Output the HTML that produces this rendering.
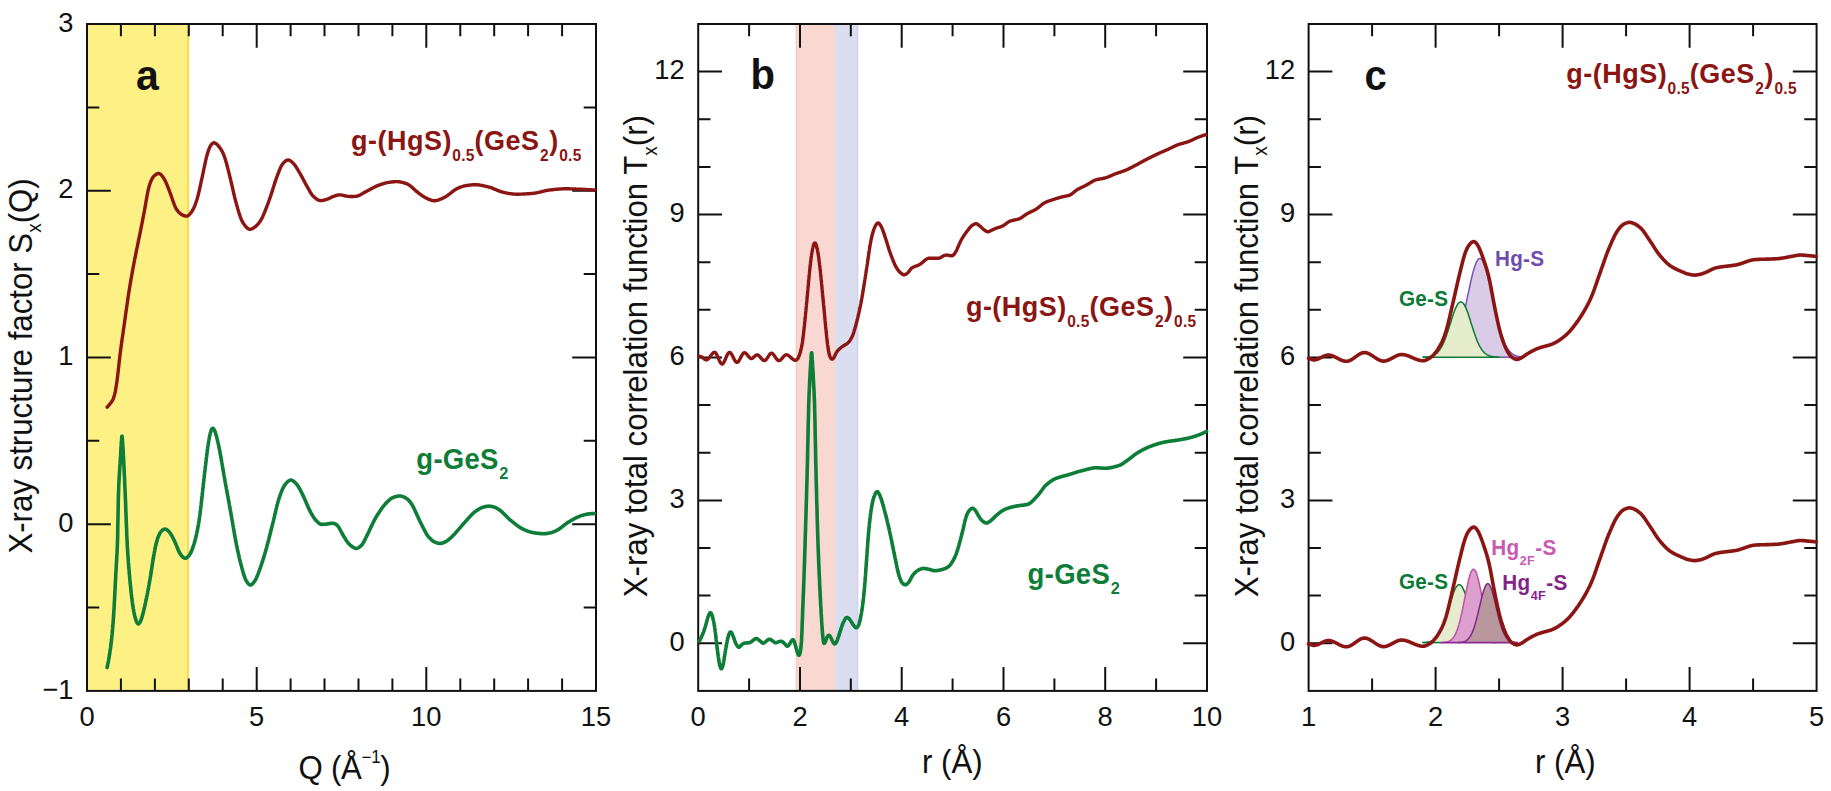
<!DOCTYPE html>
<html lang="en"><head><meta charset="utf-8"><title>X-ray structure factor and total correlation functions</title>
<style>html,body{margin:0;padding:0;background:#fff}body{width:1831px;height:791px;overflow:hidden}svg{display:block}text{font-family:"Liberation Sans", Arial, Helvetica, sans-serif;fill:#111}</style></head><body>
<svg width="1831" height="791" viewBox="0 0 1831 791">
<rect width="1831" height="791" fill="#fff"/>
<g id="panel-a">
<rect x="87" y="24" width="102" height="666.9" fill="#fdf085"/>
<rect x="187.1" y="24" width="2" height="666.9" fill="#f4df4a"/>
<path d="M120.9 690.9v-12.3M120.9 24v12.3M154.9 690.9v-12.3M154.9 24v12.3M188.8 690.9v-12.3M188.8 24v12.3M222.7 690.9v-12.3M222.7 24v12.3M256.7 690.9v-23.8M256.7 24v23.8M290.6 690.9v-12.3M290.6 24v12.3M324.5 690.9v-12.3M324.5 24v12.3M358.5 690.9v-12.3M358.5 24v12.3M392.4 690.9v-12.3M392.4 24v12.3M426.3 690.9v-23.8M426.3 24v23.8M460.3 690.9v-12.3M460.3 24v12.3M494.2 690.9v-12.3M494.2 24v12.3M528.1 690.9v-12.3M528.1 24v12.3M562.1 690.9v-12.3M562.1 24v12.3M87 607.5h12.3M596 607.5h-12.3M87 524.2h23.8M596 524.2h-23.8M87 440.8h12.3M596 440.8h-12.3M87 357.4h23.8M596 357.4h-23.8M87 274.1h12.3M596 274.1h-12.3M87 190.7h23.8M596 190.7h-23.8M87 107.4h12.3M596 107.4h-12.3" fill="none" stroke="#111" stroke-width="2.0"/>
<rect x="87" y="24" width="509" height="666.9" fill="none" stroke="#111" stroke-width="2.0"/>
<path d="M107.2 407.2 L107.7 406.6 L108.2 406 L108.7 405.5 L109.2 404.8 L109.7 404.2 L110.2 403.6 L110.7 402.9 L111.2 402.3 L111.7 401.6 L112.2 400.9 L112.7 400 L113.2 399 L113.7 397.7 L114.2 396.1 L114.7 394.1 L115.2 391.8 L115.7 389.2 L116.2 386.3 L116.7 383.1 L117.2 379.5 L117.7 375.4 L118.2 371.1 L118.7 366.5 L119.2 361.9 L119.7 357.5 L120.2 353.4 L120.7 349.5 L121.2 345.7 L121.7 342.1 L122.2 338.6 L122.7 335.2 L123.2 331.7 L123.7 328.3 L124.2 324.8 L124.7 321.3 L125.2 317.7 L125.7 314.1 L126.2 310.5 L126.7 306.9 L127.2 303.4 L127.7 300 L128.2 296.6 L128.7 293.3 L129.2 290.2 L129.7 287.1 L130.2 284.1 L130.7 281.2 L131.2 278.3 L131.7 275.5 L132.2 272.7 L132.7 269.9 L133.2 267.2 L133.7 264.6 L134.2 261.9 L134.7 259.3 L135.2 256.8 L135.7 254.3 L136.2 251.8 L136.7 249.4 L137.2 247 L137.7 244.6 L138.2 242.2 L138.7 239.7 L139.2 237.3 L139.7 234.9 L140.2 232.4 L140.7 229.9 L141.2 227.4 L141.7 224.8 L142.2 222.3 L142.7 219.7 L143.2 217.1 L143.7 214.5 L144.2 211.9 L144.7 209.2 L145.2 206.4 L145.7 203.5 L146.2 200.6 L146.7 197.7 L147.2 195 L147.7 192.4 L148.2 190.1 L148.7 188 L149.2 186.2 L149.7 184.5 L150.2 183.1 L150.7 181.7 L151.2 180.5 L151.7 179.5 L152.2 178.5 L152.7 177.7 L153.2 177 L153.7 176.4 L154.2 175.9 L154.7 175.4 L155.2 175 L155.7 174.7 L156.2 174.3 L156.7 174 L157.2 173.8 L157.7 173.6 L158.2 173.5 L158.7 173.5 L159.2 173.6 L159.7 173.8 L160.2 174 L160.7 174.4 L161.2 174.9 L161.7 175.5 L162.2 176.1 L162.7 176.8 L163.2 177.5 L163.7 178.2 L164.2 179 L164.7 179.9 L165.2 180.8 L165.7 181.9 L166.2 183 L166.7 184.2 L167.2 185.4 L167.7 186.6 L168.2 187.9 L168.7 189.2 L169.2 190.5 L169.7 191.8 L170.2 193.1 L170.7 194.5 L171.2 195.9 L171.7 197.3 L172.2 198.8 L172.7 200.2 L173.2 201.7 L173.7 203 L174.2 204.4 L174.7 205.6 L175.2 206.7 L175.7 207.8 L176.2 208.7 L176.7 209.5 L177.2 210.3 L177.7 210.9 L178.2 211.6 L178.7 212.1 L179.2 212.7 L179.7 213.1 L180.2 213.6 L180.7 213.9 L181.2 214.3 L181.7 214.6 L182.2 214.9 L182.7 215.1 L183.2 215.3 L183.7 215.6 L184.2 215.8 L184.7 215.9 L185.2 216 L185.7 216.1 L186.2 216.2 L186.7 216.1 L187.2 216 L187.7 215.8 L188.2 215.5 L188.8 215.1 L189.3 214.6 L189.8 214.1 L190.3 213.5 L190.8 212.9 L191.3 212.2 L191.8 211.5 L192.3 210.7 L192.8 209.9 L193.3 208.9 L193.8 207.9 L194.3 206.8 L194.8 205.6 L195.3 204.3 L195.8 202.9 L196.3 201.5 L196.8 200 L197.3 198.3 L197.8 196.5 L198.3 194.5 L198.8 192.5 L199.3 190.3 L199.8 188.1 L200.3 185.8 L200.8 183.5 L201.3 181.2 L201.8 178.9 L202.3 176.6 L202.8 174.2 L203.3 171.8 L203.8 169.4 L204.3 167 L204.8 164.6 L205.3 162.3 L205.8 160 L206.3 157.9 L206.8 156 L207.3 154.2 L207.8 152.5 L208.3 150.9 L208.8 149.5 L209.3 148.3 L209.8 147.1 L210.3 146.2 L210.8 145.3 L211.3 144.6 L211.8 144 L212.3 143.6 L212.8 143.2 L213.3 142.9 L213.8 142.8 L214.3 142.8 L214.8 142.9 L215.3 143.2 L215.8 143.5 L216.3 143.9 L216.8 144.3 L217.3 144.8 L217.8 145.3 L218.3 145.8 L218.8 146.4 L219.3 147 L219.8 147.7 L220.3 148.4 L220.8 149.1 L221.3 149.9 L221.8 150.8 L222.3 151.7 L222.8 152.7 L223.3 153.8 L223.8 155 L224.3 156.3 L224.8 157.7 L225.3 159.3 L225.8 160.9 L226.3 162.7 L226.8 164.5 L227.3 166.5 L227.8 168.4 L228.3 170.4 L228.8 172.4 L229.3 174.4 L229.8 176.4 L230.3 178.5 L230.8 180.6 L231.3 182.7 L231.8 184.8 L232.3 187 L232.8 189.2 L233.3 191.5 L233.8 193.6 L234.3 195.8 L234.8 197.8 L235.3 199.8 L235.8 201.8 L236.3 203.6 L236.8 205.4 L237.3 207.1 L237.8 208.9 L238.3 210.5 L238.8 212.2 L239.3 213.8 L239.8 215.3 L240.3 216.8 L240.8 218.1 L241.3 219.4 L241.8 220.5 L242.3 221.6 L242.8 222.5 L243.3 223.3 L243.8 224 L244.3 224.7 L244.8 225.4 L245.3 226 L245.8 226.6 L246.3 227.2 L246.8 227.7 L247.3 228.1 L247.8 228.5 L248.3 228.8 L248.8 229 L249.3 229.2 L249.8 229.2 L250.3 229.2 L250.8 229.2 L251.3 229 L251.8 228.8 L252.3 228.6 L252.8 228.4 L253.3 228.1 L253.8 227.8 L254.3 227.4 L254.8 227.1 L255.3 226.7 L255.8 226.3 L256.3 225.9 L256.8 225.4 L257.3 224.9 L257.8 224.3 L258.3 223.7 L258.8 223.1 L259.3 222.4 L259.8 221.7 L260.3 221 L260.8 220.2 L261.3 219.3 L261.8 218.4 L262.3 217.4 L262.8 216.4 L263.3 215.3 L263.8 214.1 L264.3 213 L264.8 211.7 L265.3 210.5 L265.8 209.2 L266.3 207.9 L266.8 206.6 L267.3 205.3 L267.8 203.9 L268.3 202.6 L268.8 201.2 L269.3 199.8 L269.8 198.4 L270.3 197 L270.8 195.5 L271.3 193.9 L271.8 192.4 L272.3 190.8 L272.8 189.2 L273.3 187.6 L273.8 186 L274.3 184.4 L274.8 182.9 L275.3 181.4 L275.8 179.9 L276.3 178.5 L276.8 177.1 L277.3 175.7 L277.8 174.4 L278.3 173.1 L278.8 171.8 L279.3 170.5 L279.8 169.3 L280.3 168.1 L280.8 167.1 L281.3 166.1 L281.8 165.2 L282.3 164.4 L282.8 163.8 L283.3 163.2 L283.8 162.6 L284.3 162.1 L284.8 161.6 L285.3 161.2 L285.8 160.8 L286.3 160.5 L286.8 160.3 L287.3 160.1 L287.8 160 L288.3 160 L288.8 160.1 L289.3 160.2 L289.8 160.5 L290.3 160.8 L290.8 161.1 L291.3 161.5 L291.8 161.9 L292.3 162.4 L292.8 162.9 L293.3 163.4 L293.8 163.9 L294.3 164.5 L294.8 165.1 L295.3 165.8 L295.8 166.5 L296.3 167.3 L296.8 168.1 L297.3 168.9 L297.8 169.7 L298.3 170.6 L298.8 171.4 L299.3 172.3 L299.8 173.1 L300.3 174 L300.8 174.9 L301.3 175.8 L301.8 176.7 L302.3 177.6 L302.8 178.6 L303.3 179.5 L303.8 180.5 L304.3 181.4 L304.8 182.3 L305.3 183.3 L305.8 184.2 L306.3 185.1 L306.8 186 L307.3 186.9 L307.8 187.7 L308.3 188.6 L308.8 189.5 L309.3 190.4 L309.8 191.3 L310.3 192.2 L310.8 193 L311.3 193.8 L311.8 194.5 L312.3 195.1 L312.8 195.7 L313.3 196.2 L313.8 196.7 L314.3 197.2 L314.8 197.6 L315.3 198 L315.8 198.4 L316.3 198.8 L316.8 199.2 L317.3 199.5 L317.8 199.8 L318.3 200 L318.8 200.2 L319.3 200.4 L319.8 200.5 L320.3 200.6 L320.8 200.6 L321.3 200.6 L321.8 200.6 L322.3 200.5 L322.8 200.4 L323.3 200.3 L323.8 200.2 L324.3 200.1 L324.8 199.9 L325.3 199.8 L325.8 199.6 L326.3 199.5 L326.8 199.3 L327.3 199.2 L327.8 199 L328.3 198.8 L328.8 198.5 L329.3 198.3 L329.8 198.1 L330.3 197.8 L330.8 197.6 L331.3 197.3 L331.8 197.1 L332.3 196.9 L332.8 196.7 L333.3 196.5 L333.8 196.3 L334.3 196.1 L334.8 195.9 L335.3 195.8 L335.8 195.6 L336.3 195.4 L336.8 195.3 L337.3 195.1 L337.8 195 L338.3 194.9 L338.8 194.9 L339.3 194.9 L339.8 194.9 L340.3 194.9 L340.8 195 L341.3 195 L341.8 195.1 L342.3 195.2 L342.8 195.3 L343.3 195.4 L343.8 195.6 L344.3 195.7 L344.8 195.8 L345.3 195.9 L345.8 196 L346.3 196.1 L346.8 196.1 L347.3 196.2 L347.8 196.3 L348.3 196.4 L348.8 196.4 L349.3 196.5 L349.8 196.5 L350.3 196.5 L350.8 196.5 L351.4 196.5 L351.9 196.5 L352.4 196.5 L352.9 196.5 L353.4 196.5 L353.9 196.4 L354.4 196.4 L354.9 196.4 L355.4 196.4 L355.9 196.3 L356.4 196.3 L356.9 196.2 L357.4 196.1 L357.9 195.9 L358.4 195.7 L358.9 195.5 L359.4 195.3 L359.9 195 L360.4 194.8 L360.9 194.5 L361.4 194.2 L361.9 193.9 L362.4 193.6 L362.9 193.3 L363.4 193 L363.9 192.7 L364.4 192.4 L364.9 192.2 L365.4 191.9 L365.9 191.6 L366.4 191.4 L366.9 191.1 L367.4 190.9 L367.9 190.6 L368.4 190.3 L368.9 190.1 L369.4 189.8 L369.9 189.5 L370.4 189.2 L370.9 189 L371.4 188.7 L371.9 188.4 L372.4 188.2 L372.9 187.9 L373.4 187.6 L373.9 187.4 L374.4 187.1 L374.9 186.9 L375.4 186.6 L375.9 186.4 L376.4 186.2 L376.9 185.9 L377.4 185.7 L377.9 185.5 L378.4 185.3 L378.9 185.1 L379.4 185 L379.9 184.8 L380.4 184.6 L380.9 184.4 L381.4 184.3 L381.9 184.1 L382.4 183.9 L382.9 183.8 L383.4 183.6 L383.9 183.5 L384.4 183.3 L384.9 183.2 L385.4 183.1 L385.9 182.9 L386.4 182.8 L386.9 182.7 L387.4 182.6 L387.9 182.5 L388.4 182.4 L388.9 182.4 L389.4 182.3 L389.9 182.2 L390.4 182.1 L390.9 182.1 L391.4 182 L391.9 182 L392.4 181.9 L392.9 181.8 L393.4 181.8 L393.9 181.7 L394.4 181.7 L394.9 181.7 L395.4 181.6 L395.9 181.6 L396.4 181.6 L396.9 181.6 L397.4 181.6 L397.9 181.7 L398.4 181.7 L398.9 181.8 L399.4 181.8 L399.9 181.9 L400.4 182 L400.9 182.1 L401.4 182.2 L401.9 182.3 L402.4 182.4 L402.9 182.5 L403.4 182.7 L403.9 182.8 L404.4 183 L404.9 183.1 L405.4 183.3 L405.9 183.4 L406.4 183.6 L406.9 183.8 L407.4 184 L407.9 184.3 L408.4 184.5 L408.9 184.9 L409.4 185.2 L409.9 185.6 L410.4 185.9 L410.9 186.4 L411.4 186.8 L411.9 187.2 L412.4 187.7 L412.9 188.1 L413.4 188.6 L413.9 189 L414.4 189.5 L414.9 190 L415.4 190.4 L415.9 190.9 L416.4 191.3 L416.9 191.7 L417.4 192.1 L417.9 192.5 L418.4 192.9 L418.9 193.3 L419.4 193.6 L419.9 194 L420.4 194.4 L420.9 194.8 L421.4 195.1 L421.9 195.5 L422.4 195.8 L422.9 196.2 L423.4 196.5 L423.9 196.8 L424.4 197.1 L424.9 197.4 L425.4 197.7 L425.9 197.9 L426.4 198.2 L426.9 198.4 L427.4 198.6 L427.9 198.9 L428.4 199.1 L428.9 199.3 L429.4 199.5 L429.9 199.7 L430.4 199.9 L430.9 200.1 L431.4 200.3 L431.9 200.4 L432.4 200.5 L432.9 200.6 L433.4 200.7 L433.9 200.7 L434.4 200.7 L434.9 200.7 L435.4 200.7 L435.9 200.6 L436.4 200.5 L436.9 200.4 L437.4 200.3 L437.9 200.2 L438.4 200 L438.9 199.8 L439.4 199.6 L439.9 199.4 L440.4 199.2 L440.9 199 L441.4 198.8 L441.9 198.6 L442.4 198.3 L442.9 198.1 L443.4 197.9 L443.9 197.6 L444.4 197.4 L444.9 197.1 L445.4 196.8 L445.9 196.6 L446.4 196.2 L446.9 195.9 L447.4 195.6 L447.9 195.2 L448.4 194.8 L448.9 194.4 L449.4 194.1 L449.9 193.7 L450.4 193.3 L450.9 192.9 L451.4 192.5 L451.9 192.1 L452.4 191.7 L452.9 191.3 L453.4 190.9 L453.9 190.5 L454.4 190.2 L454.9 189.9 L455.4 189.5 L455.9 189.3 L456.4 189 L456.9 188.7 L457.4 188.5 L457.9 188.2 L458.4 188 L458.9 187.8 L459.4 187.6 L459.9 187.4 L460.4 187.2 L460.9 187 L461.4 186.8 L461.9 186.7 L462.4 186.5 L462.9 186.3 L463.4 186.2 L463.9 186.1 L464.4 185.9 L464.9 185.8 L465.4 185.7 L465.9 185.6 L466.4 185.5 L466.9 185.5 L467.4 185.4 L467.9 185.3 L468.4 185.3 L468.9 185.2 L469.4 185.1 L469.9 185.1 L470.4 185 L470.9 185 L471.4 184.9 L471.9 184.9 L472.4 184.8 L472.9 184.8 L473.4 184.8 L473.9 184.7 L474.4 184.7 L474.9 184.7 L475.4 184.7 L475.9 184.7 L476.4 184.7 L476.9 184.8 L477.4 184.8 L477.9 184.8 L478.4 184.9 L478.9 185 L479.4 185 L479.9 185.1 L480.4 185.2 L480.9 185.3 L481.4 185.4 L481.9 185.4 L482.4 185.5 L482.9 185.6 L483.4 185.8 L483.9 185.9 L484.4 186 L484.9 186.1 L485.4 186.2 L485.9 186.3 L486.4 186.4 L486.9 186.6 L487.4 186.7 L487.9 186.8 L488.4 186.9 L488.9 187.1 L489.4 187.2 L489.9 187.3 L490.4 187.5 L490.9 187.7 L491.4 187.9 L491.9 188 L492.4 188.2 L492.9 188.4 L493.4 188.6 L493.9 188.8 L494.4 189.1 L494.9 189.3 L495.4 189.5 L495.9 189.7 L496.4 189.9 L496.9 190.1 L497.4 190.3 L497.9 190.5 L498.4 190.7 L498.9 190.9 L499.4 191.1 L499.9 191.3 L500.4 191.5 L500.9 191.6 L501.4 191.8 L501.9 191.9 L502.4 192.1 L502.9 192.2 L503.4 192.3 L503.9 192.5 L504.4 192.6 L504.9 192.7 L505.4 192.8 L505.9 192.9 L506.4 193 L506.9 193.1 L507.4 193.2 L507.9 193.3 L508.4 193.4 L508.9 193.5 L509.4 193.6 L509.9 193.6 L510.4 193.7 L510.9 193.8 L511.4 193.8 L511.9 193.9 L512.4 193.9 L512.9 194 L513.4 194 L514 194.1 L514.5 194.1 L515 194.1 L515.5 194.2 L516 194.2 L516.5 194.2 L517 194.2 L517.5 194.2 L518 194.2 L518.5 194.2 L519 194.2 L519.5 194.2 L520 194.1 L520.5 194.1 L521 194.1 L521.5 194.1 L522 194.1 L522.5 194.1 L523 194 L523.5 194 L524 194 L524.5 194 L525 193.9 L525.5 193.9 L526 193.9 L526.5 193.8 L527 193.8 L527.5 193.8 L528 193.7 L528.5 193.7 L529 193.7 L529.5 193.6 L530 193.6 L530.5 193.6 L531 193.5 L531.5 193.5 L532 193.5 L532.5 193.4 L533 193.4 L533.5 193.3 L534 193.3 L534.5 193.2 L535 193.1 L535.5 193 L536 192.9 L536.5 192.8 L537 192.7 L537.5 192.6 L538 192.5 L538.5 192.4 L539 192.3 L539.5 192.2 L540 192.1 L540.5 191.9 L541 191.8 L541.5 191.7 L542 191.6 L542.5 191.4 L543 191.3 L543.5 191.2 L544 191.1 L544.5 190.9 L545 190.8 L545.5 190.7 L546 190.6 L546.5 190.5 L547 190.4 L547.5 190.3 L548 190.3 L548.5 190.2 L549 190.1 L549.5 190.1 L550 190 L550.5 189.9 L551 189.9 L551.5 189.8 L552 189.8 L552.5 189.7 L553 189.7 L553.5 189.6 L554 189.5 L554.5 189.5 L555 189.4 L555.5 189.4 L556 189.3 L556.5 189.3 L557 189.2 L557.5 189.2 L558 189.2 L558.5 189.1 L559 189.1 L559.5 189 L560 189 L560.5 189 L561 188.9 L561.5 188.9 L562 188.9 L562.5 188.9 L563 188.8 L563.5 188.8 L564 188.8 L564.5 188.8 L565 188.8 L565.5 188.8 L566 188.8 L566.5 188.8 L567 188.8 L567.5 188.8 L568 188.8 L568.5 188.8 L569 188.8 L569.5 188.8 L570 188.9 L570.5 188.9 L571 188.9 L571.5 188.9 L572 188.9 L572.5 188.9 L573 188.9 L573.5 189 L574 189 L574.5 189 L575 189 L575.5 189 L576 189.1 L576.5 189.1 L577 189.1 L577.5 189.1 L578 189.1 L578.5 189.2 L579 189.2 L579.5 189.2 L580 189.2 L580.5 189.2 L581 189.3 L581.5 189.3 L582 189.3 L582.5 189.3 L583 189.4 L583.5 189.4 L584 189.4 L584.5 189.4 L585 189.5 L585.5 189.5 L586 189.5 L586.5 189.5 L587 189.6 L587.5 189.6 L588 189.6 L588.5 189.7 L589 189.7 L589.5 189.7 L590 189.7 L590.5 189.8 L591 189.8 L591.5 189.8 L592 189.9 L592.5 189.9 L593 190 L593.5 190 L594 190 L594.5 190.1 L595 190.1" fill="none" stroke="#8a1512" stroke-width="3.4" stroke-linejoin="round" stroke-linecap="round"/>
<path d="M107.1 667.6 L107.3 666.5 L107.6 665.3 L107.8 664.1 L108.1 662.9 L108.3 661.6 L108.6 660.3 L108.8 658.9 L109.1 657.4 L109.3 655.9 L109.6 654.4 L109.8 652.8 L110.1 651.1 L110.3 649.3 L110.6 647.5 L110.8 645.6 L111.1 643.6 L111.3 641.5 L111.6 639.3 L111.8 636.9 L112.1 634.4 L112.3 631.8 L112.6 628.9 L112.8 625.9 L113.1 622.6 L113.3 619.1 L113.6 615.5 L113.8 611.8 L114.1 607.8 L114.3 603.4 L114.6 598.5 L114.8 593.4 L115.1 588.4 L115.3 583.6 L115.6 578.8 L115.8 574.2 L116.1 569.5 L116.3 564.9 L116.6 560.7 L116.8 556.6 L117.1 552 L117.3 546.3 L117.6 538 L117.8 525.9 L118.1 512.3 L118.3 499.8 L118.6 490.7 L118.8 484.7 L119.1 479.6 L119.3 475.3 L119.6 471.3 L119.8 467.6 L120.1 463.9 L120.3 459.9 L120.6 455.4 L120.8 450.8 L121.1 446.4 L121.3 442.7 L121.6 439.3 L121.8 436.4 L122.1 436.1 L122.3 438.6 L122.6 442 L122.8 445.6 L123.1 449.7 L123.3 454.3 L123.6 459 L123.8 463.8 L124.1 468.9 L124.3 474.1 L124.6 479.5 L124.8 485.1 L125.1 490.7 L125.3 496.6 L125.6 503.1 L125.8 509.7 L126.1 516.5 L126.3 523.2 L126.6 529.7 L126.8 535.7 L127.1 541.2 L127.3 545.9 L127.6 550.1 L127.8 554.1 L128.1 557.9 L128.3 561.4 L128.6 564.7 L128.8 567.8 L129.1 570.7 L129.3 573.6 L129.6 576.4 L129.8 579.1 L130.1 581.7 L130.3 584.3 L130.6 586.8 L130.8 589.3 L131.1 591.7 L131.3 594 L131.6 596.2 L131.8 598.3 L132.1 600.3 L132.3 602.2 L132.6 604 L132.8 605.7 L133.1 607.3 L133.3 608.8 L133.6 610.2 L133.8 611.6 L134.1 612.9 L134.3 614 L134.6 615.2 L134.8 616.2 L135.1 617.2 L135.3 618.1 L135.6 618.9 L135.8 619.7 L136.1 620.4 L136.3 621.1 L136.6 621.7 L136.8 622.2 L137.1 622.7 L137.3 623.1 L137.6 623.4 L137.8 623.6 L138.1 623.8 L138.3 623.9 L138.6 623.9 L138.8 623.8 L139.1 623.6 L139.3 623.3 L139.6 623 L139.8 622.6 L140.1 622.2 L140.3 621.7 L140.6 621.1 L140.8 620.5 L141.1 619.9 L141.3 619.2 L141.6 618.5 L141.8 617.7 L142.1 616.9 L142.3 616 L142.6 615.1 L142.8 614.2 L143.1 613.2 L143.3 612.2 L143.6 611.2 L143.8 610.1 L144.1 609.1 L144.3 608 L144.6 606.9 L144.8 605.8 L145.1 604.7 L145.3 603.5 L145.6 602.4 L145.8 601.2 L146.1 600 L146.3 598.8 L146.6 597.6 L146.8 596.4 L147.1 595.1 L147.3 593.9 L147.6 592.6 L147.8 591.3 L148.1 590 L148.3 588.7 L148.6 587.3 L148.8 585.9 L149.1 584.6 L149.3 583.2 L149.6 581.7 L149.8 580.3 L150.1 578.8 L150.3 577.3 L150.6 575.8 L150.8 574.2 L151.1 572.6 L151.3 571 L151.6 569.4 L151.8 567.8 L152.1 566.1 L152.3 564.5 L152.6 562.9 L152.8 561.3 L153.1 559.7 L153.3 558.2 L153.6 556.7 L153.8 555.2 L154.1 553.8 L154.3 552.4 L154.6 551.1 L154.8 549.8 L155.1 548.5 L155.3 547.3 L155.6 546.2 L155.8 545.1 L156.1 544 L156.3 543 L156.6 542.1 L156.8 541.2 L157.1 540.3 L157.3 539.5 L157.6 538.7 L157.8 538 L158.1 537.3 L158.3 536.6 L158.6 536 L158.8 535.4 L159.1 534.9 L159.3 534.3 L159.6 533.8 L159.8 533.4 L160.1 532.9 L160.3 532.5 L160.6 532.1 L160.8 531.8 L161.1 531.5 L161.3 531.2 L161.6 530.9 L161.8 530.7 L162.1 530.4 L162.3 530.2 L162.6 530 L162.8 529.9 L163.1 529.7 L163.3 529.6 L163.6 529.4 L163.8 529.3 L164.1 529.3 L164.3 529.2 L164.6 529.1 L164.8 529.1 L165.1 529.1 L165.3 529.1 L165.6 529.2 L165.8 529.2 L166.1 529.3 L166.3 529.4 L166.6 529.6 L166.8 529.7 L167.1 529.9 L167.3 530.1 L167.6 530.3 L167.8 530.5 L168.1 530.7 L168.3 530.9 L168.6 531.2 L168.8 531.4 L169.1 531.7 L169.3 532 L169.6 532.3 L169.8 532.6 L170.1 533 L170.3 533.3 L170.6 533.7 L170.8 534.1 L171.1 534.5 L171.3 534.9 L171.6 535.3 L171.8 535.8 L172.1 536.2 L172.3 536.7 L172.6 537.1 L172.8 537.6 L173.1 538.1 L173.3 538.6 L173.6 539.1 L173.8 539.6 L174.1 540.1 L174.3 540.6 L174.6 541.2 L174.8 541.7 L175.1 542.3 L175.3 542.8 L175.6 543.4 L175.8 544 L176.1 544.6 L176.3 545.3 L176.6 545.9 L176.8 546.5 L177.1 547.1 L177.3 547.8 L177.6 548.4 L177.8 549 L178.1 549.6 L178.3 550.2 L178.6 550.7 L178.8 551.3 L179.1 551.8 L179.3 552.3 L179.6 552.8 L179.8 553.2 L180.1 553.6 L180.3 554 L180.6 554.4 L180.8 554.7 L181.1 555.1 L181.3 555.4 L181.6 555.7 L181.8 556 L182.1 556.3 L182.3 556.5 L182.6 556.8 L182.8 557 L183.1 557.2 L183.3 557.4 L183.6 557.6 L183.8 557.8 L184.1 557.9 L184.3 558 L184.6 558.1 L184.8 558.2 L185.1 558.2 L185.3 558.2 L185.6 558.2 L185.8 558.2 L186.1 558.1 L186.3 558 L186.6 557.8 L186.8 557.7 L187.1 557.5 L187.3 557.3 L187.6 557.1 L187.8 556.8 L188.1 556.6 L188.3 556.3 L188.6 556 L188.8 555.7 L189.1 555.4 L189.3 555 L189.6 554.7 L189.8 554.3 L190.1 553.9 L190.3 553.5 L190.6 553 L190.8 552.5 L191.1 552 L191.3 551.5 L191.6 550.9 L191.8 550.3 L192.1 549.7 L192.3 549 L192.6 548.4 L192.8 547.7 L193.1 546.9 L193.3 546.2 L193.6 545.4 L193.8 544.7 L194.1 543.8 L194.3 543 L194.6 542.1 L194.8 541.3 L195.1 540.3 L195.3 539.4 L195.6 538.4 L195.8 537.4 L196.1 536.3 L196.3 535.2 L196.6 534.1 L196.8 532.9 L197.1 531.7 L197.3 530.5 L197.6 529.2 L197.8 527.9 L198.1 526.5 L198.3 525.1 L198.6 523.6 L198.8 522.1 L199.1 520.5 L199.3 518.8 L199.6 517 L199.8 515.2 L200.1 513.3 L200.3 511.3 L200.6 509.2 L200.8 507.1 L201.1 505 L201.3 502.8 L201.6 500.6 L201.8 498.3 L202.1 496 L202.3 493.7 L202.6 491.4 L202.8 489.1 L203.1 486.9 L203.3 484.6 L203.6 482.3 L203.8 480.1 L204.1 477.9 L204.3 475.7 L204.6 473.5 L204.8 471.4 L205.1 469.2 L205.3 467 L205.6 464.9 L205.8 462.8 L206.1 460.7 L206.3 458.6 L206.6 456.5 L206.8 454.5 L207.1 452.5 L207.3 450.6 L207.6 448.7 L207.8 446.9 L208.1 445.2 L208.3 443.6 L208.6 442 L208.8 440.5 L209.1 439 L209.3 437.7 L209.6 436.4 L209.8 435.2 L210.1 434.1 L210.3 433.1 L210.6 432.2 L210.8 431.4 L211.1 430.7 L211.3 430 L211.6 429.5 L211.8 429.1 L212.1 428.7 L212.3 428.5 L212.6 428.4 L212.8 428.4 L213.1 428.4 L213.3 428.6 L213.6 428.8 L213.8 429.2 L214.1 429.6 L214.3 430.1 L214.6 430.6 L214.8 431.2 L215.1 431.8 L215.3 432.5 L215.6 433.3 L215.8 434.1 L216.1 434.9 L216.3 435.8 L216.6 436.7 L216.8 437.7 L217.1 438.7 L217.3 439.7 L217.6 440.8 L217.8 441.9 L218.1 443 L218.3 444.2 L218.6 445.3 L218.8 446.5 L219.1 447.7 L219.3 449 L219.6 450.2 L219.8 451.5 L220.1 452.8 L220.3 454.2 L220.6 455.5 L220.8 456.9 L221.1 458.3 L221.3 459.7 L221.6 461.2 L221.8 462.6 L222.1 464.1 L222.3 465.5 L222.6 467 L222.8 468.4 L223.1 469.9 L223.3 471.4 L223.6 472.8 L223.8 474.3 L224.1 475.7 L224.3 477.1 L224.6 478.6 L224.8 480 L225.1 481.4 L225.3 482.8 L225.6 484.2 L225.8 485.5 L226.1 486.9 L226.3 488.3 L226.6 489.6 L226.8 491 L227.1 492.4 L227.3 493.7 L227.6 495.1 L227.8 496.4 L228.1 497.8 L228.3 499.2 L228.6 500.5 L228.8 501.9 L229.1 503.2 L229.3 504.6 L229.6 506 L229.8 507.4 L230.1 508.7 L230.3 510.1 L230.6 511.5 L230.8 512.9 L231.1 514.3 L231.3 515.7 L231.6 517.1 L231.8 518.5 L232.1 520 L232.3 521.4 L232.6 522.9 L232.8 524.3 L233.1 525.8 L233.3 527.3 L233.6 528.7 L233.8 530.2 L234.1 531.6 L234.3 533.1 L234.6 534.5 L234.8 536 L235.1 537.4 L235.3 538.7 L235.6 540.1 L235.8 541.4 L236.1 542.8 L236.3 544 L236.6 545.3 L236.8 546.5 L237.1 547.7 L237.3 548.9 L237.6 550.1 L237.8 551.3 L238.1 552.4 L238.3 553.5 L238.6 554.6 L238.8 555.7 L239.1 556.8 L239.3 557.9 L239.6 558.9 L239.8 559.9 L240.1 560.9 L240.3 561.9 L240.6 562.9 L240.8 563.9 L241.1 564.8 L241.3 565.8 L241.6 566.7 L241.8 567.7 L242.1 568.6 L242.3 569.5 L242.6 570.4 L242.8 571.3 L243.1 572.2 L243.3 573 L243.6 573.9 L243.8 574.7 L244.1 575.5 L244.3 576.2 L244.6 576.9 L244.8 577.6 L245.1 578.3 L245.3 578.9 L245.6 579.4 L245.8 579.9 L246.1 580.4 L246.3 580.9 L246.6 581.3 L246.8 581.7 L247.1 582.1 L247.3 582.5 L247.6 582.8 L247.8 583.1 L248.1 583.4 L248.3 583.7 L248.6 584 L248.8 584.2 L249.1 584.4 L249.3 584.6 L249.6 584.8 L249.8 584.9 L250.1 584.9 L250.3 585 L250.6 585 L250.8 585 L251.1 584.9 L251.3 584.8 L251.6 584.7 L251.8 584.5 L252.1 584.3 L252.3 584.1 L252.6 583.8 L252.8 583.6 L253.1 583.3 L253.3 583 L253.6 582.7 L253.8 582.3 L254.1 582 L254.3 581.6 L254.6 581.3 L254.8 580.9 L255.1 580.5 L255.3 580 L255.6 579.6 L255.8 579.1 L256.1 578.6 L256.4 578.1 L256.6 577.5 L256.9 576.9 L257.1 576.3 L257.4 575.7 L257.6 575.1 L257.9 574.4 L258.1 573.8 L258.4 573.1 L258.6 572.4 L258.9 571.7 L259.1 571.1 L259.4 570.4 L259.6 569.7 L259.9 569 L260.1 568.3 L260.4 567.6 L260.6 566.9 L260.9 566.2 L261.1 565.4 L261.4 564.7 L261.6 564 L261.9 563.2 L262.1 562.4 L262.4 561.7 L262.6 560.9 L262.9 560.1 L263.1 559.3 L263.4 558.5 L263.6 557.7 L263.9 556.9 L264.1 556.1 L264.4 555.3 L264.6 554.4 L264.9 553.6 L265.1 552.7 L265.4 551.9 L265.6 551 L265.9 550.1 L266.1 549.2 L266.4 548.3 L266.6 547.4 L266.9 546.5 L267.1 545.6 L267.4 544.6 L267.6 543.7 L267.9 542.8 L268.1 541.8 L268.4 540.9 L268.6 539.9 L268.9 538.9 L269.1 538 L269.4 537 L269.6 536 L269.9 535 L270.1 534 L270.4 533 L270.6 532 L270.9 531 L271.1 530 L271.4 529 L271.6 528 L271.9 527 L272.1 526 L272.4 525 L272.6 524 L272.9 522.9 L273.1 521.9 L273.4 520.9 L273.6 519.8 L273.9 518.8 L274.1 517.7 L274.4 516.6 L274.6 515.6 L274.9 514.5 L275.1 513.4 L275.4 512.4 L275.6 511.3 L275.9 510.2 L276.1 509.2 L276.4 508.1 L276.6 507.1 L276.9 506.1 L277.1 505.1 L277.4 504.2 L277.6 503.2 L277.9 502.3 L278.1 501.4 L278.4 500.5 L278.6 499.7 L278.9 498.9 L279.1 498.1 L279.4 497.3 L279.6 496.6 L279.9 495.9 L280.1 495.2 L280.4 494.5 L280.6 493.8 L280.9 493.1 L281.1 492.5 L281.4 491.8 L281.6 491.2 L281.9 490.6 L282.1 490 L282.4 489.5 L282.6 488.9 L282.9 488.4 L283.1 487.9 L283.4 487.4 L283.6 486.9 L283.9 486.5 L284.1 486.1 L284.4 485.7 L284.6 485.3 L284.9 484.9 L285.1 484.6 L285.4 484.3 L285.6 483.9 L285.9 483.6 L286.1 483.3 L286.4 483.1 L286.6 482.8 L286.9 482.5 L287.1 482.3 L287.4 482 L287.6 481.8 L287.9 481.5 L288.1 481.3 L288.4 481.1 L288.6 480.9 L288.9 480.8 L289.1 480.6 L289.4 480.5 L289.6 480.4 L289.9 480.3 L290.1 480.2 L290.4 480.1 L290.6 480.1 L290.9 480.1 L291.1 480.1 L291.4 480.1 L291.6 480.2 L291.9 480.3 L292.1 480.4 L292.4 480.5 L292.6 480.6 L292.9 480.8 L293.1 480.9 L293.4 481.1 L293.6 481.3 L293.9 481.5 L294.1 481.7 L294.4 481.9 L294.6 482.1 L294.9 482.4 L295.1 482.6 L295.4 482.9 L295.6 483.1 L295.9 483.4 L296.1 483.6 L296.4 483.9 L296.6 484.2 L296.9 484.5 L297.1 484.8 L297.4 485.2 L297.6 485.5 L297.9 485.9 L298.1 486.2 L298.4 486.6 L298.6 487 L298.9 487.5 L299.1 487.9 L299.4 488.3 L299.6 488.8 L299.9 489.2 L300.1 489.7 L300.4 490.2 L300.6 490.7 L300.9 491.2 L301.1 491.7 L301.4 492.1 L301.6 492.6 L301.9 493.1 L302.1 493.6 L302.4 494.1 L302.6 494.6 L302.9 495.2 L303.1 495.7 L303.4 496.2 L303.6 496.8 L303.9 497.3 L304.1 497.9 L304.4 498.4 L304.6 499 L304.9 499.6 L305.1 500.1 L305.4 500.7 L305.6 501.3 L305.9 501.9 L306.1 502.5 L306.4 503.1 L306.6 503.7 L306.9 504.2 L307.1 504.8 L307.4 505.4 L307.6 506 L307.9 506.5 L308.1 507.1 L308.4 507.7 L308.6 508.2 L308.9 508.7 L309.1 509.3 L309.4 509.8 L309.6 510.3 L309.9 510.8 L310.1 511.3 L310.4 511.8 L310.6 512.2 L310.9 512.7 L311.1 513.1 L311.4 513.6 L311.6 514 L311.9 514.5 L312.1 514.9 L312.4 515.3 L312.6 515.7 L312.9 516.1 L313.1 516.5 L313.4 516.9 L313.6 517.3 L313.9 517.7 L314.1 518 L314.4 518.4 L314.6 518.7 L314.9 519.1 L315.1 519.4 L315.4 519.7 L315.6 520 L315.9 520.3 L316.1 520.6 L316.4 520.8 L316.6 521.1 L316.9 521.4 L317.1 521.6 L317.4 521.9 L317.6 522.1 L317.9 522.3 L318.1 522.6 L318.4 522.8 L318.6 523 L318.9 523.2 L319.1 523.4 L319.4 523.6 L319.6 523.7 L319.9 523.9 L320.1 524 L320.4 524.1 L320.6 524.2 L320.9 524.2 L321.1 524.3 L321.4 524.3 L321.6 524.3 L321.9 524.3 L322.1 524.4 L322.4 524.4 L322.6 524.3 L322.9 524.3 L323.1 524.3 L323.4 524.3 L323.6 524.3 L323.9 524.3 L324.1 524.3 L324.4 524.2 L324.6 524.2 L324.9 524.2 L325.1 524.2 L325.4 524.2 L325.6 524.1 L325.9 524.1 L326.1 524.1 L326.4 524.1 L326.6 524 L326.9 524 L327.1 524 L327.4 523.9 L327.6 523.9 L327.9 523.9 L328.1 523.8 L328.4 523.8 L328.6 523.7 L328.9 523.7 L329.1 523.6 L329.4 523.6 L329.6 523.5 L329.9 523.5 L330.1 523.4 L330.4 523.4 L330.6 523.4 L330.9 523.3 L331.1 523.3 L331.4 523.2 L331.6 523.2 L331.9 523.2 L332.1 523.2 L332.4 523.2 L332.6 523.2 L332.9 523.2 L333.1 523.2 L333.4 523.3 L333.6 523.3 L333.9 523.4 L334.1 523.5 L334.4 523.6 L334.6 523.7 L334.9 523.8 L335.1 523.9 L335.4 524 L335.6 524.2 L335.9 524.3 L336.1 524.5 L336.4 524.6 L336.6 524.8 L336.9 525 L337.1 525.3 L337.4 525.5 L337.6 525.8 L337.9 526 L338.1 526.4 L338.4 526.7 L338.6 527.1 L338.9 527.4 L339.1 527.9 L339.4 528.3 L339.6 528.7 L339.9 529.2 L340.1 529.6 L340.4 530.1 L340.6 530.6 L340.9 531.1 L341.1 531.6 L341.4 532.1 L341.6 532.5 L341.9 533 L342.1 533.5 L342.4 533.9 L342.6 534.4 L342.9 534.8 L343.1 535.2 L343.4 535.7 L343.6 536.1 L343.9 536.5 L344.1 536.9 L344.4 537.3 L344.6 537.7 L344.9 538.1 L345.1 538.5 L345.4 538.9 L345.6 539.3 L345.9 539.7 L346.1 540.1 L346.4 540.5 L346.6 540.9 L346.9 541.2 L347.1 541.6 L347.4 541.9 L347.6 542.3 L347.9 542.6 L348.1 542.9 L348.4 543.2 L348.6 543.5 L348.9 543.8 L349.1 544 L349.4 544.3 L349.6 544.5 L349.9 544.8 L350.1 545 L350.4 545.2 L350.6 545.4 L350.9 545.6 L351.1 545.8 L351.4 546 L351.6 546.2 L351.9 546.4 L352.1 546.6 L352.4 546.8 L352.6 547 L352.9 547.1 L353.1 547.3 L353.4 547.4 L353.6 547.6 L353.9 547.7 L354.1 547.8 L354.4 547.9 L354.6 548 L354.9 548.1 L355.1 548.2 L355.4 548.3 L355.6 548.3 L355.9 548.3 L356.1 548.4 L356.4 548.4 L356.6 548.3 L356.9 548.3 L357.1 548.3 L357.4 548.2 L357.6 548.1 L357.9 548 L358.1 547.9 L358.4 547.8 L358.6 547.6 L358.9 547.5 L359.1 547.3 L359.4 547.1 L359.6 546.9 L359.9 546.7 L360.1 546.5 L360.4 546.3 L360.6 546.1 L360.9 545.9 L361.1 545.6 L361.4 545.4 L361.6 545.1 L361.9 544.8 L362.1 544.5 L362.4 544.2 L362.6 543.8 L362.9 543.5 L363.1 543.1 L363.4 542.7 L363.6 542.2 L363.9 541.8 L364.1 541.3 L364.4 540.8 L364.6 540.3 L364.9 539.8 L365.1 539.3 L365.4 538.8 L365.6 538.3 L365.9 537.7 L366.1 537.2 L366.4 536.7 L366.6 536.2 L366.9 535.7 L367.1 535.2 L367.4 534.7 L367.6 534.2 L367.9 533.7 L368.1 533.1 L368.4 532.6 L368.6 532.1 L368.9 531.6 L369.1 531 L369.4 530.5 L369.6 530 L369.9 529.4 L370.1 528.9 L370.4 528.4 L370.6 527.8 L370.9 527.3 L371.1 526.8 L371.4 526.3 L371.6 525.7 L371.9 525.2 L372.1 524.7 L372.4 524.2 L372.6 523.7 L372.9 523.1 L373.1 522.6 L373.4 522.1 L373.6 521.6 L373.9 521.2 L374.1 520.7 L374.4 520.2 L374.6 519.7 L374.9 519.3 L375.1 518.8 L375.4 518.4 L375.6 517.9 L375.9 517.5 L376.1 517.1 L376.4 516.7 L376.6 516.2 L376.9 515.8 L377.1 515.4 L377.4 515 L377.6 514.6 L377.9 514.2 L378.1 513.8 L378.4 513.4 L378.6 513 L378.9 512.6 L379.1 512.2 L379.4 511.9 L379.6 511.5 L379.9 511.1 L380.1 510.7 L380.4 510.4 L380.6 510 L380.9 509.6 L381.1 509.3 L381.4 508.9 L381.6 508.6 L381.9 508.2 L382.1 507.9 L382.4 507.6 L382.6 507.2 L382.9 506.9 L383.1 506.6 L383.4 506.3 L383.6 505.9 L383.9 505.6 L384.1 505.3 L384.4 505 L384.6 504.8 L384.9 504.5 L385.1 504.2 L385.4 503.9 L385.6 503.6 L385.9 503.4 L386.1 503.1 L386.4 502.9 L386.6 502.6 L386.9 502.3 L387.1 502.1 L387.4 501.8 L387.6 501.6 L387.9 501.3 L388.1 501.1 L388.4 500.9 L388.6 500.6 L388.9 500.4 L389.1 500.2 L389.4 500 L389.6 499.7 L389.9 499.5 L390.1 499.3 L390.4 499.1 L390.6 498.9 L390.9 498.8 L391.1 498.6 L391.4 498.4 L391.6 498.3 L391.9 498.1 L392.1 498 L392.4 497.9 L392.6 497.7 L392.9 497.6 L393.1 497.5 L393.4 497.4 L393.6 497.3 L393.9 497.2 L394.1 497.1 L394.4 497 L394.6 497 L394.9 496.9 L395.1 496.8 L395.4 496.7 L395.6 496.6 L395.9 496.6 L396.1 496.5 L396.4 496.4 L396.6 496.4 L396.9 496.3 L397.1 496.3 L397.4 496.2 L397.6 496.2 L397.9 496.1 L398.1 496.1 L398.4 496 L398.6 496 L398.9 496 L399.1 496 L399.4 496 L399.6 496 L399.9 496 L400.1 496 L400.4 496 L400.6 496 L400.9 496.1 L401.1 496.1 L401.4 496.2 L401.6 496.2 L401.9 496.3 L402.1 496.4 L402.4 496.4 L402.6 496.5 L402.9 496.6 L403.1 496.7 L403.4 496.8 L403.6 496.9 L403.9 497 L404.1 497.1 L404.4 497.3 L404.6 497.4 L404.9 497.5 L405.1 497.6 L405.4 497.8 L405.6 497.9 L405.9 498.1 L406.1 498.2 L406.4 498.4 L406.6 498.6 L406.9 498.7 L407.1 498.9 L407.4 499.1 L407.6 499.4 L407.9 499.6 L408.1 499.8 L408.4 500.1 L408.6 500.3 L408.9 500.6 L409.1 500.8 L409.4 501.1 L409.6 501.4 L409.9 501.7 L410.1 502 L410.4 502.3 L410.6 502.6 L410.9 503 L411.1 503.3 L411.4 503.7 L411.6 504.1 L411.9 504.5 L412.1 504.9 L412.4 505.3 L412.6 505.7 L412.9 506.2 L413.1 506.6 L413.4 507.1 L413.6 507.6 L413.9 508.1 L414.1 508.6 L414.4 509.1 L414.6 509.7 L414.9 510.2 L415.1 510.7 L415.4 511.3 L415.6 511.8 L415.9 512.4 L416.1 512.9 L416.4 513.5 L416.6 514 L416.9 514.6 L417.1 515.2 L417.4 515.7 L417.6 516.3 L417.9 516.8 L418.1 517.4 L418.4 517.9 L418.6 518.5 L418.9 519 L419.1 519.5 L419.4 520 L419.6 520.6 L419.9 521.1 L420.1 521.6 L420.4 522.1 L420.6 522.6 L420.9 523.1 L421.1 523.6 L421.4 524.1 L421.6 524.6 L421.9 525.1 L422.1 525.6 L422.4 526.1 L422.6 526.6 L422.9 527.1 L423.1 527.6 L423.4 528.1 L423.6 528.6 L423.9 529.1 L424.1 529.6 L424.4 530 L424.6 530.5 L424.9 531 L425.1 531.5 L425.4 531.9 L425.6 532.4 L425.9 532.8 L426.1 533.3 L426.4 533.7 L426.6 534.1 L426.9 534.5 L427.1 534.9 L427.4 535.2 L427.6 535.6 L427.9 536 L428.1 536.3 L428.4 536.6 L428.6 536.9 L428.9 537.2 L429.1 537.5 L429.4 537.8 L429.6 538.1 L429.9 538.3 L430.1 538.6 L430.4 538.8 L430.6 539.1 L430.9 539.3 L431.1 539.6 L431.4 539.8 L431.6 540 L431.9 540.2 L432.1 540.4 L432.4 540.6 L432.6 540.8 L432.9 541 L433.1 541.2 L433.4 541.3 L433.6 541.5 L433.9 541.6 L434.1 541.8 L434.4 541.9 L434.6 542 L434.9 542.1 L435.1 542.2 L435.4 542.3 L435.6 542.4 L435.9 542.5 L436.1 542.6 L436.4 542.7 L436.6 542.8 L436.9 542.9 L437.1 542.9 L437.4 543 L437.6 543.1 L437.9 543.1 L438.1 543.2 L438.4 543.3 L438.6 543.3 L438.9 543.3 L439.1 543.4 L439.4 543.4 L439.6 543.4 L439.9 543.4 L440.1 543.4 L440.4 543.4 L440.6 543.4 L440.9 543.4 L441.1 543.3 L441.4 543.3 L441.6 543.2 L441.9 543.2 L442.1 543.1 L442.4 543.1 L442.6 543 L442.9 542.9 L443.1 542.8 L443.4 542.7 L443.6 542.6 L443.9 542.5 L444.1 542.4 L444.4 542.3 L444.6 542.2 L444.9 542 L445.1 541.9 L445.4 541.8 L445.6 541.7 L445.9 541.5 L446.1 541.4 L446.4 541.3 L446.6 541.1 L446.9 541 L447.1 540.8 L447.4 540.6 L447.6 540.5 L447.9 540.3 L448.1 540.1 L448.4 539.9 L448.6 539.7 L448.9 539.5 L449.1 539.3 L449.4 539 L449.6 538.8 L449.9 538.6 L450.1 538.4 L450.4 538.1 L450.6 537.9 L450.9 537.7 L451.1 537.5 L451.4 537.2 L451.6 537 L451.9 536.7 L452.1 536.5 L452.4 536.3 L452.6 536 L452.9 535.8 L453.1 535.5 L453.4 535.3 L453.6 535 L453.9 534.7 L454.1 534.5 L454.4 534.2 L454.6 533.9 L454.9 533.7 L455.1 533.4 L455.4 533.1 L455.6 532.8 L455.9 532.6 L456.1 532.3 L456.4 532 L456.6 531.7 L456.9 531.4 L457.1 531.1 L457.4 530.8 L457.6 530.5 L457.9 530.2 L458.1 529.9 L458.4 529.6 L458.6 529.4 L458.9 529.1 L459.1 528.8 L459.4 528.5 L459.6 528.2 L459.9 527.9 L460.1 527.6 L460.4 527.3 L460.6 527 L460.9 526.7 L461.1 526.4 L461.4 526.1 L461.6 525.8 L461.9 525.5 L462.1 525.2 L462.4 524.9 L462.6 524.6 L462.9 524.4 L463.1 524.1 L463.4 523.8 L463.6 523.5 L463.9 523.2 L464.1 523 L464.4 522.7 L464.6 522.4 L464.9 522.1 L465.1 521.9 L465.4 521.6 L465.6 521.3 L465.9 521.1 L466.1 520.8 L466.4 520.5 L466.6 520.2 L466.9 520 L467.1 519.7 L467.4 519.4 L467.6 519.1 L467.9 518.9 L468.1 518.6 L468.4 518.3 L468.6 518 L468.9 517.8 L469.1 517.5 L469.4 517.2 L469.6 516.9 L469.9 516.7 L470.1 516.4 L470.4 516.1 L470.6 515.9 L470.9 515.6 L471.1 515.3 L471.4 515.1 L471.6 514.8 L471.9 514.6 L472.1 514.3 L472.4 514.1 L472.6 513.8 L472.9 513.6 L473.1 513.3 L473.4 513.1 L473.6 512.9 L473.9 512.7 L474.1 512.4 L474.4 512.2 L474.6 512 L474.9 511.8 L475.1 511.6 L475.4 511.4 L475.6 511.2 L475.9 511.1 L476.1 510.9 L476.4 510.7 L476.6 510.5 L476.9 510.4 L477.1 510.2 L477.4 510 L477.6 509.9 L477.9 509.7 L478.1 509.6 L478.4 509.4 L478.6 509.3 L478.9 509.1 L479.1 509 L479.4 508.8 L479.6 508.7 L479.9 508.5 L480.1 508.4 L480.4 508.3 L480.6 508.2 L480.9 508.1 L481.1 507.9 L481.4 507.8 L481.6 507.7 L481.9 507.6 L482.1 507.5 L482.4 507.4 L482.6 507.4 L482.9 507.3 L483.1 507.2 L483.4 507.1 L483.6 507 L483.9 507 L484.1 506.9 L484.4 506.8 L484.6 506.8 L484.9 506.7 L485.1 506.6 L485.4 506.6 L485.6 506.5 L485.9 506.5 L486.1 506.4 L486.4 506.4 L486.6 506.3 L486.9 506.3 L487.1 506.3 L487.4 506.2 L487.6 506.2 L487.9 506.2 L488.1 506.2 L488.4 506.1 L488.6 506.1 L488.9 506.1 L489.1 506.2 L489.4 506.2 L489.6 506.2 L489.9 506.2 L490.1 506.2 L490.4 506.3 L490.6 506.3 L490.9 506.3 L491.1 506.4 L491.4 506.4 L491.6 506.5 L491.9 506.5 L492.1 506.6 L492.4 506.6 L492.6 506.7 L492.9 506.7 L493.1 506.8 L493.4 506.9 L493.6 506.9 L493.9 507 L494.1 507.1 L494.4 507.2 L494.6 507.2 L494.9 507.3 L495.1 507.4 L495.4 507.5 L495.6 507.6 L495.9 507.8 L496.1 507.9 L496.4 508 L496.6 508.1 L496.9 508.3 L497.1 508.4 L497.4 508.6 L497.6 508.7 L497.9 508.9 L498.1 509 L498.4 509.2 L498.6 509.4 L498.9 509.5 L499.1 509.7 L499.4 509.9 L499.6 510 L499.9 510.2 L500.1 510.4 L500.4 510.6 L500.6 510.8 L500.9 511 L501.1 511.2 L501.4 511.4 L501.6 511.6 L501.9 511.8 L502.1 512.1 L502.4 512.3 L502.6 512.5 L502.9 512.8 L503.1 513 L503.4 513.2 L503.6 513.5 L503.9 513.7 L504.1 514 L504.4 514.2 L504.6 514.5 L504.9 514.7 L505.1 515 L505.4 515.3 L505.6 515.5 L505.9 515.8 L506.1 516 L506.4 516.3 L506.6 516.5 L506.9 516.8 L507.1 517 L507.4 517.3 L507.6 517.5 L507.9 517.8 L508.1 518 L508.4 518.3 L508.6 518.5 L508.9 518.8 L509.1 519 L509.4 519.2 L509.6 519.4 L509.9 519.7 L510.1 519.9 L510.4 520.1 L510.6 520.3 L510.9 520.5 L511.1 520.7 L511.4 520.9 L511.6 521.1 L511.9 521.3 L512.1 521.5 L512.4 521.7 L512.6 521.9 L512.9 522.1 L513.1 522.3 L513.4 522.5 L513.6 522.7 L513.9 522.9 L514.1 523.1 L514.4 523.3 L514.6 523.5 L514.9 523.7 L515.1 523.9 L515.4 524.1 L515.6 524.3 L515.9 524.5 L516.1 524.7 L516.4 524.9 L516.6 525.1 L516.9 525.3 L517.1 525.5 L517.4 525.6 L517.6 525.8 L517.9 526 L518.1 526.2 L518.4 526.4 L518.6 526.5 L518.9 526.7 L519.1 526.9 L519.4 527 L519.6 527.2 L519.9 527.4 L520.1 527.5 L520.4 527.7 L520.6 527.8 L520.9 528 L521.1 528.1 L521.4 528.3 L521.6 528.4 L521.9 528.6 L522.1 528.7 L522.4 528.8 L522.6 529 L522.9 529.1 L523.1 529.2 L523.4 529.3 L523.6 529.4 L523.9 529.6 L524.1 529.7 L524.4 529.8 L524.6 529.9 L524.9 530 L525.1 530.1 L525.4 530.2 L525.6 530.3 L525.9 530.4 L526.1 530.5 L526.4 530.6 L526.6 530.7 L526.9 530.8 L527.1 530.9 L527.4 531 L527.6 531.1 L527.9 531.2 L528.1 531.3 L528.4 531.3 L528.6 531.4 L528.9 531.5 L529.1 531.6 L529.4 531.7 L529.6 531.8 L529.9 531.8 L530.1 531.9 L530.4 532 L530.6 532 L530.9 532.1 L531.1 532.2 L531.4 532.2 L531.6 532.3 L531.9 532.4 L532.1 532.4 L532.4 532.5 L532.6 532.5 L532.9 532.6 L533.1 532.6 L533.4 532.7 L533.6 532.7 L533.9 532.8 L534.1 532.8 L534.4 532.8 L534.6 532.9 L534.9 532.9 L535.1 533 L535.4 533 L535.6 533 L535.9 533.1 L536.1 533.1 L536.4 533.1 L536.6 533.2 L536.9 533.2 L537.1 533.2 L537.4 533.3 L537.6 533.3 L537.9 533.3 L538.1 533.3 L538.4 533.4 L538.6 533.4 L538.9 533.4 L539.1 533.4 L539.4 533.5 L539.6 533.5 L539.9 533.5 L540.1 533.5 L540.4 533.6 L540.6 533.6 L540.9 533.6 L541.1 533.6 L541.4 533.6 L541.6 533.6 L541.9 533.6 L542.1 533.7 L542.4 533.7 L542.6 533.7 L542.9 533.7 L543.1 533.7 L543.4 533.7 L543.6 533.7 L543.9 533.7 L544.1 533.7 L544.4 533.7 L544.6 533.7 L544.9 533.6 L545.1 533.6 L545.4 533.6 L545.6 533.6 L545.9 533.6 L546.1 533.5 L546.4 533.5 L546.6 533.5 L546.9 533.4 L547.1 533.4 L547.4 533.4 L547.6 533.3 L547.9 533.3 L548.1 533.2 L548.4 533.2 L548.6 533.2 L548.9 533.1 L549.1 533.1 L549.4 533 L549.6 533 L549.9 532.9 L550.1 532.9 L550.4 532.8 L550.6 532.8 L550.9 532.7 L551.1 532.6 L551.4 532.6 L551.6 532.5 L551.9 532.4 L552.1 532.4 L552.4 532.3 L552.6 532.2 L552.9 532.1 L553.1 532 L553.4 531.9 L553.6 531.8 L553.9 531.7 L554.1 531.6 L554.4 531.5 L554.6 531.4 L554.9 531.3 L555.1 531.2 L555.4 531.1 L555.6 531 L555.9 530.8 L556.1 530.7 L556.4 530.6 L556.6 530.5 L556.9 530.3 L557.1 530.2 L557.4 530.1 L557.6 529.9 L557.9 529.8 L558.1 529.7 L558.4 529.5 L558.6 529.3 L558.9 529.2 L559.1 529 L559.4 528.9 L559.6 528.7 L559.9 528.5 L560.1 528.3 L560.4 528.1 L560.6 528 L560.9 527.8 L561.1 527.6 L561.4 527.4 L561.6 527.2 L561.9 527 L562.1 526.8 L562.4 526.6 L562.6 526.4 L562.9 526.2 L563.1 526 L563.4 525.8 L563.6 525.6 L563.9 525.4 L564.1 525.2 L564.4 525 L564.6 524.8 L564.9 524.6 L565.1 524.4 L565.4 524.3 L565.6 524.1 L565.9 523.9 L566.1 523.7 L566.4 523.5 L566.6 523.3 L566.9 523.2 L567.1 523 L567.4 522.8 L567.6 522.7 L567.9 522.5 L568.1 522.3 L568.4 522.2 L568.6 522 L568.9 521.9 L569.1 521.7 L569.4 521.6 L569.6 521.4 L569.9 521.3 L570.1 521.1 L570.4 521 L570.6 520.8 L570.9 520.7 L571.1 520.6 L571.4 520.4 L571.6 520.3 L571.9 520.1 L572.1 520 L572.4 519.8 L572.6 519.7 L572.9 519.5 L573.1 519.4 L573.4 519.3 L573.6 519.1 L573.9 519 L574.1 518.9 L574.4 518.7 L574.6 518.6 L574.9 518.5 L575.1 518.3 L575.4 518.2 L575.6 518.1 L575.9 517.9 L576.1 517.8 L576.4 517.7 L576.6 517.6 L576.9 517.4 L577.1 517.3 L577.4 517.2 L577.6 517.1 L577.9 517 L578.1 516.9 L578.4 516.8 L578.6 516.7 L578.9 516.6 L579.1 516.5 L579.4 516.4 L579.6 516.3 L579.9 516.2 L580.1 516.1 L580.4 516 L580.6 515.9 L580.9 515.8 L581.1 515.7 L581.4 515.6 L581.6 515.5 L581.9 515.5 L582.1 515.4 L582.4 515.3 L582.6 515.2 L582.9 515.2 L583.1 515.1 L583.4 515 L583.6 514.9 L583.9 514.9 L584.1 514.8 L584.4 514.7 L584.6 514.7 L584.9 514.6 L585.1 514.6 L585.4 514.5 L585.6 514.4 L585.9 514.4 L586.1 514.3 L586.4 514.3 L586.6 514.2 L586.9 514.2 L587.1 514.1 L587.4 514.1 L587.6 514.1 L587.9 514 L588.1 514 L588.4 514 L588.6 513.9 L588.9 513.9 L589.1 513.9 L589.4 513.9 L589.6 513.8 L589.9 513.8 L590.1 513.8 L590.4 513.7 L590.6 513.7 L590.9 513.7 L591.1 513.7 L591.4 513.7 L591.6 513.6 L591.9 513.6 L592.1 513.6 L592.4 513.6 L592.6 513.6 L592.9 513.6 L593.1 513.5 L593.4 513.5 L593.6 513.5 L593.9 513.5 L594.1 513.5 L594.4 513.5 L594.6 513.5" fill="none" stroke="#0e7d37" stroke-width="3.6" stroke-linejoin="round" stroke-linecap="round"/>
<text transform="translate(0 725.6) scale(1 1.04)" x="87" y="0" font-size="27.3" text-anchor="middle">0</text>
<text transform="translate(0 725.6) scale(1 1.04)" x="256.7" y="0" font-size="27.3" text-anchor="middle">5</text>
<text transform="translate(0 725.6) scale(1 1.04)" x="426.3" y="0" font-size="27.3" text-anchor="middle">10</text>
<text transform="translate(0 725.6) scale(1 1.04)" x="596" y="0" font-size="27.3" text-anchor="middle">15</text>
<text transform="translate(0 698.6) scale(1 1.04)" x="73.5" y="0" font-size="27.3" text-anchor="end">−1</text>
<text transform="translate(0 531.9) scale(1 1.04)" x="73.5" y="0" font-size="27.3" text-anchor="end">0</text>
<text transform="translate(0 365.1) scale(1 1.04)" x="73.5" y="0" font-size="27.3" text-anchor="end">1</text>
<text transform="translate(0 198.4) scale(1 1.04)" x="73.5" y="0" font-size="27.3" text-anchor="end">2</text>
<text transform="translate(0 31.7) scale(1 1.04)" x="73.5" y="0" font-size="27.3" text-anchor="end">3</text>
<text transform="translate(0 90.3) scale(1 1.04)" x="136" y="0" font-size="41" font-weight="bold" fill="#000">a</text>
<text transform="translate(0 778.9) scale(1 1.04)" x="298.6" y="0" font-size="31.2" letter-spacing="-0.3">Q (Å<tspan font-size="17" dy="-14.9">−1</tspan><tspan dy="14.9">)</tspan></text>
<text transform="translate(31.6 553.6) rotate(-90) scale(1 1.04)" font-size="31.2">X-ray structure factor S<tspan font-size="19" dy="9.13">x</tspan><tspan dy="-9.13">(Q)</tspan></text>
<text transform="translate(0 149.5) scale(1 1.04)" y="0" font-size="27" font-weight="bold" letter-spacing="0.5" style="fill:#8a1512"><tspan x="351">g-(HgS)</tspan><tspan x="452.3" dy="10.96" font-size="15.5" letter-spacing="0.3">0.5</tspan><tspan x="474.6" dy="-10.96">(GeS</tspan><tspan x="540.1" dy="10.96" font-size="15.5">2</tspan><tspan x="549.2" dy="-10.96">)</tspan><tspan x="559.2" dy="10.96" font-size="15.5" letter-spacing="0.3">0.5</tspan></text>
<text transform="translate(0 468.9) scale(1 1.04)" x="416.3" y="0" font-size="27.5" font-weight="bold" letter-spacing="0.3" style="fill:#0e7d37">g-GeS<tspan font-size="16.3" dx="0.6" dy="9.62">2</tspan></text>
</g>
<g id="panel-b">
<rect x="795.8" y="24" width="38.8" height="666.9" fill="#f9d8d1"/>
<rect x="795.8" y="24" width="1.3" height="666.9" fill="#f7c9c1"/>
<rect x="834.4" y="24" width="23.8" height="666.9" fill="#dbddf0"/>
<rect x="833.6" y="24" width="1.1" height="666.9" fill="#fbd2c6"/>
<rect x="856.9" y="24" width="1.3" height="666.9" fill="#d0d1ec"/>
<path d="M749.1 690.9v-12.3M749.1 24v12.3M800 690.9v-23.8M800 24v23.8M850.8 690.9v-12.3M850.8 24v12.3M901.7 690.9v-23.8M901.7 24v23.8M952.6 690.9v-12.3M952.6 24v12.3M1003.5 690.9v-23.8M1003.5 24v23.8M1054.4 690.9v-12.3M1054.4 24v12.3M1105.2 690.9v-23.8M1105.2 24v23.8M1156.1 690.9v-12.3M1156.1 24v12.3M698.2 643.3h23.8M1207 643.3h-23.8M698.2 595.6h12.3M1207 595.6h-12.3M698.2 548h12.3M1207 548h-12.3M698.2 500.4h23.8M1207 500.4h-23.8M698.2 452.7h12.3M1207 452.7h-12.3M698.2 405.1h12.3M1207 405.1h-12.3M698.2 357.4h23.8M1207 357.4h-23.8M698.2 309.8h12.3M1207 309.8h-12.3M698.2 262.2h12.3M1207 262.2h-12.3M698.2 214.5h23.8M1207 214.5h-23.8M698.2 166.9h12.3M1207 166.9h-12.3M698.2 119.3h12.3M1207 119.3h-12.3M698.2 71.6h23.8M1207 71.6h-23.8" fill="none" stroke="#111" stroke-width="2.0"/>
<rect x="698.2" y="24" width="508.8" height="666.9" fill="none" stroke="#111" stroke-width="2.0"/>
<path d="M699.2 641.2 L699.5 640.8 L699.7 640.3 L700 639.9 L700.2 639.5 L700.5 639 L700.7 638.5 L701 638 L701.2 637.5 L701.5 636.9 L701.7 636.4 L702 635.8 L702.2 635.2 L702.5 634.6 L702.7 634 L703 633.4 L703.2 632.7 L703.5 632.1 L703.7 631.4 L704 630.7 L704.2 630 L704.5 629.3 L704.7 628.5 L705 627.8 L705.2 626.9 L705.5 626.1 L705.7 625.2 L706 624.3 L706.2 623.3 L706.5 622.4 L706.7 621.5 L707 620.6 L707.2 619.7 L707.5 618.8 L707.7 618 L708 617.2 L708.2 616.5 L708.5 615.8 L708.7 615.1 L709 614.5 L709.2 613.9 L709.5 613.4 L709.7 613 L710 612.8 L710.2 612.6 L710.5 612.7 L710.7 612.8 L711 613.1 L711.2 613.5 L711.5 614 L711.7 614.6 L712 615.2 L712.2 615.9 L712.5 616.7 L712.7 617.6 L713 618.6 L713.2 619.6 L713.5 620.7 L713.7 621.9 L714 623.2 L714.2 624.6 L714.5 626.2 L714.7 627.8 L715 629.6 L715.2 631.5 L715.5 633.5 L715.7 635.6 L716 637.8 L716.2 640 L716.5 642.2 L716.7 644.4 L717 646.5 L717.2 648.6 L717.5 650.6 L717.7 652.6 L718 654.5 L718.2 656.3 L718.5 658 L718.7 659.6 L719 661.2 L719.2 662.5 L719.5 663.8 L719.7 664.9 L720 665.9 L720.2 666.8 L720.5 667.5 L720.7 668.1 L721 668.5 L721.2 668.7 L721.5 668.7 L721.7 668.5 L722 668.1 L722.2 667.5 L722.5 666.8 L722.7 666 L723 665 L723.2 663.9 L723.5 662.6 L723.7 661.3 L724 659.8 L724.2 658.3 L724.5 656.7 L724.7 655.1 L725 653.5 L725.2 652 L725.5 650.5 L725.7 649 L726 647.5 L726.2 646.1 L726.5 644.7 L726.7 643.4 L727 642.1 L727.2 640.9 L727.5 639.7 L727.7 638.6 L728 637.6 L728.2 636.6 L728.5 635.7 L728.7 634.9 L729 634.2 L729.2 633.6 L729.5 633.1 L729.7 632.6 L730 632.3 L730.2 632.1 L730.5 632 L730.7 632 L731 632.1 L731.2 632.4 L731.5 632.6 L731.7 633 L732 633.5 L732.2 634 L732.5 634.5 L732.7 635.1 L733 635.8 L733.2 636.4 L733.5 637.1 L733.7 637.8 L734 638.5 L734.2 639.2 L734.5 639.9 L734.7 640.6 L735 641.2 L735.2 641.9 L735.5 642.5 L735.7 643.1 L736 643.6 L736.2 644.1 L736.5 644.6 L736.7 645 L737 645.5 L737.2 645.8 L737.5 646.2 L737.7 646.5 L738 646.8 L738.2 647 L738.5 647.1 L738.7 647.2 L739 647.2 L739.2 647.1 L739.5 647 L739.7 646.8 L740 646.6 L740.2 646.3 L740.5 646.1 L740.7 645.8 L741 645.6 L741.2 645.3 L741.5 645.1 L741.7 644.8 L742 644.6 L742.2 644.4 L742.5 644.1 L742.7 644 L743 643.8 L743.2 643.6 L743.5 643.5 L743.7 643.4 L744 643.3 L744.2 643.2 L744.5 643.2 L744.7 643.1 L745 643.1 L745.2 643.1 L745.5 643 L745.7 643 L746 643 L746.2 643 L746.5 643 L746.7 642.9 L747 642.9 L747.2 642.9 L747.5 642.9 L747.7 642.9 L748 642.9 L748.2 642.8 L748.5 642.8 L748.7 642.8 L749 642.7 L749.2 642.7 L749.5 642.6 L749.7 642.6 L750 642.5 L750.2 642.4 L750.5 642.3 L750.7 642.2 L751 642 L751.2 641.8 L751.5 641.7 L751.7 641.5 L752 641.3 L752.2 641 L752.5 640.8 L752.7 640.6 L753 640.4 L753.2 640.2 L753.5 640 L753.7 639.8 L754 639.7 L754.2 639.5 L754.5 639.3 L754.7 639.1 L755 639 L755.2 638.8 L755.5 638.7 L755.7 638.6 L756 638.6 L756.2 638.6 L756.5 638.6 L756.7 638.6 L757 638.7 L757.2 638.8 L757.5 639 L757.7 639.1 L758 639.3 L758.2 639.5 L758.5 639.7 L758.7 639.9 L759 640.1 L759.2 640.3 L759.5 640.5 L759.7 640.7 L760 640.9 L760.2 641.1 L760.5 641.4 L760.7 641.6 L761 641.8 L761.2 642.1 L761.5 642.3 L761.7 642.5 L762 642.7 L762.2 642.8 L762.5 643 L762.7 643 L763 643.1 L763.2 643.1 L763.5 643.1 L763.7 643 L764 642.9 L764.2 642.8 L764.5 642.7 L764.7 642.5 L765 642.3 L765.2 642.1 L765.5 641.9 L765.7 641.7 L766 641.4 L766.2 641.2 L766.5 641 L766.7 640.8 L767 640.6 L767.2 640.4 L767.5 640.2 L767.7 640 L768 639.8 L768.2 639.7 L768.5 639.5 L768.7 639.4 L769 639.3 L769.2 639.3 L769.5 639.3 L769.7 639.3 L770 639.3 L770.2 639.4 L770.5 639.5 L770.7 639.6 L771 639.8 L771.2 639.9 L771.5 640.1 L771.7 640.3 L772 640.4 L772.2 640.6 L772.5 640.8 L772.7 641 L773 641.2 L773.2 641.4 L773.5 641.6 L773.7 641.8 L774 641.9 L774.2 642.1 L774.5 642.3 L774.7 642.4 L775 642.6 L775.2 642.7 L775.5 642.7 L775.7 642.8 L776 642.7 L776.2 642.7 L776.5 642.7 L776.7 642.6 L777 642.5 L777.2 642.4 L777.5 642.3 L777.7 642.1 L778 642 L778.2 641.9 L778.5 641.8 L778.7 641.8 L779 641.7 L779.2 641.6 L779.5 641.5 L779.7 641.5 L780 641.4 L780.2 641.4 L780.5 641.3 L780.7 641.3 L781 641.3 L781.2 641.3 L781.5 641.4 L781.7 641.4 L782 641.5 L782.2 641.7 L782.5 641.8 L782.7 642 L783 642.2 L783.2 642.4 L783.5 642.6 L783.7 642.8 L784 643 L784.2 643.3 L784.5 643.5 L784.7 643.8 L785 644.1 L785.2 644.3 L785.5 644.6 L785.7 644.9 L786 645.2 L786.2 645.5 L786.5 645.7 L786.7 645.9 L787 646.1 L787.2 646.2 L787.5 646.2 L787.7 646.1 L788 646 L788.2 645.8 L788.5 645.6 L788.7 645.3 L789 644.9 L789.2 644.5 L789.5 644.2 L789.7 643.7 L790 643.3 L790.2 642.9 L790.5 642.5 L790.7 642.1 L791 641.7 L791.2 641.3 L791.5 641 L791.7 640.6 L792 640.3 L792.2 640 L792.5 639.8 L792.7 639.7 L793 639.6 L793.2 639.8 L793.5 640 L793.7 640.4 L794 640.9 L794.2 641.5 L794.5 642.2 L794.7 643 L795 643.9 L795.2 644.8 L795.5 645.7 L795.7 646.6 L796 647.5 L796.2 648.5 L796.5 649.4 L796.7 650.3 L797 651.2 L797.2 652.1 L797.5 652.8 L797.7 653.5 L798 654.2 L798.2 654.7 L798.5 655 L798.7 655.3 L799 655.3 L799.2 655.1 L799.5 654.8 L799.7 654.2 L800 653.4 L800.2 652.4 L800.5 651.1 L800.7 649.4 L801 647.1 L801.2 644.4 L801.5 641.2 L801.7 636.5 L802 630.5 L802.2 623.6 L802.5 616.4 L802.7 609.6 L803 603.3 L803.2 597.2 L803.5 591 L803.7 584.6 L804 577.7 L804.2 570.5 L804.5 562.9 L804.7 555.1 L805 547.1 L805.2 539 L805.5 530.9 L805.7 522.7 L806 514.4 L806.2 506 L806.5 497.4 L806.7 488.6 L807 479.5 L807.2 470.2 L807.5 459.8 L807.7 448.6 L808 436.9 L808.2 425.4 L808.5 414.7 L808.7 405.3 L809 397.7 L809.2 391.4 L809.5 385.9 L809.7 380.8 L810 375.9 L810.2 371.3 L810.5 366.9 L810.7 363 L811 359.2 L811.2 355.3 L811.5 352.7 L811.7 352.8 L812 355.5 L812.2 359.4 L812.5 363.2 L812.7 367.3 L813 371.7 L813.2 376.4 L813.5 381.1 L813.7 385.6 L814 390.3 L814.2 395.8 L814.5 402.5 L814.7 411.5 L815 422.6 L815.2 434.9 L815.5 447.5 L815.7 459.8 L816 470.8 L816.2 480.7 L816.5 490.6 L816.7 500.2 L817 509.5 L817.2 518.5 L817.5 527 L817.7 535 L818 542.5 L818.2 549.5 L818.5 556.1 L818.7 562.3 L819 568.3 L819.2 574.1 L819.5 579.7 L819.7 585.1 L820 590.4 L820.2 595.4 L820.5 600.3 L820.7 604.9 L821 609.3 L821.2 613.7 L821.5 618.1 L821.7 622.3 L822 626.4 L822.2 630 L822.5 633.2 L822.7 635.8 L823 638.2 L823.2 640.4 L823.5 642 L823.7 643 L824 643.3 L824.2 643.4 L824.5 643.3 L824.7 643.1 L825 642.6 L825.2 642.1 L825.5 641.5 L825.7 640.8 L826 640 L826.2 639.3 L826.5 638.6 L826.7 638 L827 637.4 L827.2 636.9 L827.5 636.4 L827.7 636 L828 635.7 L828.2 635.5 L828.5 635.4 L828.7 635.3 L829 635.3 L829.2 635.4 L829.5 635.6 L829.7 635.9 L830 636.2 L830.2 636.5 L830.5 637 L830.7 637.4 L831 637.9 L831.2 638.4 L831.5 638.9 L831.7 639.5 L832 640 L832.2 640.6 L832.5 641.1 L832.7 641.6 L833 642 L833.2 642.4 L833.5 642.8 L833.7 643.2 L834 643.5 L834.2 643.7 L834.5 643.8 L834.7 643.9 L835 643.8 L835.2 643.7 L835.5 643.5 L835.7 643.2 L836 642.9 L836.2 642.4 L836.5 642 L836.7 641.5 L837 640.9 L837.2 640.3 L837.5 639.7 L837.7 639 L838 638.3 L838.2 637.5 L838.5 636.7 L838.7 636 L839 635.2 L839.2 634.4 L839.5 633.6 L839.7 632.8 L840 632 L840.2 631.2 L840.5 630.5 L840.7 629.7 L841 628.9 L841.2 628.1 L841.5 627.4 L841.7 626.6 L842 625.9 L842.2 625.2 L842.5 624.5 L842.7 623.9 L843 623.3 L843.2 622.7 L843.5 622.1 L843.7 621.6 L844 621.1 L844.2 620.5 L844.5 620.1 L844.7 619.6 L845 619.1 L845.2 618.7 L845.5 618.4 L845.7 618.1 L846 617.9 L846.2 617.7 L846.5 617.6 L846.7 617.5 L847 617.5 L847.2 617.6 L847.5 617.6 L847.7 617.7 L848 617.9 L848.2 618 L848.5 618.2 L848.7 618.4 L849 618.6 L849.2 618.9 L849.5 619.1 L849.7 619.4 L850 619.7 L850.2 620 L850.5 620.4 L850.7 620.8 L851 621.2 L851.2 621.6 L851.5 622 L851.7 622.5 L852 622.9 L852.2 623.3 L852.5 623.7 L852.7 624.1 L853 624.4 L853.2 624.8 L853.5 625.1 L853.7 625.5 L854 625.8 L854.2 626.1 L854.5 626.4 L854.7 626.7 L855 627 L855.2 627.2 L855.5 627.4 L855.7 627.6 L856 627.7 L856.2 627.7 L856.5 627.7 L856.7 627.6 L857 627.5 L857.2 627.3 L857.5 627 L857.7 626.7 L858 626.3 L858.2 625.9 L858.5 625.4 L858.7 624.8 L859 624.1 L859.2 623.4 L859.5 622.6 L859.7 621.6 L860 620.6 L860.2 619.5 L860.5 618.3 L860.7 617 L861 615.7 L861.2 614.3 L861.5 612.8 L861.7 611.3 L862 609.7 L862.2 608 L862.5 606.2 L862.7 604.3 L863 602.3 L863.2 600.2 L863.5 598 L863.7 595.7 L864 593.3 L864.2 590.6 L864.5 587.9 L864.7 584.9 L865 581.9 L865.2 578.7 L865.5 575.4 L865.7 572 L866 568.5 L866.2 565 L866.5 561.5 L866.7 557.8 L867 554.2 L867.2 550.5 L867.5 546.9 L867.7 543.4 L868 540 L868.2 536.8 L868.5 533.7 L868.8 530.8 L869 528 L869.3 525.4 L869.5 522.9 L869.8 520.6 L870 518.3 L870.3 516.3 L870.5 514.3 L870.8 512.5 L871 510.8 L871.3 509.1 L871.5 507.6 L871.8 506.2 L872 504.8 L872.3 503.5 L872.5 502.3 L872.8 501.2 L873 500.1 L873.3 499.2 L873.5 498.3 L873.8 497.5 L874 496.7 L874.3 496.1 L874.5 495.4 L874.8 494.9 L875 494.3 L875.3 493.8 L875.5 493.4 L875.8 492.9 L876 492.6 L876.3 492.2 L876.5 492 L876.8 491.8 L877 491.7 L877.3 491.7 L877.5 491.7 L877.8 491.8 L878 492.1 L878.3 492.4 L878.5 492.7 L878.8 493.2 L879 493.6 L879.3 494.1 L879.5 494.7 L879.8 495.3 L880 495.9 L880.3 496.5 L880.5 497.1 L880.8 497.8 L881 498.5 L881.3 499.2 L881.5 500 L881.8 500.8 L882 501.6 L882.3 502.5 L882.5 503.3 L882.8 504.2 L883 505.1 L883.3 506 L883.5 506.9 L883.8 507.8 L884 508.7 L884.3 509.6 L884.5 510.5 L884.8 511.5 L885 512.4 L885.3 513.4 L885.5 514.4 L885.8 515.3 L886 516.3 L886.3 517.3 L886.5 518.3 L886.8 519.3 L887 520.4 L887.3 521.4 L887.5 522.4 L887.8 523.5 L888 524.5 L888.3 525.6 L888.5 526.7 L888.8 527.7 L889 528.8 L889.3 529.9 L889.5 531.1 L889.8 532.2 L890 533.4 L890.3 534.5 L890.5 535.7 L890.8 536.9 L891 538.1 L891.3 539.3 L891.5 540.5 L891.8 541.8 L892 543 L892.3 544.3 L892.5 545.5 L892.8 546.7 L893 548 L893.3 549.2 L893.5 550.4 L893.8 551.6 L894 552.8 L894.3 554 L894.5 555.2 L894.8 556.4 L895 557.6 L895.3 558.8 L895.5 560 L895.8 561.3 L896 562.5 L896.3 563.7 L896.5 564.9 L896.8 566.2 L897 567.4 L897.3 568.5 L897.5 569.7 L897.8 570.8 L898 571.8 L898.3 572.9 L898.5 573.8 L898.8 574.7 L899 575.6 L899.3 576.4 L899.5 577.1 L899.8 577.8 L900 578.5 L900.3 579.1 L900.5 579.7 L900.8 580.3 L901 580.8 L901.3 581.3 L901.5 581.8 L901.8 582.2 L902 582.6 L902.3 582.9 L902.5 583.2 L902.8 583.5 L903 583.7 L903.3 583.9 L903.5 584.1 L903.8 584.3 L904 584.5 L904.3 584.6 L904.5 584.7 L904.8 584.8 L905 584.8 L905.3 584.8 L905.5 584.8 L905.8 584.8 L906 584.7 L906.3 584.5 L906.5 584.4 L906.8 584.2 L907 584 L907.3 583.8 L907.5 583.5 L907.8 583.3 L908 583 L908.3 582.7 L908.5 582.4 L908.8 582.1 L909 581.7 L909.3 581.4 L909.5 581 L909.8 580.5 L910 580.1 L910.3 579.6 L910.5 579.2 L910.8 578.7 L911 578.2 L911.3 577.7 L911.5 577.3 L911.8 576.8 L912 576.4 L912.3 576 L912.5 575.6 L912.8 575.2 L913 574.9 L913.3 574.5 L913.5 574.2 L913.8 573.9 L914 573.7 L914.3 573.4 L914.5 573.1 L914.8 572.9 L915 572.6 L915.3 572.4 L915.5 572.2 L915.8 571.9 L916 571.7 L916.3 571.5 L916.5 571.3 L916.8 571.1 L917 570.9 L917.3 570.8 L917.5 570.6 L917.8 570.5 L918 570.3 L918.3 570.2 L918.5 570 L918.8 569.9 L919 569.8 L919.3 569.7 L919.5 569.5 L919.8 569.4 L920 569.3 L920.3 569.2 L920.5 569.1 L920.8 569 L921 568.9 L921.3 568.8 L921.5 568.7 L921.8 568.7 L922 568.6 L922.3 568.5 L922.5 568.5 L922.8 568.5 L923 568.4 L923.3 568.4 L923.5 568.4 L923.8 568.4 L924 568.4 L924.3 568.5 L924.5 568.5 L924.8 568.5 L925 568.5 L925.3 568.6 L925.5 568.6 L925.8 568.7 L926 568.7 L926.3 568.7 L926.5 568.8 L926.8 568.8 L927 568.9 L927.3 568.9 L927.5 569 L927.8 569 L928 569.1 L928.3 569.2 L928.5 569.2 L928.8 569.3 L929 569.3 L929.3 569.4 L929.5 569.4 L929.8 569.5 L930 569.6 L930.3 569.6 L930.5 569.7 L930.8 569.8 L931 569.9 L931.3 569.9 L931.5 570 L931.8 570.1 L932 570.2 L932.3 570.3 L932.5 570.3 L932.8 570.4 L933 570.4 L933.3 570.5 L933.5 570.6 L933.8 570.6 L934 570.6 L934.3 570.6 L934.5 570.7 L934.8 570.7 L935 570.7 L935.3 570.7 L935.5 570.7 L935.8 570.6 L936 570.6 L936.3 570.6 L936.5 570.6 L936.8 570.6 L937 570.5 L937.3 570.5 L937.5 570.5 L937.8 570.4 L938 570.4 L938.3 570.3 L938.5 570.3 L938.8 570.2 L939 570.2 L939.3 570.2 L939.5 570.1 L939.8 570.1 L940 570 L940.3 570 L940.5 569.9 L940.8 569.8 L941 569.8 L941.3 569.7 L941.5 569.7 L941.8 569.6 L942 569.5 L942.3 569.5 L942.5 569.4 L942.8 569.3 L943 569.3 L943.3 569.2 L943.5 569.1 L943.8 569 L944 568.9 L944.3 568.8 L944.5 568.7 L944.8 568.6 L945 568.5 L945.3 568.4 L945.5 568.3 L945.8 568.2 L946 568.1 L946.3 568 L946.5 567.8 L946.8 567.7 L947 567.6 L947.3 567.4 L947.5 567.3 L947.8 567.1 L948 566.9 L948.3 566.8 L948.5 566.6 L948.8 566.4 L949 566.2 L949.3 565.9 L949.5 565.7 L949.8 565.4 L950 565.1 L950.3 564.8 L950.5 564.5 L950.8 564.2 L951 563.9 L951.3 563.5 L951.5 563.1 L951.8 562.7 L952 562.3 L952.3 561.9 L952.5 561.5 L952.8 561.1 L953 560.6 L953.3 560.2 L953.5 559.7 L953.8 559.2 L954 558.7 L954.3 558.2 L954.5 557.7 L954.8 557.2 L955 556.7 L955.3 556.1 L955.5 555.6 L955.8 555 L956 554.3 L956.3 553.7 L956.5 553 L956.8 552.3 L957 551.5 L957.3 550.8 L957.5 550 L957.8 549.2 L958 548.3 L958.3 547.5 L958.5 546.6 L958.8 545.7 L959 544.8 L959.3 543.9 L959.5 543 L959.8 542.1 L960 541.2 L960.3 540.2 L960.5 539.3 L960.8 538.4 L961 537.4 L961.3 536.5 L961.5 535.5 L961.8 534.6 L962 533.6 L962.3 532.6 L962.5 531.6 L962.8 530.5 L963 529.5 L963.3 528.4 L963.5 527.3 L963.8 526.2 L964 525 L964.3 523.9 L964.5 522.8 L964.8 521.8 L965 520.8 L965.3 519.8 L965.5 518.9 L965.8 518 L966 517.2 L966.3 516.4 L966.5 515.7 L966.8 515.1 L967 514.5 L967.3 513.9 L967.5 513.4 L967.8 512.9 L968 512.4 L968.3 512 L968.5 511.5 L968.8 511.2 L969 510.8 L969.3 510.5 L969.5 510.2 L969.8 509.9 L970 509.7 L970.3 509.4 L970.5 509.2 L970.8 509 L971 508.9 L971.3 508.7 L971.5 508.6 L971.8 508.4 L972 508.3 L972.3 508.3 L972.5 508.3 L972.8 508.3 L973 508.3 L973.3 508.4 L973.5 508.6 L973.8 508.7 L974 508.9 L974.3 509.2 L974.5 509.4 L974.8 509.7 L975 510 L975.3 510.3 L975.5 510.6 L975.8 511 L976 511.4 L976.3 511.7 L976.5 512.2 L976.8 512.6 L977 513.1 L977.3 513.6 L977.5 514 L977.8 514.5 L978 515 L978.3 515.4 L978.5 515.9 L978.8 516.3 L979 516.7 L979.3 517.1 L979.5 517.4 L979.8 517.8 L980 518.2 L980.3 518.5 L980.5 518.8 L980.8 519.2 L981 519.5 L981.3 519.8 L981.5 520.1 L981.8 520.4 L982 520.6 L982.3 520.9 L982.5 521.1 L982.8 521.3 L983 521.5 L983.3 521.7 L983.5 521.8 L983.8 522 L984 522.1 L984.3 522.3 L984.5 522.4 L984.8 522.6 L985 522.7 L985.3 522.8 L985.5 522.9 L985.8 522.9 L986 523 L986.3 523 L986.5 523 L986.8 523 L987 522.9 L987.3 522.9 L987.5 522.8 L987.8 522.7 L988 522.6 L988.3 522.4 L988.5 522.3 L988.8 522.1 L989 522 L989.3 521.8 L989.5 521.6 L989.8 521.4 L990 521.2 L990.3 521 L990.5 520.8 L990.8 520.7 L991 520.5 L991.3 520.3 L991.5 520 L991.8 519.8 L992 519.6 L992.3 519.4 L992.5 519.1 L992.8 518.9 L993 518.6 L993.3 518.4 L993.5 518.1 L993.8 517.9 L994 517.6 L994.3 517.4 L994.5 517.1 L994.8 516.8 L995 516.6 L995.3 516.4 L995.5 516.1 L995.8 515.9 L996 515.7 L996.3 515.5 L996.5 515.2 L996.8 515 L997 514.8 L997.3 514.6 L997.5 514.4 L997.8 514.2 L998 514 L998.3 513.8 L998.5 513.6 L998.8 513.4 L999 513.2 L999.3 513 L999.5 512.8 L999.8 512.6 L1000 512.4 L1000.3 512.2 L1000.5 512 L1000.8 511.8 L1001 511.7 L1001.3 511.5 L1001.5 511.3 L1001.8 511.1 L1002 511 L1002.3 510.8 L1002.5 510.6 L1002.8 510.5 L1003 510.3 L1003.3 510.2 L1003.5 510 L1003.8 509.9 L1004 509.8 L1004.3 509.6 L1004.5 509.5 L1004.8 509.4 L1005 509.3 L1005.3 509.2 L1005.5 509.1 L1005.8 509 L1006 508.9 L1006.3 508.8 L1006.5 508.7 L1006.8 508.6 L1007 508.5 L1007.3 508.4 L1007.5 508.3 L1007.8 508.2 L1008 508.2 L1008.3 508.1 L1008.5 508 L1008.8 507.9 L1009 507.8 L1009.3 507.8 L1009.5 507.7 L1009.8 507.6 L1010 507.5 L1010.3 507.5 L1010.5 507.4 L1010.8 507.3 L1011 507.3 L1011.3 507.2 L1011.5 507.1 L1011.8 507.1 L1012 507 L1012.3 507 L1012.5 506.9 L1012.8 506.8 L1013 506.8 L1013.3 506.7 L1013.5 506.7 L1013.8 506.6 L1014 506.5 L1014.3 506.5 L1014.5 506.4 L1014.8 506.4 L1015 506.3 L1015.3 506.3 L1015.5 506.2 L1015.8 506.2 L1016 506.1 L1016.3 506.1 L1016.5 506 L1016.8 506 L1017 505.9 L1017.3 505.9 L1017.5 505.8 L1017.8 505.8 L1018 505.7 L1018.3 505.7 L1018.5 505.7 L1018.8 505.6 L1019 505.6 L1019.3 505.6 L1019.5 505.5 L1019.8 505.5 L1020 505.5 L1020.3 505.4 L1020.5 505.4 L1020.8 505.4 L1021 505.3 L1021.3 505.3 L1021.5 505.3 L1021.8 505.3 L1022 505.2 L1022.3 505.2 L1022.5 505.2 L1022.8 505.1 L1023 505.1 L1023.3 505.1 L1023.5 505 L1023.8 505 L1024 505 L1024.3 504.9 L1024.5 504.9 L1024.8 504.9 L1025 504.8 L1025.3 504.8 L1025.5 504.7 L1025.8 504.7 L1026 504.6 L1026.3 504.6 L1026.5 504.5 L1026.8 504.5 L1027 504.4 L1027.3 504.4 L1027.5 504.3 L1027.8 504.2 L1028 504.2 L1028.3 504.1 L1028.5 504 L1028.8 503.9 L1029 503.7 L1029.3 503.6 L1029.5 503.5 L1029.8 503.3 L1030 503.2 L1030.3 503 L1030.5 502.8 L1030.8 502.6 L1031 502.4 L1031.3 502.2 L1031.5 502 L1031.8 501.8 L1032 501.5 L1032.3 501.3 L1032.5 501 L1032.8 500.8 L1033 500.5 L1033.3 500.3 L1033.5 500 L1033.8 499.8 L1034 499.5 L1034.3 499.2 L1034.5 498.9 L1034.8 498.7 L1035 498.4 L1035.3 498.1 L1035.5 497.9 L1035.8 497.6 L1036 497.3 L1036.3 497 L1036.5 496.8 L1036.8 496.5 L1037 496.2 L1037.3 496 L1037.6 495.7 L1037.8 495.4 L1038.1 495.1 L1038.3 494.8 L1038.6 494.5 L1038.8 494.2 L1039.1 493.9 L1039.3 493.6 L1039.6 493.2 L1039.8 492.9 L1040.1 492.6 L1040.3 492.2 L1040.6 491.9 L1040.8 491.6 L1041.1 491.2 L1041.3 490.9 L1041.6 490.5 L1041.8 490.2 L1042.1 489.8 L1042.3 489.5 L1042.6 489.2 L1042.8 488.8 L1043.1 488.5 L1043.3 488.2 L1043.6 487.8 L1043.8 487.5 L1044.1 487.2 L1044.3 486.9 L1044.6 486.6 L1044.8 486.3 L1045.1 486.1 L1045.3 485.8 L1045.6 485.6 L1045.8 485.3 L1046.1 485.1 L1046.3 484.8 L1046.6 484.6 L1046.8 484.4 L1047.1 484.2 L1047.3 484 L1047.6 483.7 L1047.8 483.5 L1048.1 483.3 L1048.3 483.1 L1048.6 482.9 L1048.8 482.7 L1049.1 482.5 L1049.3 482.4 L1049.6 482.2 L1049.8 482 L1050.1 481.8 L1050.3 481.6 L1050.6 481.4 L1050.8 481.3 L1051.1 481.1 L1051.3 480.9 L1051.6 480.8 L1051.8 480.6 L1052.1 480.4 L1052.3 480.3 L1052.6 480.1 L1052.8 480 L1053.1 479.8 L1053.3 479.7 L1053.6 479.6 L1053.8 479.4 L1054.1 479.3 L1054.3 479.2 L1054.6 479.1 L1054.8 478.9 L1055.1 478.8 L1055.3 478.7 L1055.6 478.6 L1055.8 478.5 L1056.1 478.4 L1056.3 478.3 L1056.6 478.2 L1056.8 478.1 L1057.1 478 L1057.3 477.9 L1057.6 477.8 L1057.8 477.7 L1058.1 477.7 L1058.3 477.6 L1058.6 477.5 L1058.8 477.4 L1059.1 477.3 L1059.3 477.2 L1059.6 477.2 L1059.8 477.1 L1060.1 477 L1060.3 476.9 L1060.6 476.9 L1060.8 476.8 L1061.1 476.7 L1061.3 476.7 L1061.6 476.6 L1061.8 476.5 L1062.1 476.4 L1062.3 476.4 L1062.6 476.3 L1062.8 476.2 L1063.1 476.2 L1063.3 476.1 L1063.6 476 L1063.8 476 L1064.1 475.9 L1064.3 475.9 L1064.6 475.8 L1064.8 475.7 L1065.1 475.7 L1065.3 475.6 L1065.6 475.5 L1065.8 475.5 L1066.1 475.4 L1066.3 475.3 L1066.6 475.3 L1066.8 475.2 L1067.1 475.1 L1067.3 475.1 L1067.6 475 L1067.8 474.9 L1068.1 474.8 L1068.3 474.8 L1068.6 474.7 L1068.8 474.6 L1069.1 474.5 L1069.3 474.5 L1069.6 474.4 L1069.8 474.3 L1070.1 474.2 L1070.3 474.2 L1070.6 474.1 L1070.8 474 L1071.1 473.9 L1071.3 473.9 L1071.6 473.8 L1071.8 473.7 L1072.1 473.6 L1072.3 473.5 L1072.6 473.5 L1072.8 473.4 L1073.1 473.3 L1073.3 473.2 L1073.6 473.1 L1073.8 473.1 L1074.1 473 L1074.3 472.9 L1074.6 472.8 L1074.8 472.7 L1075.1 472.7 L1075.3 472.6 L1075.6 472.5 L1075.8 472.4 L1076.1 472.3 L1076.3 472.3 L1076.6 472.2 L1076.8 472.1 L1077.1 472 L1077.3 472 L1077.6 471.9 L1077.8 471.8 L1078.1 471.7 L1078.3 471.7 L1078.6 471.6 L1078.8 471.5 L1079.1 471.4 L1079.3 471.4 L1079.6 471.3 L1079.8 471.2 L1080.1 471.2 L1080.3 471.1 L1080.6 471 L1080.8 471 L1081.1 470.9 L1081.3 470.8 L1081.6 470.8 L1081.8 470.7 L1082.1 470.6 L1082.3 470.6 L1082.6 470.5 L1082.8 470.4 L1083.1 470.4 L1083.3 470.3 L1083.6 470.3 L1083.8 470.2 L1084.1 470.1 L1084.3 470.1 L1084.6 470 L1084.8 469.9 L1085.1 469.9 L1085.3 469.8 L1085.6 469.7 L1085.8 469.7 L1086.1 469.6 L1086.3 469.5 L1086.6 469.5 L1086.8 469.4 L1087.1 469.3 L1087.3 469.3 L1087.6 469.2 L1087.8 469.1 L1088.1 469.1 L1088.3 469 L1088.6 469 L1088.8 468.9 L1089.1 468.8 L1089.3 468.8 L1089.6 468.7 L1089.8 468.7 L1090.1 468.6 L1090.3 468.5 L1090.6 468.5 L1090.8 468.4 L1091.1 468.4 L1091.3 468.3 L1091.6 468.3 L1091.8 468.2 L1092.1 468.2 L1092.3 468.2 L1092.6 468.1 L1092.8 468.1 L1093.1 468 L1093.3 468 L1093.6 468 L1093.8 467.9 L1094.1 467.9 L1094.3 467.9 L1094.6 467.9 L1094.8 467.9 L1095.1 467.8 L1095.3 467.8 L1095.6 467.8 L1095.8 467.8 L1096.1 467.8 L1096.3 467.8 L1096.6 467.8 L1096.8 467.8 L1097.1 467.8 L1097.3 467.8 L1097.6 467.8 L1097.8 467.8 L1098.1 467.8 L1098.3 467.9 L1098.6 467.9 L1098.8 467.9 L1099.1 467.9 L1099.3 467.9 L1099.6 467.9 L1099.8 467.9 L1100.1 468 L1100.3 468 L1100.6 468 L1100.8 468 L1101.1 468 L1101.3 468 L1101.6 468.1 L1101.8 468.1 L1102.1 468.1 L1102.3 468.1 L1102.6 468.1 L1102.8 468.1 L1103.1 468.1 L1103.3 468.1 L1103.6 468.2 L1103.8 468.2 L1104.1 468.2 L1104.3 468.2 L1104.6 468.2 L1104.8 468.2 L1105.1 468.2 L1105.3 468.2 L1105.6 468.2 L1105.8 468.2 L1106.1 468.2 L1106.3 468.2 L1106.6 468.2 L1106.8 468.1 L1107.1 468.1 L1107.3 468.1 L1107.6 468.1 L1107.8 468.1 L1108.1 468 L1108.3 468 L1108.6 468 L1108.8 468 L1109.1 467.9 L1109.3 467.9 L1109.6 467.9 L1109.8 467.8 L1110.1 467.8 L1110.3 467.7 L1110.6 467.7 L1110.8 467.6 L1111.1 467.6 L1111.3 467.5 L1111.6 467.5 L1111.8 467.4 L1112.1 467.4 L1112.3 467.3 L1112.6 467.3 L1112.8 467.2 L1113.1 467.2 L1113.3 467.1 L1113.6 467 L1113.8 467 L1114.1 466.9 L1114.3 466.9 L1114.6 466.8 L1114.8 466.7 L1115.1 466.7 L1115.3 466.6 L1115.6 466.5 L1115.8 466.4 L1116.1 466.4 L1116.3 466.3 L1116.6 466.2 L1116.8 466.2 L1117.1 466.1 L1117.3 466 L1117.6 465.9 L1117.8 465.9 L1118.1 465.8 L1118.3 465.7 L1118.6 465.6 L1118.8 465.5 L1119.1 465.5 L1119.3 465.4 L1119.6 465.3 L1119.8 465.2 L1120.1 465.1 L1120.3 465 L1120.6 464.8 L1120.8 464.7 L1121.1 464.6 L1121.3 464.5 L1121.6 464.3 L1121.8 464.2 L1122.1 464 L1122.3 463.9 L1122.6 463.7 L1122.8 463.5 L1123.1 463.4 L1123.3 463.2 L1123.6 463 L1123.8 462.9 L1124.1 462.7 L1124.3 462.5 L1124.6 462.3 L1124.8 462.2 L1125.1 462 L1125.3 461.8 L1125.6 461.6 L1125.8 461.4 L1126.1 461.2 L1126.3 461.1 L1126.6 460.9 L1126.8 460.7 L1127.1 460.5 L1127.3 460.3 L1127.6 460.2 L1127.8 460 L1128.1 459.8 L1128.3 459.6 L1128.6 459.5 L1128.8 459.3 L1129.1 459.1 L1129.3 458.9 L1129.6 458.7 L1129.8 458.5 L1130.1 458.3 L1130.3 458.2 L1130.6 458 L1130.8 457.8 L1131.1 457.6 L1131.3 457.4 L1131.6 457.2 L1131.8 457 L1132.1 456.8 L1132.3 456.6 L1132.6 456.4 L1132.8 456.2 L1133.1 456 L1133.3 455.8 L1133.6 455.6 L1133.8 455.4 L1134.1 455.2 L1134.3 455 L1134.6 454.8 L1134.8 454.6 L1135.1 454.4 L1135.3 454.3 L1135.6 454.1 L1135.8 453.9 L1136.1 453.7 L1136.3 453.6 L1136.6 453.4 L1136.8 453.2 L1137.1 453.1 L1137.3 452.9 L1137.6 452.8 L1137.8 452.6 L1138.1 452.5 L1138.3 452.3 L1138.6 452.2 L1138.8 452 L1139.1 451.9 L1139.3 451.7 L1139.6 451.6 L1139.8 451.5 L1140.1 451.3 L1140.3 451.2 L1140.6 451 L1140.8 450.9 L1141.1 450.8 L1141.3 450.6 L1141.6 450.5 L1141.8 450.4 L1142.1 450.2 L1142.3 450.1 L1142.6 450 L1142.8 449.8 L1143.1 449.7 L1143.3 449.6 L1143.6 449.4 L1143.8 449.3 L1144.1 449.2 L1144.3 449.1 L1144.6 448.9 L1144.8 448.8 L1145.1 448.7 L1145.3 448.6 L1145.6 448.5 L1145.8 448.3 L1146.1 448.2 L1146.3 448.1 L1146.6 448 L1146.8 447.9 L1147.1 447.8 L1147.3 447.7 L1147.6 447.6 L1147.8 447.4 L1148.1 447.3 L1148.3 447.2 L1148.6 447.1 L1148.8 447 L1149.1 446.9 L1149.3 446.8 L1149.6 446.7 L1149.8 446.6 L1150.1 446.5 L1150.3 446.4 L1150.6 446.3 L1150.8 446.2 L1151.1 446.1 L1151.3 446 L1151.6 445.9 L1151.8 445.9 L1152.1 445.8 L1152.3 445.7 L1152.6 445.6 L1152.8 445.5 L1153.1 445.4 L1153.3 445.3 L1153.6 445.2 L1153.8 445.1 L1154.1 445 L1154.3 445 L1154.6 444.9 L1154.8 444.8 L1155.1 444.7 L1155.3 444.6 L1155.6 444.5 L1155.8 444.5 L1156.1 444.4 L1156.3 444.3 L1156.6 444.2 L1156.8 444.1 L1157.1 444.1 L1157.3 444 L1157.6 443.9 L1157.8 443.8 L1158.1 443.7 L1158.3 443.7 L1158.6 443.6 L1158.8 443.5 L1159.1 443.4 L1159.3 443.4 L1159.6 443.3 L1159.8 443.2 L1160.1 443.2 L1160.3 443.1 L1160.6 443 L1160.8 443 L1161.1 442.9 L1161.3 442.8 L1161.6 442.8 L1161.8 442.7 L1162.1 442.6 L1162.3 442.6 L1162.6 442.5 L1162.8 442.5 L1163.1 442.4 L1163.3 442.4 L1163.6 442.3 L1163.8 442.2 L1164.1 442.2 L1164.3 442.1 L1164.6 442.1 L1164.8 442 L1165.1 442 L1165.3 441.9 L1165.6 441.9 L1165.8 441.8 L1166.1 441.8 L1166.3 441.8 L1166.6 441.7 L1166.8 441.7 L1167.1 441.6 L1167.3 441.6 L1167.6 441.5 L1167.8 441.5 L1168.1 441.5 L1168.3 441.4 L1168.6 441.4 L1168.8 441.4 L1169.1 441.3 L1169.3 441.3 L1169.6 441.2 L1169.8 441.2 L1170.1 441.2 L1170.3 441.1 L1170.6 441.1 L1170.8 441.1 L1171.1 441 L1171.3 441 L1171.6 441 L1171.8 440.9 L1172.1 440.9 L1172.3 440.9 L1172.6 440.8 L1172.8 440.8 L1173.1 440.8 L1173.3 440.7 L1173.6 440.7 L1173.8 440.7 L1174.1 440.6 L1174.3 440.6 L1174.6 440.6 L1174.8 440.5 L1175.1 440.5 L1175.3 440.4 L1175.6 440.4 L1175.8 440.4 L1176.1 440.3 L1176.3 440.3 L1176.6 440.3 L1176.8 440.2 L1177.1 440.2 L1177.3 440.1 L1177.6 440.1 L1177.8 440.1 L1178.1 440 L1178.3 440 L1178.6 439.9 L1178.8 439.9 L1179.1 439.8 L1179.3 439.8 L1179.6 439.8 L1179.8 439.7 L1180.1 439.7 L1180.3 439.6 L1180.6 439.6 L1180.8 439.5 L1181.1 439.5 L1181.3 439.5 L1181.6 439.4 L1181.8 439.4 L1182.1 439.3 L1182.3 439.3 L1182.6 439.2 L1182.8 439.2 L1183.1 439.1 L1183.3 439.1 L1183.6 439 L1183.8 439 L1184.1 439 L1184.3 438.9 L1184.6 438.9 L1184.8 438.8 L1185.1 438.8 L1185.3 438.7 L1185.6 438.7 L1185.8 438.6 L1186.1 438.6 L1186.3 438.5 L1186.6 438.5 L1186.8 438.4 L1187.1 438.3 L1187.3 438.3 L1187.6 438.2 L1187.8 438.2 L1188.1 438.1 L1188.3 438.1 L1188.6 438 L1188.8 438 L1189.1 437.9 L1189.3 437.8 L1189.6 437.8 L1189.8 437.7 L1190.1 437.6 L1190.3 437.6 L1190.6 437.5 L1190.8 437.5 L1191.1 437.4 L1191.3 437.3 L1191.6 437.3 L1191.8 437.2 L1192.1 437.1 L1192.3 437 L1192.6 437 L1192.8 436.9 L1193.1 436.8 L1193.3 436.7 L1193.6 436.7 L1193.8 436.6 L1194.1 436.5 L1194.3 436.4 L1194.6 436.4 L1194.8 436.3 L1195.1 436.2 L1195.3 436.1 L1195.6 436 L1195.8 435.9 L1196.1 435.9 L1196.3 435.8 L1196.6 435.7 L1196.8 435.6 L1197.1 435.5 L1197.3 435.4 L1197.6 435.3 L1197.8 435.2 L1198.1 435.2 L1198.3 435.1 L1198.6 435 L1198.8 434.9 L1199.1 434.8 L1199.3 434.7 L1199.6 434.6 L1199.8 434.5 L1200.1 434.4 L1200.3 434.3 L1200.6 434.2 L1200.8 434.1 L1201.1 434 L1201.3 433.9 L1201.6 433.8 L1201.8 433.7 L1202.1 433.6 L1202.3 433.5 L1202.6 433.4 L1202.8 433.3 L1203.1 433.1 L1203.3 433 L1203.6 432.9 L1203.8 432.8 L1204.1 432.7 L1204.3 432.5 L1204.6 432.4 L1204.8 432.3 L1205.1 432.2 L1205.3 432 L1205.6 431.9 L1205.8 431.8 L1206.1 431.7 L1206.3 431.5 L1206.6 431.4" fill="none" stroke="#0e7d37" stroke-width="3.6" stroke-linejoin="round" stroke-linecap="round"/>
<path d="M698.9 356.3 L699.1 356.3 L699.4 356.4 L699.6 356.4 L699.9 356.4 L700.1 356.5 L700.4 356.5 L700.6 356.6 L700.9 356.6 L701.1 356.7 L701.4 356.8 L701.6 356.9 L701.9 357.1 L702.1 357.2 L702.4 357.4 L702.6 357.6 L702.9 357.8 L703.1 358 L703.4 358.2 L703.6 358.4 L703.9 358.6 L704.1 358.8 L704.4 359 L704.6 359.2 L704.9 359.3 L705.1 359.5 L705.4 359.6 L705.6 359.7 L705.9 359.8 L706.1 359.8 L706.4 359.9 L706.6 359.8 L706.9 359.8 L707.1 359.7 L707.4 359.6 L707.6 359.4 L707.9 359.2 L708.1 359 L708.4 358.8 L708.6 358.5 L708.9 358.2 L709.1 357.9 L709.4 357.6 L709.6 357.3 L709.9 356.9 L710.1 356.6 L710.4 356.3 L710.6 355.9 L710.9 355.6 L711.1 355.2 L711.4 354.9 L711.6 354.6 L711.9 354.2 L712.1 353.9 L712.4 353.7 L712.6 353.4 L712.9 353.1 L713.1 352.9 L713.4 352.7 L713.6 352.6 L713.9 352.4 L714.1 352.4 L714.4 352.3 L714.6 352.3 L714.9 352.4 L715.1 352.5 L715.4 352.7 L715.6 352.9 L715.9 353.2 L716.1 353.5 L716.4 353.9 L716.6 354.3 L716.9 354.8 L717.1 355.3 L717.4 355.9 L717.6 356.4 L717.9 357 L718.1 357.6 L718.4 358.2 L718.6 358.8 L718.9 359.4 L719.1 360 L719.4 360.5 L719.6 361.1 L719.9 361.6 L720.1 362.1 L720.4 362.5 L720.6 362.9 L720.9 363.2 L721.1 363.5 L721.4 363.7 L721.6 363.9 L721.9 364 L722.1 364 L722.4 364 L722.6 363.8 L722.9 363.6 L723.1 363.4 L723.4 363.1 L723.6 362.7 L723.9 362.3 L724.1 361.9 L724.4 361.4 L724.6 360.9 L724.9 360.3 L725.1 359.7 L725.4 359.1 L725.6 358.6 L725.9 358 L726.1 357.4 L726.4 356.8 L726.6 356.2 L726.9 355.7 L727.1 355.1 L727.4 354.6 L727.6 354.2 L727.9 353.7 L728.1 353.4 L728.4 353.1 L728.6 352.8 L728.9 352.6 L729.1 352.5 L729.4 352.4 L729.6 352.4 L729.9 352.4 L730.1 352.6 L730.4 352.7 L730.6 353 L730.9 353.2 L731.1 353.6 L731.4 353.9 L731.6 354.3 L731.9 354.7 L732.1 355.2 L732.4 355.7 L732.6 356.1 L732.9 356.6 L733.1 357.1 L733.4 357.7 L733.6 358.2 L733.9 358.7 L734.1 359.1 L734.4 359.6 L734.6 360.1 L734.9 360.5 L735.1 360.9 L735.4 361.2 L735.6 361.5 L735.9 361.8 L736.1 362 L736.4 362.2 L736.6 362.3 L736.9 362.3 L737.1 362.3 L737.4 362.3 L737.6 362.2 L737.9 362 L738.1 361.8 L738.4 361.5 L738.6 361.2 L738.9 360.8 L739.1 360.4 L739.4 360 L739.6 359.6 L739.9 359.1 L740.1 358.6 L740.4 358.1 L740.6 357.6 L740.9 357.2 L741.1 356.7 L741.4 356.2 L741.6 355.7 L741.9 355.3 L742.1 354.8 L742.4 354.4 L742.6 354.1 L742.9 353.7 L743.1 353.4 L743.4 353.2 L743.6 353 L743.9 352.8 L744.1 352.8 L744.4 352.7 L744.6 352.7 L744.9 352.8 L745.1 352.8 L745.4 353 L745.6 353.1 L745.9 353.3 L746.1 353.6 L746.4 353.8 L746.6 354.1 L746.9 354.4 L747.1 354.7 L747.4 355 L747.6 355.3 L747.9 355.6 L748.1 355.9 L748.4 356.2 L748.6 356.5 L748.9 356.8 L749.1 357.1 L749.4 357.4 L749.6 357.6 L749.9 357.9 L750.1 358.1 L750.4 358.2 L750.6 358.4 L750.9 358.5 L751.1 358.5 L751.4 358.5 L751.6 358.5 L751.9 358.5 L752.1 358.4 L752.4 358.3 L752.6 358.1 L752.9 357.9 L753.1 357.7 L753.4 357.5 L753.6 357.3 L753.9 357 L754.1 356.8 L754.4 356.6 L754.6 356.3 L754.9 356.1 L755.1 355.8 L755.4 355.6 L755.6 355.4 L755.9 355.3 L756.1 355.1 L756.4 355 L756.6 354.9 L756.9 354.9 L757.1 354.9 L757.4 354.9 L757.6 354.9 L757.9 355 L758.1 355.2 L758.4 355.3 L758.6 355.5 L758.9 355.7 L759.1 355.9 L759.4 356.2 L759.6 356.4 L759.9 356.7 L760.1 357 L760.4 357.3 L760.6 357.6 L760.9 357.9 L761.1 358.2 L761.4 358.5 L761.6 358.7 L761.9 359 L762.1 359.3 L762.4 359.5 L762.6 359.8 L762.9 360 L763.1 360.2 L763.4 360.3 L763.6 360.4 L763.9 360.5 L764.1 360.6 L764.4 360.6 L764.6 360.6 L764.9 360.5 L765.1 360.4 L765.4 360.3 L765.6 360.1 L765.9 359.8 L766.1 359.6 L766.4 359.3 L766.6 359 L766.9 358.6 L767.1 358.2 L767.4 357.9 L767.6 357.5 L767.9 357.1 L768.1 356.7 L768.4 356.3 L768.6 355.9 L768.9 355.5 L769.1 355.1 L769.4 354.8 L769.6 354.5 L769.9 354.2 L770.1 353.9 L770.4 353.7 L770.6 353.5 L770.9 353.3 L771.1 353.3 L771.4 353.2 L771.6 353.2 L771.9 353.2 L772.1 353.3 L772.4 353.5 L772.6 353.7 L772.9 353.9 L773.1 354.1 L773.4 354.4 L773.6 354.7 L773.9 355 L774.1 355.3 L774.4 355.7 L774.6 356.1 L774.9 356.4 L775.1 356.8 L775.4 357.2 L775.6 357.6 L775.9 358 L776.1 358.3 L776.4 358.7 L776.6 359 L776.9 359.3 L777.1 359.6 L777.4 359.8 L777.6 360.1 L777.9 360.3 L778.1 360.4 L778.4 360.5 L778.6 360.6 L778.9 360.6 L779.1 360.6 L779.4 360.6 L779.6 360.5 L779.9 360.4 L780.1 360.2 L780.4 360.1 L780.6 359.9 L780.9 359.6 L781.1 359.4 L781.4 359.1 L781.6 358.9 L781.9 358.6 L782.1 358.3 L782.4 358 L782.6 357.7 L782.9 357.4 L783.1 357.1 L783.4 356.8 L783.6 356.5 L783.9 356.3 L784.1 356 L784.4 355.8 L784.6 355.6 L784.9 355.4 L785.1 355.2 L785.4 355.1 L785.6 355 L785.9 354.9 L786.1 354.8 L786.4 354.8 L786.6 354.8 L786.9 354.9 L787.1 354.9 L787.4 355 L787.6 355.1 L787.9 355.2 L788.1 355.4 L788.4 355.5 L788.6 355.7 L788.9 355.9 L789.1 356 L789.4 356.2 L789.6 356.4 L789.9 356.7 L790.1 356.9 L790.4 357.1 L790.6 357.3 L790.9 357.5 L791.1 357.8 L791.4 358 L791.6 358.2 L791.9 358.4 L792.1 358.7 L792.4 358.9 L792.6 359.1 L792.9 359.2 L793.1 359.4 L793.4 359.6 L793.6 359.7 L793.9 359.9 L794.1 360 L794.4 360.1 L794.6 360.2 L794.9 360.2 L795.1 360.3 L795.4 360.3 L795.6 360.2 L795.9 360.2 L796.1 360.1 L796.4 359.9 L796.6 359.8 L796.9 359.6 L797.1 359.3 L797.4 359.1 L797.6 358.8 L797.9 358.4 L798.1 358 L798.4 357.6 L798.6 357.1 L798.9 356.5 L799.1 355.9 L799.4 355.2 L799.6 354.4 L799.9 353.7 L800.1 352.8 L800.4 352 L800.6 351 L800.9 350 L801.1 349 L801.4 347.9 L801.6 346.7 L801.9 345.4 L802.1 344 L802.4 342.5 L802.6 340.9 L802.9 339.1 L803.1 337.1 L803.4 335.1 L803.6 332.9 L803.9 330.6 L804.1 328.3 L804.4 325.9 L804.6 323.5 L804.9 321 L805.1 318.5 L805.4 316 L805.6 313.4 L805.9 310.9 L806.1 308.3 L806.4 305.7 L806.6 303.1 L806.9 300.4 L807.1 297.8 L807.4 295.1 L807.6 292.4 L807.9 289.7 L808.1 286.9 L808.4 284.2 L808.6 281.4 L808.9 278.7 L809.1 276.1 L809.4 273.5 L809.6 271 L809.9 268.6 L810.1 266.3 L810.4 264 L810.6 261.9 L810.9 259.8 L811.1 257.9 L811.4 256 L811.6 254.3 L811.9 252.7 L812.1 251.3 L812.4 249.9 L812.6 248.7 L812.9 247.6 L813.1 246.6 L813.4 245.7 L813.6 244.9 L813.9 244.2 L814.1 243.6 L814.4 243.2 L814.6 243 L814.9 242.9 L815.1 243 L815.4 243.2 L815.6 243.6 L815.9 244.2 L816.1 244.9 L816.4 245.7 L816.6 246.6 L816.9 247.6 L817.1 248.7 L817.4 249.8 L817.6 251.1 L817.9 252.4 L818.1 253.9 L818.4 255.4 L818.6 257.1 L818.9 258.9 L819.1 260.8 L819.4 262.7 L819.6 264.7 L819.9 266.8 L820.1 269 L820.4 271.3 L820.6 273.7 L820.9 276.1 L821.1 278.7 L821.4 281.3 L821.6 283.9 L821.9 286.6 L822.1 289.2 L822.4 291.9 L822.6 294.5 L822.9 297.2 L823.1 299.8 L823.4 302.4 L823.6 305 L823.9 307.7 L824.1 310.3 L824.4 312.9 L824.6 315.6 L824.9 318.3 L825.1 320.9 L825.4 323.6 L825.6 326.2 L825.9 328.8 L826.1 331.3 L826.4 333.8 L826.6 336.2 L826.9 338.5 L827.1 340.8 L827.4 342.9 L827.6 344.8 L827.9 346.7 L828.1 348.4 L828.4 350 L828.6 351.5 L828.9 352.7 L829.1 353.8 L829.4 354.8 L829.6 355.6 L829.9 356.3 L830.1 356.9 L830.4 357.4 L830.6 357.9 L830.9 358.2 L831.1 358.5 L831.4 358.8 L831.6 359 L831.9 359.1 L832.1 359.1 L832.4 359.1 L832.6 359 L832.9 358.8 L833.1 358.6 L833.4 358.3 L833.6 357.9 L833.9 357.5 L834.1 357.1 L834.4 356.7 L834.6 356.2 L834.9 355.6 L835.1 355.1 L835.4 354.6 L835.6 354 L835.9 353.5 L836.1 353 L836.4 352.6 L836.6 352.2 L836.9 351.8 L837.1 351.4 L837.4 351.1 L837.6 350.8 L837.9 350.5 L838.1 350.2 L838.4 350 L838.6 349.7 L838.9 349.5 L839.1 349.2 L839.4 349 L839.6 348.8 L839.9 348.5 L840.1 348.3 L840.4 348.1 L840.6 347.9 L840.9 347.7 L841.1 347.5 L841.4 347.3 L841.6 347.1 L841.9 346.9 L842.1 346.7 L842.4 346.6 L842.6 346.4 L842.9 346.2 L843.1 346.1 L843.4 345.9 L843.6 345.7 L843.9 345.6 L844.1 345.5 L844.4 345.3 L844.6 345.2 L844.9 345 L845.1 344.9 L845.4 344.7 L845.6 344.6 L845.9 344.4 L846.1 344.3 L846.4 344.1 L846.6 343.9 L846.9 343.8 L847.1 343.6 L847.4 343.4 L847.6 343.2 L847.9 342.9 L848.1 342.7 L848.4 342.4 L848.6 342.2 L848.9 341.9 L849.1 341.6 L849.4 341.3 L849.6 340.9 L849.9 340.6 L850.1 340.2 L850.4 339.8 L850.6 339.4 L850.9 339 L851.1 338.5 L851.4 338.1 L851.6 337.6 L851.9 337.1 L852.1 336.6 L852.4 336 L852.6 335.5 L852.9 334.8 L853.1 334.2 L853.4 333.5 L853.6 332.8 L853.9 332 L854.1 331.2 L854.4 330.4 L854.6 329.5 L854.9 328.7 L855.1 327.8 L855.4 326.9 L855.6 325.9 L855.9 325 L856.1 324.1 L856.4 323.1 L856.6 322.2 L856.9 321.2 L857.1 320.2 L857.4 319.2 L857.6 318.2 L857.9 317.2 L858.1 316.1 L858.4 315.1 L858.6 314 L858.9 312.9 L859.1 311.7 L859.4 310.6 L859.6 309.4 L859.9 308.3 L860.1 307.1 L860.4 305.8 L860.6 304.6 L860.9 303.3 L861.1 302 L861.4 300.7 L861.6 299.4 L861.9 298 L862.1 296.6 L862.4 295.2 L862.6 293.7 L862.9 292.2 L863.1 290.7 L863.4 289.2 L863.6 287.6 L863.9 286.1 L864.1 284.5 L864.4 282.9 L864.6 281.3 L864.9 279.7 L865.1 278.1 L865.4 276.5 L865.6 274.9 L865.9 273.3 L866.1 271.7 L866.4 270.1 L866.6 268.5 L866.9 266.8 L867.1 265.2 L867.4 263.5 L867.6 261.8 L867.9 260.1 L868.1 258.3 L868.4 256.6 L868.6 254.9 L868.9 253.1 L869.1 251.4 L869.4 249.8 L869.6 248.1 L869.9 246.6 L870.1 245 L870.4 243.6 L870.6 242.2 L870.9 240.9 L871.1 239.7 L871.4 238.5 L871.6 237.4 L871.9 236.3 L872.1 235.3 L872.4 234.3 L872.6 233.4 L872.9 232.5 L873.1 231.6 L873.4 230.8 L873.6 230 L873.9 229.3 L874.1 228.7 L874.4 228 L874.6 227.5 L874.9 226.9 L875.1 226.4 L875.4 225.9 L875.6 225.5 L875.9 225.1 L876.1 224.7 L876.4 224.3 L876.6 224 L876.9 223.7 L877.1 223.4 L877.4 223.2 L877.6 223.1 L877.9 223 L878.1 223 L878.4 223 L878.6 223.1 L878.9 223.3 L879.1 223.5 L879.4 223.7 L879.6 224 L879.9 224.4 L880.1 224.7 L880.4 225.1 L880.6 225.6 L880.9 226 L881.1 226.4 L881.4 226.9 L881.6 227.4 L881.9 228 L882.1 228.5 L882.4 229.1 L882.6 229.8 L882.9 230.4 L883.1 231.1 L883.4 231.9 L883.6 232.6 L883.9 233.4 L884.1 234.1 L884.4 234.9 L884.6 235.6 L884.9 236.4 L885.1 237.2 L885.4 237.9 L885.6 238.7 L885.9 239.5 L886.1 240.2 L886.4 241 L886.6 241.8 L886.9 242.6 L887.1 243.4 L887.4 244.2 L887.6 245 L887.9 245.8 L888.1 246.6 L888.4 247.4 L888.6 248.2 L888.9 249 L889.1 249.8 L889.4 250.5 L889.6 251.3 L889.9 252 L890.1 252.7 L890.4 253.4 L890.6 254.1 L890.9 254.8 L891.2 255.5 L891.4 256.1 L891.7 256.8 L891.9 257.5 L892.2 258.1 L892.4 258.8 L892.7 259.4 L892.9 260.1 L893.2 260.7 L893.4 261.3 L893.7 261.9 L893.9 262.5 L894.2 263.1 L894.4 263.7 L894.7 264.3 L894.9 264.8 L895.2 265.3 L895.4 265.8 L895.7 266.3 L895.9 266.7 L896.2 267.2 L896.4 267.6 L896.7 268 L896.9 268.4 L897.2 268.8 L897.4 269.2 L897.7 269.5 L897.9 269.9 L898.2 270.2 L898.4 270.5 L898.7 270.9 L898.9 271.2 L899.2 271.4 L899.4 271.7 L899.7 272 L899.9 272.2 L900.2 272.5 L900.4 272.7 L900.7 272.9 L900.9 273.1 L901.2 273.3 L901.4 273.5 L901.7 273.7 L901.9 273.9 L902.2 274 L902.4 274.2 L902.7 274.3 L902.9 274.5 L903.2 274.6 L903.4 274.7 L903.7 274.7 L903.9 274.8 L904.2 274.8 L904.4 274.8 L904.7 274.7 L904.9 274.7 L905.2 274.6 L905.4 274.5 L905.7 274.4 L905.9 274.2 L906.2 274.1 L906.4 273.9 L906.7 273.7 L906.9 273.5 L907.2 273.3 L907.4 273.1 L907.7 272.9 L907.9 272.6 L908.2 272.4 L908.4 272.1 L908.7 271.8 L908.9 271.5 L909.2 271.1 L909.4 270.8 L909.7 270.4 L909.9 270.1 L910.2 269.7 L910.4 269.4 L910.7 269.1 L910.9 268.8 L911.2 268.5 L911.4 268.3 L911.7 268.1 L911.9 267.9 L912.2 267.8 L912.4 267.6 L912.7 267.5 L912.9 267.4 L913.2 267.2 L913.4 267.1 L913.7 267 L913.9 266.9 L914.2 266.8 L914.4 266.7 L914.7 266.6 L914.9 266.5 L915.2 266.4 L915.4 266.3 L915.7 266.2 L915.9 266.1 L916.2 266 L916.4 265.9 L916.7 265.8 L916.9 265.8 L917.2 265.7 L917.4 265.6 L917.7 265.5 L917.9 265.4 L918.2 265.3 L918.4 265.2 L918.7 265 L918.9 264.9 L919.2 264.8 L919.4 264.7 L919.7 264.5 L919.9 264.4 L920.2 264.2 L920.4 264.1 L920.7 263.9 L920.9 263.7 L921.2 263.5 L921.4 263.3 L921.7 263.1 L921.9 262.9 L922.2 262.7 L922.4 262.5 L922.7 262.2 L922.9 262 L923.2 261.8 L923.4 261.6 L923.7 261.3 L923.9 261.1 L924.2 260.9 L924.4 260.7 L924.7 260.4 L924.9 260.2 L925.2 260 L925.4 259.8 L925.7 259.6 L925.9 259.5 L926.2 259.3 L926.4 259.1 L926.7 259 L926.9 258.8 L927.2 258.7 L927.4 258.6 L927.7 258.5 L927.9 258.4 L928.2 258.4 L928.4 258.3 L928.7 258.3 L928.9 258.2 L929.2 258.2 L929.4 258.2 L929.7 258.2 L929.9 258.2 L930.2 258.2 L930.4 258.2 L930.7 258.2 L930.9 258.2 L931.2 258.2 L931.4 258.2 L931.7 258.2 L931.9 258.2 L932.2 258.2 L932.4 258.2 L932.7 258.2 L932.9 258.2 L933.2 258.2 L933.4 258.2 L933.7 258.2 L933.9 258.3 L934.2 258.3 L934.4 258.3 L934.7 258.3 L934.9 258.3 L935.2 258.3 L935.4 258.3 L935.7 258.3 L935.9 258.3 L936.2 258.3 L936.4 258.3 L936.7 258.3 L936.9 258.3 L937.2 258.3 L937.4 258.3 L937.7 258.3 L937.9 258.3 L938.2 258.3 L938.4 258.3 L938.7 258.2 L938.9 258.2 L939.2 258.1 L939.4 258.1 L939.7 258 L939.9 257.9 L940.2 257.8 L940.4 257.7 L940.7 257.6 L940.9 257.4 L941.2 257.3 L941.4 257.1 L941.7 257 L941.9 256.8 L942.2 256.6 L942.4 256.5 L942.7 256.3 L942.9 256.2 L943.2 256 L943.4 255.9 L943.7 255.7 L943.9 255.6 L944.2 255.5 L944.4 255.4 L944.7 255.3 L944.9 255.2 L945.2 255.2 L945.4 255.1 L945.7 255.1 L945.9 255.1 L946.2 255 L946.4 255 L946.7 255.1 L946.9 255.1 L947.2 255.1 L947.4 255.1 L947.7 255.2 L947.9 255.2 L948.2 255.2 L948.4 255.3 L948.7 255.3 L948.9 255.4 L949.2 255.4 L949.4 255.5 L949.7 255.5 L949.9 255.5 L950.2 255.6 L950.4 255.6 L950.7 255.7 L950.9 255.7 L951.2 255.7 L951.4 255.7 L951.7 255.7 L951.9 255.7 L952.2 255.7 L952.4 255.6 L952.7 255.5 L952.9 255.4 L953.2 255.2 L953.4 255 L953.7 254.8 L953.9 254.5 L954.2 254.2 L954.4 253.8 L954.7 253.5 L954.9 253.1 L955.2 252.7 L955.4 252.3 L955.7 251.9 L955.9 251.5 L956.2 251 L956.4 250.5 L956.7 250 L956.9 249.5 L957.2 249 L957.4 248.4 L957.7 247.8 L957.9 247.2 L958.2 246.6 L958.4 246 L958.7 245.4 L958.9 244.8 L959.2 244.2 L959.4 243.6 L959.7 243.1 L959.9 242.5 L960.2 242 L960.4 241.5 L960.7 241 L960.9 240.5 L961.2 240 L961.4 239.6 L961.7 239.1 L961.9 238.7 L962.2 238.3 L962.4 237.9 L962.7 237.5 L962.9 237.1 L963.2 236.7 L963.4 236.3 L963.7 235.9 L963.9 235.5 L964.2 235.2 L964.4 234.8 L964.7 234.4 L964.9 234.1 L965.2 233.7 L965.4 233.4 L965.7 233 L965.9 232.7 L966.2 232.3 L966.4 232 L966.7 231.7 L966.9 231.4 L967.2 231 L967.4 230.7 L967.7 230.4 L967.9 230.1 L968.2 229.7 L968.4 229.4 L968.7 229.1 L968.9 228.8 L969.2 228.5 L969.4 228.1 L969.7 227.8 L969.9 227.5 L970.2 227.3 L970.4 227 L970.7 226.7 L970.9 226.5 L971.2 226.2 L971.4 226 L971.7 225.8 L971.9 225.6 L972.2 225.4 L972.4 225.2 L972.7 225.1 L972.9 224.9 L973.2 224.8 L973.4 224.6 L973.7 224.5 L973.9 224.3 L974.2 224.2 L974.4 224.1 L974.7 224 L974.9 223.9 L975.2 223.8 L975.4 223.7 L975.7 223.7 L975.9 223.7 L976.2 223.7 L976.4 223.7 L976.7 223.8 L976.9 223.9 L977.2 224 L977.4 224.1 L977.7 224.3 L977.9 224.5 L978.2 224.6 L978.4 224.8 L978.7 225 L978.9 225.2 L979.2 225.4 L979.4 225.7 L979.7 225.9 L979.9 226.1 L980.2 226.3 L980.4 226.5 L980.7 226.7 L980.9 226.9 L981.2 227.2 L981.4 227.4 L981.7 227.6 L981.9 227.9 L982.2 228.1 L982.4 228.4 L982.7 228.6 L982.9 228.8 L983.2 229.1 L983.4 229.3 L983.7 229.5 L983.9 229.7 L984.2 229.9 L984.4 230.1 L984.7 230.3 L984.9 230.4 L985.2 230.6 L985.4 230.8 L985.7 230.9 L985.9 231.1 L986.2 231.2 L986.4 231.3 L986.7 231.4 L986.9 231.5 L987.2 231.6 L987.4 231.7 L987.7 231.7 L987.9 231.7 L988.2 231.7 L988.4 231.7 L988.7 231.6 L988.9 231.5 L989.2 231.4 L989.4 231.3 L989.7 231.2 L989.9 231.1 L990.2 231 L990.4 230.9 L990.7 230.7 L990.9 230.6 L991.2 230.5 L991.4 230.4 L991.7 230.2 L991.9 230.1 L992.2 230 L992.4 229.9 L992.7 229.8 L992.9 229.6 L993.2 229.5 L993.4 229.4 L993.7 229.3 L993.9 229.1 L994.2 229 L994.4 228.9 L994.7 228.8 L994.9 228.7 L995.2 228.6 L995.4 228.5 L995.7 228.4 L995.9 228.3 L996.2 228.2 L996.4 228.1 L996.7 228 L996.9 228 L997.2 227.9 L997.4 227.8 L997.7 227.7 L997.9 227.7 L998.2 227.6 L998.4 227.5 L998.7 227.4 L998.9 227.4 L999.2 227.3 L999.4 227.2 L999.7 227.1 L999.9 227.1 L1000.2 227 L1000.4 226.9 L1000.7 226.8 L1000.9 226.7 L1001.2 226.6 L1001.4 226.5 L1001.7 226.4 L1001.9 226.3 L1002.2 226.2 L1002.4 226.1 L1002.7 226 L1002.9 225.8 L1003.2 225.7 L1003.4 225.5 L1003.7 225.4 L1003.9 225.2 L1004.2 225 L1004.4 224.9 L1004.7 224.7 L1004.9 224.5 L1005.2 224.3 L1005.4 224.1 L1005.7 224 L1005.9 223.8 L1006.2 223.6 L1006.4 223.4 L1006.7 223.2 L1006.9 223 L1007.2 222.9 L1007.4 222.7 L1007.7 222.5 L1007.9 222.4 L1008.2 222.2 L1008.4 222 L1008.7 221.9 L1008.9 221.7 L1009.2 221.6 L1009.4 221.5 L1009.7 221.3 L1009.9 221.2 L1010.2 221.1 L1010.4 221 L1010.7 220.9 L1010.9 220.9 L1011.2 220.8 L1011.4 220.7 L1011.7 220.6 L1011.9 220.6 L1012.2 220.5 L1012.4 220.4 L1012.7 220.4 L1012.9 220.3 L1013.2 220.3 L1013.4 220.2 L1013.7 220.2 L1013.9 220.1 L1014.2 220 L1014.4 220 L1014.7 219.9 L1014.9 219.9 L1015.2 219.9 L1015.4 219.8 L1015.7 219.7 L1015.9 219.7 L1016.2 219.6 L1016.4 219.6 L1016.7 219.5 L1016.9 219.5 L1017.2 219.4 L1017.4 219.3 L1017.7 219.3 L1017.9 219.2 L1018.2 219.1 L1018.4 219 L1018.7 219 L1018.9 218.9 L1019.2 218.8 L1019.4 218.7 L1019.7 218.6 L1019.9 218.5 L1020.2 218.3 L1020.4 218.2 L1020.7 218.1 L1020.9 217.9 L1021.2 217.8 L1021.4 217.6 L1021.7 217.5 L1021.9 217.3 L1022.2 217.1 L1022.4 217 L1022.7 216.8 L1022.9 216.6 L1023.2 216.4 L1023.4 216.3 L1023.7 216.1 L1023.9 215.9 L1024.2 215.7 L1024.4 215.6 L1024.7 215.4 L1024.9 215.2 L1025.2 215 L1025.4 214.8 L1025.7 214.7 L1025.9 214.5 L1026.2 214.3 L1026.4 214.2 L1026.7 214 L1026.9 213.9 L1027.2 213.7 L1027.4 213.6 L1027.7 213.4 L1027.9 213.3 L1028.2 213.2 L1028.4 213 L1028.7 212.9 L1028.9 212.8 L1029.2 212.6 L1029.4 212.5 L1029.7 212.4 L1029.9 212.3 L1030.2 212.2 L1030.4 212 L1030.7 211.9 L1030.9 211.8 L1031.2 211.7 L1031.4 211.6 L1031.7 211.5 L1031.9 211.4 L1032.2 211.2 L1032.4 211.1 L1032.7 211 L1032.9 210.9 L1033.2 210.8 L1033.4 210.6 L1033.7 210.5 L1033.9 210.4 L1034.2 210.3 L1034.4 210.1 L1034.7 210 L1034.9 209.9 L1035.2 209.7 L1035.4 209.6 L1035.7 209.4 L1035.9 209.3 L1036.2 209.1 L1036.4 209 L1036.7 208.8 L1036.9 208.7 L1037.2 208.5 L1037.4 208.3 L1037.7 208.1 L1037.9 207.9 L1038.2 207.7 L1038.4 207.5 L1038.7 207.3 L1038.9 207.1 L1039.2 206.9 L1039.4 206.7 L1039.7 206.5 L1039.9 206.3 L1040.2 206.1 L1040.4 205.8 L1040.7 205.6 L1040.9 205.4 L1041.2 205.2 L1041.4 205 L1041.7 204.8 L1041.9 204.6 L1042.2 204.4 L1042.4 204.2 L1042.7 204 L1042.9 203.8 L1043.2 203.7 L1043.4 203.5 L1043.7 203.3 L1043.9 203.2 L1044.2 203 L1044.4 202.9 L1044.7 202.7 L1044.9 202.6 L1045.2 202.5 L1045.4 202.4 L1045.7 202.3 L1045.9 202.1 L1046.2 202 L1046.4 201.9 L1046.7 201.8 L1046.9 201.7 L1047.2 201.6 L1047.4 201.5 L1047.7 201.4 L1047.9 201.3 L1048.2 201.2 L1048.4 201.1 L1048.7 201.1 L1048.9 201 L1049.2 200.9 L1049.4 200.8 L1049.7 200.7 L1049.9 200.6 L1050.2 200.5 L1050.4 200.5 L1050.7 200.4 L1050.9 200.3 L1051.2 200.2 L1051.4 200.1 L1051.7 200 L1051.9 200 L1052.2 199.9 L1052.4 199.8 L1052.7 199.7 L1052.9 199.6 L1053.2 199.5 L1053.4 199.5 L1053.7 199.4 L1053.9 199.3 L1054.2 199.2 L1054.4 199.1 L1054.7 199.1 L1054.9 199 L1055.2 198.9 L1055.4 198.8 L1055.7 198.7 L1055.9 198.7 L1056.2 198.6 L1056.4 198.5 L1056.7 198.4 L1056.9 198.3 L1057.2 198.3 L1057.4 198.2 L1057.7 198.1 L1057.9 198 L1058.2 198 L1058.4 197.9 L1058.7 197.8 L1058.9 197.7 L1059.2 197.7 L1059.4 197.6 L1059.7 197.5 L1059.9 197.4 L1060.2 197.4 L1060.4 197.3 L1060.7 197.2 L1060.9 197.2 L1061.2 197.1 L1061.4 197 L1061.7 197 L1061.9 196.9 L1062.2 196.8 L1062.4 196.8 L1062.7 196.7 L1062.9 196.7 L1063.2 196.6 L1063.4 196.6 L1063.7 196.5 L1063.9 196.5 L1064.2 196.4 L1064.4 196.4 L1064.7 196.3 L1064.9 196.3 L1065.2 196.2 L1065.4 196.2 L1065.7 196.1 L1065.9 196.1 L1066.2 196 L1066.4 196 L1066.7 195.9 L1066.9 195.9 L1067.2 195.8 L1067.4 195.8 L1067.7 195.7 L1067.9 195.7 L1068.2 195.6 L1068.4 195.5 L1068.7 195.5 L1068.9 195.4 L1069.2 195.3 L1069.4 195.2 L1069.7 195.1 L1069.9 195 L1070.2 194.9 L1070.4 194.8 L1070.7 194.6 L1070.9 194.5 L1071.2 194.3 L1071.4 194.2 L1071.7 194 L1071.9 193.8 L1072.2 193.6 L1072.4 193.4 L1072.7 193.2 L1072.9 193 L1073.2 192.8 L1073.4 192.6 L1073.7 192.4 L1073.9 192.2 L1074.2 192 L1074.4 191.8 L1074.7 191.6 L1074.9 191.3 L1075.2 191.1 L1075.4 190.9 L1075.7 190.8 L1075.9 190.6 L1076.2 190.4 L1076.4 190.2 L1076.7 190 L1076.9 189.9 L1077.2 189.7 L1077.4 189.6 L1077.7 189.4 L1077.9 189.3 L1078.2 189.2 L1078.4 189 L1078.7 188.9 L1078.9 188.8 L1079.2 188.6 L1079.4 188.5 L1079.7 188.4 L1079.9 188.2 L1080.2 188.1 L1080.4 188 L1080.7 187.9 L1080.9 187.8 L1081.2 187.6 L1081.4 187.5 L1081.7 187.4 L1081.9 187.3 L1082.2 187.2 L1082.4 187.1 L1082.7 186.9 L1082.9 186.8 L1083.2 186.7 L1083.4 186.6 L1083.7 186.5 L1083.9 186.3 L1084.2 186.2 L1084.4 186.1 L1084.7 186 L1084.9 185.9 L1085.2 185.7 L1085.4 185.6 L1085.7 185.5 L1085.9 185.3 L1086.2 185.2 L1086.4 185.1 L1086.7 184.9 L1086.9 184.8 L1087.2 184.6 L1087.4 184.5 L1087.7 184.3 L1087.9 184.2 L1088.2 184 L1088.4 183.9 L1088.7 183.7 L1088.9 183.6 L1089.2 183.4 L1089.4 183.3 L1089.7 183.1 L1089.9 182.9 L1090.2 182.8 L1090.4 182.6 L1090.7 182.5 L1090.9 182.3 L1091.2 182.2 L1091.4 182 L1091.7 181.9 L1091.9 181.7 L1092.2 181.6 L1092.4 181.4 L1092.7 181.3 L1092.9 181.2 L1093.2 181 L1093.4 180.9 L1093.7 180.8 L1093.9 180.7 L1094.2 180.5 L1094.4 180.4 L1094.7 180.3 L1094.9 180.2 L1095.2 180.1 L1095.4 180 L1095.7 179.9 L1095.9 179.8 L1096.2 179.8 L1096.4 179.7 L1096.7 179.6 L1096.9 179.6 L1097.2 179.5 L1097.4 179.4 L1097.7 179.4 L1097.9 179.3 L1098.2 179.3 L1098.4 179.2 L1098.7 179.2 L1098.9 179.1 L1099.2 179.1 L1099.4 179 L1099.7 179 L1099.9 178.9 L1100.2 178.9 L1100.4 178.9 L1100.7 178.8 L1100.9 178.8 L1101.2 178.7 L1101.4 178.7 L1101.7 178.7 L1101.9 178.6 L1102.2 178.6 L1102.4 178.5 L1102.7 178.5 L1102.9 178.4 L1103.2 178.4 L1103.4 178.3 L1103.7 178.3 L1103.9 178.2 L1104.2 178.2 L1104.4 178.1 L1104.7 178.1 L1104.9 178 L1105.2 177.9 L1105.4 177.9 L1105.7 177.8 L1105.9 177.7 L1106.2 177.6 L1106.4 177.5 L1106.7 177.5 L1106.9 177.4 L1107.2 177.3 L1107.4 177.2 L1107.7 177.1 L1107.9 177 L1108.2 176.9 L1108.4 176.8 L1108.7 176.7 L1108.9 176.6 L1109.2 176.5 L1109.4 176.4 L1109.7 176.3 L1109.9 176.2 L1110.2 176.1 L1110.4 176 L1110.7 175.8 L1110.9 175.7 L1111.2 175.6 L1111.4 175.5 L1111.7 175.4 L1111.9 175.3 L1112.2 175.2 L1112.4 175.1 L1112.7 175 L1112.9 174.9 L1113.2 174.7 L1113.4 174.6 L1113.7 174.5 L1113.9 174.4 L1114.2 174.3 L1114.4 174.2 L1114.7 174.1 L1114.9 174 L1115.2 173.9 L1115.4 173.8 L1115.7 173.7 L1115.9 173.6 L1116.2 173.5 L1116.4 173.4 L1116.7 173.4 L1116.9 173.3 L1117.2 173.2 L1117.4 173.1 L1117.7 173 L1117.9 172.9 L1118.2 172.8 L1118.4 172.7 L1118.7 172.7 L1118.9 172.6 L1119.2 172.5 L1119.4 172.4 L1119.7 172.3 L1119.9 172.2 L1120.2 172.2 L1120.4 172.1 L1120.7 172 L1120.9 171.9 L1121.2 171.8 L1121.4 171.7 L1121.7 171.7 L1121.9 171.6 L1122.2 171.5 L1122.4 171.4 L1122.7 171.3 L1122.9 171.2 L1123.2 171.1 L1123.4 171 L1123.7 171 L1123.9 170.9 L1124.2 170.8 L1124.4 170.7 L1124.7 170.6 L1124.9 170.5 L1125.2 170.4 L1125.4 170.3 L1125.7 170.2 L1125.9 170.1 L1126.2 170 L1126.4 169.9 L1126.7 169.8 L1126.9 169.7 L1127.2 169.6 L1127.4 169.5 L1127.7 169.3 L1127.9 169.2 L1128.2 169.1 L1128.4 169 L1128.7 168.9 L1128.9 168.8 L1129.2 168.6 L1129.4 168.5 L1129.7 168.4 L1129.9 168.3 L1130.2 168.1 L1130.4 168 L1130.7 167.9 L1130.9 167.8 L1131.2 167.6 L1131.4 167.5 L1131.7 167.4 L1131.9 167.2 L1132.2 167.1 L1132.4 167 L1132.7 166.8 L1132.9 166.7 L1133.2 166.6 L1133.4 166.4 L1133.7 166.3 L1133.9 166.2 L1134.2 166 L1134.4 165.9 L1134.7 165.8 L1134.9 165.7 L1135.2 165.5 L1135.4 165.4 L1135.7 165.3 L1135.9 165.1 L1136.2 165 L1136.4 164.9 L1136.7 164.7 L1136.9 164.6 L1137.2 164.5 L1137.4 164.3 L1137.7 164.2 L1137.9 164 L1138.2 163.9 L1138.4 163.8 L1138.7 163.6 L1138.9 163.5 L1139.2 163.4 L1139.4 163.2 L1139.7 163.1 L1139.9 162.9 L1140.2 162.8 L1140.4 162.7 L1140.7 162.5 L1140.9 162.4 L1141.2 162.3 L1141.4 162.1 L1141.7 162 L1141.9 161.8 L1142.2 161.7 L1142.4 161.6 L1142.7 161.4 L1142.9 161.3 L1143.2 161.2 L1143.4 161 L1143.7 160.9 L1143.9 160.8 L1144.2 160.6 L1144.4 160.5 L1144.7 160.4 L1144.9 160.2 L1145.2 160.1 L1145.4 160 L1145.7 159.8 L1145.9 159.7 L1146.2 159.6 L1146.4 159.4 L1146.7 159.3 L1146.9 159.2 L1147.2 159 L1147.4 158.9 L1147.7 158.8 L1147.9 158.7 L1148.2 158.5 L1148.4 158.4 L1148.7 158.3 L1148.9 158.1 L1149.2 158 L1149.4 157.9 L1149.7 157.8 L1149.9 157.6 L1150.2 157.5 L1150.4 157.4 L1150.7 157.3 L1150.9 157.1 L1151.2 157 L1151.4 156.9 L1151.7 156.8 L1151.9 156.6 L1152.2 156.5 L1152.4 156.4 L1152.7 156.3 L1152.9 156.1 L1153.2 156 L1153.4 155.9 L1153.7 155.8 L1153.9 155.6 L1154.2 155.5 L1154.4 155.4 L1154.7 155.3 L1154.9 155.2 L1155.2 155 L1155.4 154.9 L1155.7 154.8 L1155.9 154.7 L1156.2 154.6 L1156.4 154.4 L1156.7 154.3 L1156.9 154.2 L1157.2 154.1 L1157.4 154 L1157.7 153.9 L1157.9 153.8 L1158.2 153.6 L1158.4 153.5 L1158.7 153.4 L1158.9 153.3 L1159.2 153.2 L1159.4 153.1 L1159.7 153 L1159.9 152.9 L1160.2 152.8 L1160.4 152.7 L1160.7 152.5 L1160.9 152.4 L1161.2 152.3 L1161.4 152.2 L1161.7 152.1 L1161.9 152 L1162.2 151.9 L1162.4 151.8 L1162.7 151.7 L1162.9 151.6 L1163.2 151.5 L1163.4 151.4 L1163.7 151.3 L1163.9 151.1 L1164.2 151 L1164.4 150.9 L1164.7 150.8 L1164.9 150.7 L1165.2 150.6 L1165.4 150.5 L1165.7 150.4 L1165.9 150.3 L1166.2 150.2 L1166.4 150.1 L1166.7 149.9 L1166.9 149.8 L1167.2 149.7 L1167.4 149.6 L1167.7 149.5 L1167.9 149.4 L1168.2 149.3 L1168.4 149.1 L1168.7 149 L1168.9 148.9 L1169.2 148.8 L1169.4 148.7 L1169.7 148.5 L1169.9 148.4 L1170.2 148.3 L1170.4 148.2 L1170.7 148 L1170.9 147.9 L1171.2 147.8 L1171.4 147.7 L1171.7 147.6 L1171.9 147.4 L1172.2 147.3 L1172.4 147.2 L1172.7 147.1 L1172.9 146.9 L1173.2 146.8 L1173.4 146.7 L1173.7 146.6 L1173.9 146.5 L1174.2 146.3 L1174.4 146.2 L1174.7 146.1 L1174.9 146 L1175.2 145.9 L1175.4 145.8 L1175.7 145.7 L1175.9 145.5 L1176.2 145.4 L1176.4 145.3 L1176.7 145.2 L1176.9 145.1 L1177.2 145 L1177.4 144.9 L1177.7 144.8 L1177.9 144.7 L1178.2 144.7 L1178.4 144.6 L1178.7 144.5 L1178.9 144.4 L1179.2 144.3 L1179.4 144.2 L1179.7 144.2 L1179.9 144.1 L1180.2 144 L1180.4 143.9 L1180.7 143.8 L1180.9 143.8 L1181.2 143.7 L1181.4 143.6 L1181.7 143.6 L1181.9 143.5 L1182.2 143.4 L1182.4 143.4 L1182.7 143.3 L1182.9 143.2 L1183.2 143.2 L1183.4 143.1 L1183.7 143 L1183.9 143 L1184.2 142.9 L1184.4 142.8 L1184.7 142.7 L1184.9 142.7 L1185.2 142.6 L1185.4 142.5 L1185.7 142.5 L1185.9 142.4 L1186.2 142.3 L1186.4 142.2 L1186.7 142.2 L1186.9 142.1 L1187.2 142 L1187.4 141.9 L1187.7 141.9 L1187.9 141.8 L1188.2 141.7 L1188.4 141.6 L1188.7 141.5 L1188.9 141.4 L1189.2 141.3 L1189.4 141.2 L1189.7 141.1 L1189.9 141 L1190.2 140.9 L1190.4 140.8 L1190.7 140.7 L1190.9 140.6 L1191.2 140.5 L1191.4 140.4 L1191.7 140.2 L1191.9 140.1 L1192.2 140 L1192.4 139.9 L1192.7 139.8 L1192.9 139.6 L1193.2 139.5 L1193.4 139.4 L1193.7 139.3 L1193.9 139.1 L1194.2 139 L1194.4 138.9 L1194.7 138.8 L1194.9 138.7 L1195.2 138.5 L1195.4 138.4 L1195.7 138.3 L1195.9 138.2 L1196.2 138.1 L1196.4 138 L1196.7 137.9 L1196.9 137.8 L1197.2 137.7 L1197.4 137.6 L1197.7 137.5 L1197.9 137.4 L1198.2 137.3 L1198.4 137.2 L1198.7 137.1 L1198.9 137 L1199.2 136.9 L1199.4 136.8 L1199.7 136.7 L1199.9 136.6 L1200.2 136.5 L1200.4 136.4 L1200.7 136.3 L1200.9 136.2 L1201.2 136.2 L1201.4 136.1 L1201.7 136 L1201.9 135.9 L1202.2 135.8 L1202.4 135.7 L1202.7 135.6 L1202.9 135.6 L1203.2 135.5 L1203.4 135.4 L1203.7 135.3 L1203.9 135.2 L1204.2 135.1 L1204.4 135.1 L1204.7 135 L1204.9 134.9 L1205.2 134.8 L1205.4 134.8 L1205.7 134.7 L1205.9 134.6" fill="none" stroke="#8a1512" stroke-width="3.4" stroke-linejoin="round" stroke-linecap="round"/>
<text transform="translate(0 725.6) scale(1 1.04)" x="698.2" y="0" font-size="27.3" text-anchor="middle">0</text>
<text transform="translate(0 725.6) scale(1 1.04)" x="800" y="0" font-size="27.3" text-anchor="middle">2</text>
<text transform="translate(0 725.6) scale(1 1.04)" x="901.7" y="0" font-size="27.3" text-anchor="middle">4</text>
<text transform="translate(0 725.6) scale(1 1.04)" x="1003.5" y="0" font-size="27.3" text-anchor="middle">6</text>
<text transform="translate(0 725.6) scale(1 1.04)" x="1105.2" y="0" font-size="27.3" text-anchor="middle">8</text>
<text transform="translate(0 725.6) scale(1 1.04)" x="1207" y="0" font-size="27.3" text-anchor="middle">10</text>
<text transform="translate(0 651) scale(1 1.04)" x="684.7" y="0" font-size="27.3" text-anchor="end">0</text>
<text transform="translate(0 508.1) scale(1 1.04)" x="684.7" y="0" font-size="27.3" text-anchor="end">3</text>
<text transform="translate(0 365.1) scale(1 1.04)" x="684.7" y="0" font-size="27.3" text-anchor="end">6</text>
<text transform="translate(0 222.2) scale(1 1.04)" x="684.7" y="0" font-size="27.3" text-anchor="end">9</text>
<text transform="translate(0 79.3) scale(1 1.04)" x="684.7" y="0" font-size="27.3" text-anchor="end">12</text>
<text transform="translate(0 89) scale(1 1.04)" x="750.5" y="0" font-size="40" font-weight="bold" fill="#000">b</text>
<text transform="translate(0 773.4) scale(1 1.04)" x="922" y="0" font-size="31.2">r (Å)</text>
<text transform="translate(647.4 597.3) rotate(-90) scale(1 1.04)" font-size="31.2">X-ray total correlation function T<tspan font-size="19" dy="9.13">x</tspan><tspan dy="-9.13">(r)</tspan></text>
<text transform="translate(0 315.5) scale(1 1.04)" y="0" font-size="27" font-weight="bold" letter-spacing="0.5" style="fill:#8a1512"><tspan x="965.9">g-(HgS)</tspan><tspan x="1067.2" dy="10.96" font-size="15.5" letter-spacing="0.3">0.5</tspan><tspan x="1089.5" dy="-10.96">(GeS</tspan><tspan x="1155" dy="10.96" font-size="15.5">2</tspan><tspan x="1164.1" dy="-10.96">)</tspan><tspan x="1174.1" dy="10.96" font-size="15.5" letter-spacing="0.3">0.5</tspan></text>
<text transform="translate(0 583.7) scale(1 1.04)" x="1027.6" y="0" font-size="27.5" font-weight="bold" letter-spacing="0.3" style="fill:#0e7d37">g-GeS<tspan font-size="16.3" dx="0.6" dy="9.62">2</tspan></text>
</g>
<g id="panel-c">
<path d="M1434.9 357.2 L1434.9 357 L1436 357 L1437.2 356.9 L1438.3 356.8 L1439.5 356.7 L1440.6 356.5 L1441.7 356.3 L1442.9 356 L1444 355.6 L1445.2 355.1 L1446.3 354.5 L1447.4 353.8 L1448.6 352.9 L1449.7 351.9 L1450.8 350.6 L1452 349 L1453.1 347.2 L1454.3 345.1 L1455.4 342.7 L1456.5 340 L1457.7 336.8 L1458.8 333.4 L1460 329.5 L1461.1 325.3 L1462.2 320.8 L1463.4 315.9 L1464.5 310.9 L1465.7 305.6 L1466.8 300.2 L1467.9 294.7 L1469.1 289.3 L1470.2 284 L1471.4 279 L1472.5 274.3 L1473.6 270.1 L1474.8 266.4 L1475.9 263.3 L1477.1 260.9 L1478.2 259.3 L1479.3 258.5 L1480.5 258.5 L1481.6 259.3 L1482.7 260.9 L1483.9 263.3 L1485 266.4 L1486.2 270.1 L1487.3 274.3 L1488.4 279 L1489.6 284 L1490.7 289.3 L1491.9 294.7 L1493 300.2 L1494.1 305.6 L1495.3 310.9 L1496.4 315.9 L1497.6 320.8 L1498.7 325.3 L1499.8 329.5 L1501 333.4 L1502.1 336.8 L1503.3 340 L1504.4 342.7 L1505.5 345.1 L1506.7 347.2 L1507.8 349 L1509 350.6 L1510.1 351.9 L1511.2 352.9 L1512.4 353.8 L1513.5 354.5 L1514.6 355.1 L1515.8 355.6 L1516.9 356 L1518.1 356.3 L1519.2 356.5 L1520.3 356.7 L1521.5 356.8 L1522.6 356.9 L1523.8 357 L1524.9 357 L1524.9 357.2 Z" fill="#daccE6" stroke="none"/>
<path d="M1434.9 357 L1436 357 L1437.2 356.9 L1438.3 356.8 L1439.5 356.7 L1440.6 356.5 L1441.7 356.3 L1442.9 356 L1444 355.6 L1445.2 355.1 L1446.3 354.5 L1447.4 353.8 L1448.6 352.9 L1449.7 351.9 L1450.8 350.6 L1452 349 L1453.1 347.2 L1454.3 345.1 L1455.4 342.7 L1456.5 340 L1457.7 336.8 L1458.8 333.4 L1460 329.5 L1461.1 325.3 L1462.2 320.8 L1463.4 315.9 L1464.5 310.9 L1465.7 305.6 L1466.8 300.2 L1467.9 294.7 L1469.1 289.3 L1470.2 284 L1471.4 279 L1472.5 274.3 L1473.6 270.1 L1474.8 266.4 L1475.9 263.3 L1477.1 260.9 L1478.2 259.3 L1479.3 258.5 L1480.5 258.5 L1481.6 259.3 L1482.7 260.9 L1483.9 263.3 L1485 266.4 L1486.2 270.1 L1487.3 274.3 L1488.4 279 L1489.6 284 L1490.7 289.3 L1491.9 294.7 L1493 300.2 L1494.1 305.6 L1495.3 310.9 L1496.4 315.9 L1497.6 320.8 L1498.7 325.3 L1499.8 329.5 L1501 333.4 L1502.1 336.8 L1503.3 340 L1504.4 342.7 L1505.5 345.1 L1506.7 347.2 L1507.8 349 L1509 350.6 L1510.1 351.9 L1511.2 352.9 L1512.4 353.8 L1513.5 354.5 L1514.6 355.1 L1515.8 355.6 L1516.9 356 L1518.1 356.3 L1519.2 356.5 L1520.3 356.7 L1521.5 356.8 L1522.6 356.9 L1523.8 357 L1524.9 357" fill="none" stroke="#7a52b3" stroke-width="1.5"/>
<path d="M1423 357.2 L1423 357.1 L1424 357.1 L1424.9 357 L1425.9 357 L1426.8 356.9 L1427.8 356.8 L1428.7 356.7 L1429.7 356.5 L1430.7 356.3 L1431.6 356 L1432.6 355.7 L1433.5 355.3 L1434.5 354.8 L1435.4 354.2 L1436.4 353.5 L1437.4 352.6 L1438.3 351.6 L1439.3 350.4 L1440.2 349.1 L1441.2 347.5 L1442.1 345.8 L1443.1 343.8 L1444.1 341.7 L1445 339.3 L1446 336.8 L1446.9 334.1 L1447.9 331.2 L1448.8 328.2 L1449.8 325.2 L1450.8 322.2 L1451.7 319.1 L1452.7 316.2 L1453.6 313.3 L1454.6 310.7 L1455.5 308.3 L1456.5 306.3 L1457.5 304.5 L1458.4 303.2 L1459.4 302.3 L1460.3 301.9 L1461.3 301.9 L1462.2 302.3 L1463.2 303.2 L1464.1 304.5 L1465.1 306.3 L1466.1 308.3 L1467 310.7 L1468 313.3 L1468.9 316.2 L1469.9 319.1 L1470.8 322.2 L1471.8 325.2 L1472.8 328.2 L1473.7 331.2 L1474.7 334.1 L1475.6 336.8 L1476.6 339.3 L1477.5 341.7 L1478.5 343.8 L1479.5 345.8 L1480.4 347.5 L1481.4 349.1 L1482.3 350.4 L1483.3 351.6 L1484.2 352.6 L1485.2 353.5 L1486.2 354.2 L1487.1 354.8 L1488.1 355.3 L1489 355.7 L1490 356 L1490.9 356.3 L1491.9 356.5 L1492.9 356.7 L1493.8 356.8 L1494.8 356.9 L1495.7 357 L1496.7 357 L1497.6 357.1 L1498.6 357.1 L1498.6 357.2 Z" fill="#e5edcc" stroke="none"/>
<path d="M1423 357.1 L1424 357.1 L1424.9 357 L1425.9 357 L1426.8 356.9 L1427.8 356.8 L1428.7 356.7 L1429.7 356.5 L1430.7 356.3 L1431.6 356 L1432.6 355.7 L1433.5 355.3 L1434.5 354.8 L1435.4 354.2 L1436.4 353.5 L1437.4 352.6 L1438.3 351.6 L1439.3 350.4 L1440.2 349.1 L1441.2 347.5 L1442.1 345.8 L1443.1 343.8 L1444.1 341.7 L1445 339.3 L1446 336.8 L1446.9 334.1 L1447.9 331.2 L1448.8 328.2 L1449.8 325.2 L1450.8 322.2 L1451.7 319.1 L1452.7 316.2 L1453.6 313.3 L1454.6 310.7 L1455.5 308.3 L1456.5 306.3 L1457.5 304.5 L1458.4 303.2 L1459.4 302.3 L1460.3 301.9 L1461.3 301.9 L1462.2 302.3 L1463.2 303.2 L1464.1 304.5 L1465.1 306.3 L1466.1 308.3 L1467 310.7 L1468 313.3 L1468.9 316.2 L1469.9 319.1 L1470.8 322.2 L1471.8 325.2 L1472.8 328.2 L1473.7 331.2 L1474.7 334.1 L1475.6 336.8 L1476.6 339.3 L1477.5 341.7 L1478.5 343.8 L1479.5 345.8 L1480.4 347.5 L1481.4 349.1 L1482.3 350.4 L1483.3 351.6 L1484.2 352.6 L1485.2 353.5 L1486.2 354.2 L1487.1 354.8 L1488.1 355.3 L1489 355.7 L1490 356 L1490.9 356.3 L1491.9 356.5 L1492.9 356.7 L1493.8 356.8 L1494.8 356.9 L1495.7 357 L1496.7 357 L1497.6 357.1 L1498.6 357.1" fill="none" stroke="#0b7a36" stroke-width="1.5"/>
<path d="M1422.4 357.2H1500" stroke="#0b7a36" stroke-width="1.5" fill="none"/>
<path d="M1500 357.2H1524" stroke="#7a52b3" stroke-width="1.5" fill="none"/>
<path d="M1422.1 642.6 L1422.1 642.5 L1423.1 642.5 L1424 642.4 L1424.9 642.4 L1425.9 642.3 L1426.8 642.2 L1427.8 642.1 L1428.7 641.9 L1429.6 641.7 L1430.6 641.4 L1431.5 641 L1432.4 640.6 L1433.4 640.1 L1434.3 639.5 L1435.3 638.7 L1436.2 637.8 L1437.1 636.7 L1438.1 635.5 L1439 634.1 L1440 632.5 L1440.9 630.6 L1441.8 628.6 L1442.8 626.3 L1443.7 623.9 L1444.6 621.2 L1445.6 618.4 L1446.5 615.4 L1447.5 612.3 L1448.4 609.1 L1449.3 605.9 L1450.3 602.7 L1451.2 599.6 L1452.2 596.7 L1453.1 593.9 L1454 591.4 L1455 589.3 L1455.9 587.5 L1456.9 586.1 L1457.8 585.1 L1458.7 584.7 L1459.7 584.7 L1460.6 585.1 L1461.5 586.1 L1462.5 587.5 L1463.4 589.3 L1464.4 591.4 L1465.3 593.9 L1466.2 596.7 L1467.2 599.6 L1468.1 602.7 L1469.1 605.9 L1470 609.1 L1470.9 612.3 L1471.9 615.4 L1472.8 618.4 L1473.8 621.2 L1474.7 623.9 L1475.6 626.3 L1476.6 628.6 L1477.5 630.6 L1478.4 632.5 L1479.4 634.1 L1480.3 635.5 L1481.3 636.7 L1482.2 637.8 L1483.1 638.7 L1484.1 639.5 L1485 640.1 L1486 640.6 L1486.9 641 L1487.8 641.4 L1488.8 641.7 L1489.7 641.9 L1490.6 642.1 L1491.6 642.2 L1492.5 642.3 L1493.5 642.4 L1494.4 642.4 L1495.3 642.5 L1496.3 642.5 L1496.3 642.6 Z" fill="#e6edcf" stroke="none"/>
<path d="M1422.1 642.5 L1423.1 642.5 L1424 642.4 L1424.9 642.4 L1425.9 642.3 L1426.8 642.2 L1427.8 642.1 L1428.7 641.9 L1429.6 641.7 L1430.6 641.4 L1431.5 641 L1432.4 640.6 L1433.4 640.1 L1434.3 639.5 L1435.3 638.7 L1436.2 637.8 L1437.1 636.7 L1438.1 635.5 L1439 634.1 L1440 632.5 L1440.9 630.6 L1441.8 628.6 L1442.8 626.3 L1443.7 623.9 L1444.6 621.2 L1445.6 618.4 L1446.5 615.4 L1447.5 612.3 L1448.4 609.1 L1449.3 605.9 L1450.3 602.7 L1451.2 599.6 L1452.2 596.7 L1453.1 593.9 L1454 591.4 L1455 589.3 L1455.9 587.5 L1456.9 586.1 L1457.8 585.1 L1458.7 584.7 L1459.7 584.7 L1460.6 585.1 L1461.5 586.1 L1462.5 587.5 L1463.4 589.3 L1464.4 591.4 L1465.3 593.9 L1466.2 596.7 L1467.2 599.6 L1468.1 602.7 L1469.1 605.9 L1470 609.1 L1470.9 612.3 L1471.9 615.4 L1472.8 618.4 L1473.8 621.2 L1474.7 623.9 L1475.6 626.3 L1476.6 628.6 L1477.5 630.6 L1478.4 632.5 L1479.4 634.1 L1480.3 635.5 L1481.3 636.7 L1482.2 637.8 L1483.1 638.7 L1484.1 639.5 L1485 640.1 L1486 640.6 L1486.9 641 L1487.8 641.4 L1488.8 641.7 L1489.7 641.9 L1490.6 642.1 L1491.6 642.2 L1492.5 642.3 L1493.5 642.4 L1494.4 642.4 L1495.3 642.5 L1496.3 642.5" fill="none" stroke="#0b7a36" stroke-width="1.5"/>
<path d="M1442.2 642.6 L1442.2 642.5 L1443 642.4 L1443.8 642.4 L1444.6 642.3 L1445.4 642.2 L1446.1 642.1 L1446.9 641.9 L1447.7 641.7 L1448.5 641.4 L1449.3 641.1 L1450.1 640.6 L1450.9 640.1 L1451.7 639.4 L1452.5 638.6 L1453.3 637.7 L1454.1 636.5 L1454.9 635.2 L1455.7 633.6 L1456.5 631.8 L1457.2 629.8 L1458 627.5 L1458.8 624.9 L1459.6 622 L1460.4 618.9 L1461.2 615.5 L1462 611.9 L1462.8 608.2 L1463.6 604.2 L1464.4 600.2 L1465.2 596.2 L1466 592.1 L1466.8 588.2 L1467.6 584.5 L1468.3 581 L1469.1 577.9 L1469.9 575.1 L1470.7 572.8 L1471.5 571.1 L1472.3 569.9 L1473.1 569.3 L1473.9 569.3 L1474.7 569.9 L1475.5 571.1 L1476.3 572.8 L1477.1 575.1 L1477.9 577.9 L1478.7 581 L1479.4 584.5 L1480.2 588.2 L1481 592.1 L1481.8 596.2 L1482.6 600.2 L1483.4 604.2 L1484.2 608.2 L1485 611.9 L1485.8 615.5 L1486.6 618.9 L1487.4 622 L1488.2 624.9 L1489 627.5 L1489.8 629.8 L1490.5 631.8 L1491.3 633.6 L1492.1 635.2 L1492.9 636.5 L1493.7 637.7 L1494.5 638.6 L1495.3 639.4 L1496.1 640.1 L1496.9 640.6 L1497.7 641.1 L1498.5 641.4 L1499.3 641.7 L1500.1 641.9 L1500.9 642.1 L1501.6 642.2 L1502.4 642.3 L1503.2 642.4 L1504 642.4 L1504.8 642.5 L1504.8 642.6 Z" fill="#dda0ce" stroke="none"/>
<path d="M1442.2 642.5 L1443 642.4 L1443.8 642.4 L1444.6 642.3 L1445.4 642.2 L1446.1 642.1 L1446.9 641.9 L1447.7 641.7 L1448.5 641.4 L1449.3 641.1 L1450.1 640.6 L1450.9 640.1 L1451.7 639.4 L1452.5 638.6 L1453.3 637.7 L1454.1 636.5 L1454.9 635.2 L1455.7 633.6 L1456.5 631.8 L1457.2 629.8 L1458 627.5 L1458.8 624.9 L1459.6 622 L1460.4 618.9 L1461.2 615.5 L1462 611.9 L1462.8 608.2 L1463.6 604.2 L1464.4 600.2 L1465.2 596.2 L1466 592.1 L1466.8 588.2 L1467.6 584.5 L1468.3 581 L1469.1 577.9 L1469.9 575.1 L1470.7 572.8 L1471.5 571.1 L1472.3 569.9 L1473.1 569.3 L1473.9 569.3 L1474.7 569.9 L1475.5 571.1 L1476.3 572.8 L1477.1 575.1 L1477.9 577.9 L1478.7 581 L1479.4 584.5 L1480.2 588.2 L1481 592.1 L1481.8 596.2 L1482.6 600.2 L1483.4 604.2 L1484.2 608.2 L1485 611.9 L1485.8 615.5 L1486.6 618.9 L1487.4 622 L1488.2 624.9 L1489 627.5 L1489.8 629.8 L1490.5 631.8 L1491.3 633.6 L1492.1 635.2 L1492.9 636.5 L1493.7 637.7 L1494.5 638.6 L1495.3 639.4 L1496.1 640.1 L1496.9 640.6 L1497.7 641.1 L1498.5 641.4 L1499.3 641.7 L1500.1 641.9 L1500.9 642.1 L1501.6 642.2 L1502.4 642.3 L1503.2 642.4 L1504 642.4 L1504.8 642.5" fill="none" stroke="#c04fa6" stroke-width="1.5"/>
<path d="M1457.9 642.6 L1457.9 642.5 L1458.7 642.5 L1459.4 642.4 L1460.2 642.4 L1460.9 642.3 L1461.7 642.2 L1462.5 642 L1463.2 641.9 L1464 641.6 L1464.7 641.4 L1465.5 641 L1466.2 640.6 L1467 640.1 L1467.8 639.4 L1468.5 638.6 L1469.3 637.7 L1470 636.7 L1470.8 635.4 L1471.5 634 L1472.3 632.3 L1473 630.5 L1473.8 628.4 L1474.6 626.1 L1475.3 623.6 L1476.1 620.9 L1476.8 618 L1477.6 615 L1478.3 611.8 L1479.1 608.6 L1479.9 605.3 L1480.6 602.1 L1481.4 599 L1482.1 596 L1482.9 593.2 L1483.6 590.7 L1484.4 588.5 L1485.2 586.6 L1485.9 585.2 L1486.7 584.2 L1487.4 583.8 L1488.2 583.8 L1488.9 584.2 L1489.7 585.2 L1490.4 586.6 L1491.2 588.5 L1492 590.7 L1492.7 593.2 L1493.5 596 L1494.2 599 L1495 602.1 L1495.7 605.3 L1496.5 608.6 L1497.3 611.8 L1498 615 L1498.8 618 L1499.5 620.9 L1500.3 623.6 L1501 626.1 L1501.8 628.4 L1502.6 630.5 L1503.3 632.3 L1504.1 634 L1504.8 635.4 L1505.6 636.7 L1506.3 637.7 L1507.1 638.6 L1507.8 639.4 L1508.6 640.1 L1509.4 640.6 L1510.1 641 L1510.9 641.4 L1511.6 641.6 L1512.4 641.9 L1513.1 642 L1513.9 642.2 L1514.7 642.3 L1515.4 642.4 L1516.2 642.4 L1516.9 642.5 L1517.7 642.5 L1517.7 642.6 Z" fill="#b9989d" stroke="none"/>
<path d="M1457.9 642.5 L1458.7 642.5 L1459.4 642.4 L1460.2 642.4 L1460.9 642.3 L1461.7 642.2 L1462.5 642 L1463.2 641.9 L1464 641.6 L1464.7 641.4 L1465.5 641 L1466.2 640.6 L1467 640.1 L1467.8 639.4 L1468.5 638.6 L1469.3 637.7 L1470 636.7 L1470.8 635.4 L1471.5 634 L1472.3 632.3 L1473 630.5 L1473.8 628.4 L1474.6 626.1 L1475.3 623.6 L1476.1 620.9 L1476.8 618 L1477.6 615 L1478.3 611.8 L1479.1 608.6 L1479.9 605.3 L1480.6 602.1 L1481.4 599 L1482.1 596 L1482.9 593.2 L1483.6 590.7 L1484.4 588.5 L1485.2 586.6 L1485.9 585.2 L1486.7 584.2 L1487.4 583.8 L1488.2 583.8 L1488.9 584.2 L1489.7 585.2 L1490.4 586.6 L1491.2 588.5 L1492 590.7 L1492.7 593.2 L1493.5 596 L1494.2 599 L1495 602.1 L1495.7 605.3 L1496.5 608.6 L1497.3 611.8 L1498 615 L1498.8 618 L1499.5 620.9 L1500.3 623.6 L1501 626.1 L1501.8 628.4 L1502.6 630.5 L1503.3 632.3 L1504.1 634 L1504.8 635.4 L1505.6 636.7 L1506.3 637.7 L1507.1 638.6 L1507.8 639.4 L1508.6 640.1 L1509.4 640.6 L1510.1 641 L1510.9 641.4 L1511.6 641.6 L1512.4 641.9 L1513.1 642 L1513.9 642.2 L1514.7 642.3 L1515.4 642.4 L1516.2 642.4 L1516.9 642.5 L1517.7 642.5" fill="none" stroke="#80288a" stroke-width="1.5"/>
<path d="M1423.3 642.6H1440" stroke="#0b7a36" stroke-width="1.5" fill="none"/>
<path d="M1440 642.6H1518" stroke="#8a2a93" stroke-width="1.6" fill="none"/>
<path d="M1372.1 690.9v-12.3M1372.1 24v12.3M1435.6 690.9v-23.8M1435.6 24v23.8M1499.1 690.9v-12.3M1499.1 24v12.3M1562.6 690.9v-23.8M1562.6 24v23.8M1626.1 690.9v-12.3M1626.1 24v12.3M1689.6 690.9v-23.8M1689.6 24v23.8M1753.1 690.9v-12.3M1753.1 24v12.3M1308.6 643.3h23.8M1816.6 643.3h-23.8M1308.6 595.6h12.3M1816.6 595.6h-12.3M1308.6 548h12.3M1816.6 548h-12.3M1308.6 500.4h23.8M1816.6 500.4h-23.8M1308.6 452.7h12.3M1816.6 452.7h-12.3M1308.6 405.1h12.3M1816.6 405.1h-12.3M1308.6 357.4h23.8M1816.6 357.4h-23.8M1308.6 309.8h12.3M1816.6 309.8h-12.3M1308.6 262.2h12.3M1816.6 262.2h-12.3M1308.6 214.5h23.8M1816.6 214.5h-23.8M1308.6 166.9h12.3M1816.6 166.9h-12.3M1308.6 119.3h12.3M1816.6 119.3h-12.3M1308.6 71.6h23.8M1816.6 71.6h-23.8" fill="none" stroke="#111" stroke-width="2.0"/>
<rect x="1308.6" y="24" width="508" height="666.9" fill="none" stroke="#111" stroke-width="2.0"/>
<path d="M1308.5 358.3 L1309 358.5 L1309.5 358.6 L1310 358.8 L1310.5 359 L1311 359.2 L1311.5 359.4 L1312 359.5 L1312.5 359.7 L1313 359.8 L1313.5 359.9 L1314 359.9 L1314.5 359.9 L1315 359.8 L1315.5 359.8 L1316 359.6 L1316.5 359.5 L1317 359.3 L1317.5 359.2 L1318 359 L1318.5 358.8 L1319 358.5 L1319.5 358.3 L1320 358 L1320.5 357.8 L1321 357.5 L1321.5 357.3 L1322 357 L1322.5 356.8 L1323 356.6 L1323.5 356.3 L1324 356.1 L1324.5 355.9 L1325 355.7 L1325.5 355.6 L1326 355.4 L1326.5 355.3 L1327 355.2 L1327.5 355.1 L1328 355.1 L1328.5 355.1 L1329 355.1 L1329.5 355.1 L1330 355.2 L1330.5 355.3 L1331 355.4 L1331.5 355.5 L1332 355.7 L1332.5 355.9 L1333 356.1 L1333.5 356.3 L1334 356.5 L1334.5 356.7 L1335 357 L1335.5 357.2 L1336 357.5 L1336.5 357.7 L1337 358 L1337.5 358.3 L1338 358.5 L1338.5 358.8 L1339 359 L1339.5 359.3 L1340 359.5 L1340.5 359.8 L1341 360 L1341.5 360.2 L1342 360.4 L1342.5 360.6 L1343 360.8 L1343.5 360.9 L1344 361 L1344.5 361.2 L1345 361.2 L1345.5 361.3 L1346 361.3 L1346.5 361.3 L1347 361.3 L1347.5 361.2 L1348 361.1 L1348.5 361 L1349 360.8 L1349.5 360.6 L1350 360.4 L1350.5 360.2 L1351 359.9 L1351.5 359.6 L1352 359.3 L1352.5 359 L1353 358.7 L1353.5 358.3 L1354 358 L1354.5 357.6 L1355 357.3 L1355.5 356.9 L1356 356.5 L1356.5 356.2 L1357 355.8 L1357.5 355.5 L1358 355.1 L1358.5 354.8 L1359 354.5 L1359.5 354.2 L1360 353.9 L1360.5 353.6 L1361 353.4 L1361.5 353.2 L1362 353 L1362.5 352.9 L1363 352.7 L1363.5 352.6 L1364 352.6 L1364.5 352.6 L1365 352.6 L1365.5 352.6 L1366 352.7 L1366.5 352.8 L1367 353 L1367.5 353.1 L1368 353.3 L1368.5 353.5 L1369 353.8 L1369.5 354 L1370 354.3 L1370.5 354.6 L1371 354.9 L1371.5 355.2 L1372 355.5 L1372.5 355.8 L1373 356.2 L1373.5 356.5 L1374 356.8 L1374.5 357.2 L1375 357.5 L1375.5 357.8 L1376 358.2 L1376.5 358.5 L1377 358.8 L1377.5 359.1 L1378 359.4 L1378.5 359.7 L1379 359.9 L1379.5 360.1 L1380 360.4 L1380.5 360.5 L1381 360.7 L1381.5 360.9 L1382 361 L1382.5 361.1 L1383 361.1 L1383.5 361.1 L1384 361.1 L1384.5 361.1 L1385 361 L1385.5 360.9 L1386 360.8 L1386.5 360.7 L1387 360.5 L1387.5 360.4 L1388 360.2 L1388.5 360 L1389 359.7 L1389.5 359.5 L1390 359.2 L1390.5 359 L1391 358.7 L1391.5 358.5 L1392 358.2 L1392.5 357.9 L1393 357.6 L1393.5 357.4 L1394 357.1 L1394.5 356.8 L1395 356.6 L1395.5 356.3 L1396 356.1 L1396.5 355.9 L1397 355.6 L1397.5 355.4 L1398 355.2 L1398.5 355.1 L1399 354.9 L1399.5 354.8 L1400 354.7 L1400.5 354.6 L1401 354.6 L1401.5 354.6 L1402 354.5 L1402.5 354.6 L1403 354.6 L1403.5 354.7 L1404 354.7 L1404.5 354.8 L1405 354.9 L1405.5 355.1 L1406 355.2 L1406.5 355.3 L1407 355.5 L1407.5 355.7 L1408 355.8 L1408.5 356 L1409 356.2 L1409.5 356.4 L1410 356.6 L1410.5 356.8 L1411 357.1 L1411.5 357.3 L1412 357.5 L1412.5 357.7 L1413 357.9 L1413.5 358.1 L1414 358.4 L1414.5 358.6 L1415 358.8 L1415.5 359 L1416 359.2 L1416.5 359.4 L1417 359.6 L1417.5 359.7 L1418 359.9 L1418.5 360 L1419 360.2 L1419.5 360.3 L1420 360.4 L1420.5 360.5 L1421 360.6 L1421.5 360.7 L1422 360.7 L1422.5 360.7 L1423 360.7 L1423.5 360.7 L1424 360.6 L1424.5 360.6 L1425 360.4 L1425.5 360.3 L1426 360.1 L1426.5 359.9 L1427 359.6 L1427.5 359.4 L1428 359.1 L1428.5 358.8 L1429 358.5 L1429.5 358.2 L1430 357.9 L1430.5 357.6 L1431 357.2 L1431.5 356.8 L1432 356.4 L1432.5 355.9 L1433 355.4 L1433.5 354.9 L1434 354.3 L1434.5 353.8 L1435 353.2 L1435.6 352.5 L1436.1 351.9 L1436.6 351.2 L1437.1 350.5 L1437.6 349.7 L1438.1 348.9 L1438.6 348.1 L1439.1 347.3 L1439.6 346.5 L1440.1 345.6 L1440.6 344.7 L1441.1 343.7 L1441.6 342.7 L1442.1 341.7 L1442.6 340.6 L1443.1 339.4 L1443.6 338.2 L1444.1 337 L1444.6 335.6 L1445.1 334.1 L1445.6 332.6 L1446.1 331 L1446.6 329.2 L1447.1 327.4 L1447.6 325.5 L1448.1 323.5 L1448.6 321.5 L1449.1 319.4 L1449.6 317.3 L1450.1 315.1 L1450.6 313 L1451.1 310.8 L1451.6 308.6 L1452.1 306.5 L1452.6 304.3 L1453.1 302.2 L1453.6 300 L1454.1 297.9 L1454.6 295.7 L1455.1 293.5 L1455.6 291.2 L1456.1 289 L1456.6 286.8 L1457.1 284.6 L1457.6 282.4 L1458.1 280.2 L1458.6 278.1 L1459.1 276 L1459.6 273.9 L1460.1 271.9 L1460.6 269.9 L1461.1 267.8 L1461.6 265.8 L1462.1 263.8 L1462.6 261.9 L1463.1 259.9 L1463.6 258.1 L1464.1 256.4 L1464.6 254.7 L1465.1 253.2 L1465.6 251.8 L1466.1 250.6 L1466.6 249.4 L1467.1 248.4 L1467.6 247.4 L1468.1 246.6 L1468.6 245.8 L1469.1 245.1 L1469.6 244.4 L1470.1 243.8 L1470.6 243.3 L1471.1 242.9 L1471.6 242.4 L1472.1 242.1 L1472.6 241.8 L1473.1 241.6 L1473.6 241.6 L1474.1 241.6 L1474.6 241.8 L1475.1 242.1 L1475.6 242.5 L1476.1 243 L1476.6 243.6 L1477.1 244.3 L1477.6 245.1 L1478.1 245.9 L1478.6 246.9 L1479.1 247.9 L1479.6 249.1 L1480.1 250.2 L1480.6 251.4 L1481.1 252.7 L1481.6 254 L1482.1 255.4 L1482.6 256.7 L1483.1 258.2 L1483.6 259.6 L1484.1 261.1 L1484.6 262.6 L1485.1 264.1 L1485.6 265.7 L1486.1 267.3 L1486.6 268.9 L1487.1 270.6 L1487.6 272.4 L1488.1 274.3 L1488.6 276.2 L1489.1 278.3 L1489.6 280.6 L1490.1 283 L1490.6 285.5 L1491.1 288.1 L1491.6 290.8 L1492.1 293.5 L1492.6 296.2 L1493.1 299 L1493.6 301.7 L1494.1 304.3 L1494.6 306.8 L1495.1 309.3 L1495.6 311.8 L1496.1 314.2 L1496.6 316.6 L1497.1 318.9 L1497.6 321.3 L1498.1 323.5 L1498.6 325.7 L1499.1 327.8 L1499.6 329.8 L1500.1 331.7 L1500.6 333.5 L1501.1 335.3 L1501.6 336.9 L1502.1 338.4 L1502.6 339.9 L1503.1 341.4 L1503.6 342.8 L1504.1 344.1 L1504.6 345.4 L1505.1 346.6 L1505.6 347.7 L1506.1 348.8 L1506.6 349.8 L1507.1 350.7 L1507.6 351.6 L1508.1 352.5 L1508.6 353.3 L1509.1 354.1 L1509.6 354.8 L1510.1 355.4 L1510.6 356 L1511.1 356.5 L1511.6 357 L1512.1 357.4 L1512.6 357.7 L1513.1 358 L1513.6 358.3 L1514.1 358.6 L1514.6 358.9 L1515.1 359.1 L1515.6 359.2 L1516.1 359.3 L1516.6 359.4 L1517.1 359.4 L1517.6 359.3 L1518.1 359.2 L1518.6 359.1 L1519.1 358.9 L1519.6 358.7 L1520.1 358.5 L1520.6 358.2 L1521.1 358 L1521.6 357.7 L1522.1 357.4 L1522.6 357.1 L1523.1 356.8 L1523.6 356.5 L1524.1 356.1 L1524.6 355.7 L1525.1 355.4 L1525.6 355 L1526.1 354.6 L1526.6 354.3 L1527.1 354 L1527.6 353.7 L1528.1 353.3 L1528.6 353.1 L1529.1 352.8 L1529.6 352.5 L1530.1 352.2 L1530.6 351.9 L1531.1 351.6 L1531.6 351.4 L1532.1 351.1 L1532.6 350.8 L1533.1 350.6 L1533.6 350.3 L1534.1 350.1 L1534.6 349.9 L1535.1 349.6 L1535.6 349.4 L1536.1 349.2 L1536.6 348.9 L1537.1 348.7 L1537.6 348.5 L1538.1 348.3 L1538.6 348.1 L1539.1 348 L1539.6 347.8 L1540.1 347.6 L1540.6 347.5 L1541.1 347.3 L1541.6 347.2 L1542.1 347 L1542.6 346.9 L1543.1 346.8 L1543.6 346.6 L1544.1 346.5 L1544.6 346.4 L1545.1 346.2 L1545.6 346.1 L1546.1 346 L1546.6 345.9 L1547.1 345.7 L1547.6 345.6 L1548.1 345.4 L1548.6 345.3 L1549.1 345.2 L1549.6 345 L1550.1 344.8 L1550.6 344.7 L1551.1 344.5 L1551.6 344.3 L1552.1 344.1 L1552.6 343.9 L1553.1 343.7 L1553.6 343.5 L1554.1 343.2 L1554.6 343 L1555.1 342.7 L1555.6 342.4 L1556.1 342.2 L1556.6 341.9 L1557.1 341.6 L1557.6 341.3 L1558.1 341 L1558.6 340.6 L1559.1 340.3 L1559.6 340 L1560.1 339.6 L1560.6 339.3 L1561.1 338.9 L1561.6 338.5 L1562.1 338.2 L1562.6 337.8 L1563.1 337.4 L1563.6 337 L1564.1 336.6 L1564.6 336.2 L1565.1 335.8 L1565.6 335.3 L1566.1 334.9 L1566.6 334.4 L1567.1 334 L1567.6 333.5 L1568.1 333 L1568.6 332.5 L1569.1 332 L1569.6 331.4 L1570.1 330.9 L1570.6 330.3 L1571.1 329.7 L1571.6 329.1 L1572.1 328.5 L1572.6 327.9 L1573.1 327.3 L1573.6 326.6 L1574.1 326 L1574.6 325.3 L1575.1 324.7 L1575.6 324 L1576.1 323.3 L1576.6 322.6 L1577.1 321.9 L1577.6 321.2 L1578.1 320.5 L1578.6 319.7 L1579.1 319 L1579.6 318.3 L1580.1 317.5 L1580.6 316.8 L1581.1 316 L1581.6 315.2 L1582.1 314.4 L1582.6 313.6 L1583.1 312.8 L1583.6 312 L1584.1 311.1 L1584.6 310.3 L1585.1 309.4 L1585.6 308.5 L1586.1 307.6 L1586.6 306.7 L1587.1 305.7 L1587.6 304.8 L1588.1 303.8 L1588.6 302.8 L1589.1 301.8 L1589.6 300.7 L1590.1 299.7 L1590.6 298.6 L1591.1 297.5 L1591.6 296.3 L1592.1 295.1 L1592.6 293.9 L1593.1 292.6 L1593.6 291.3 L1594.1 289.9 L1594.6 288.6 L1595.1 287.1 L1595.6 285.7 L1596.1 284.3 L1596.6 282.8 L1597.1 281.4 L1597.6 279.9 L1598.1 278.5 L1598.6 277 L1599.1 275.6 L1599.6 274.2 L1600.1 272.8 L1600.6 271.4 L1601.1 269.9 L1601.6 268.5 L1602.1 267.1 L1602.6 265.7 L1603.1 264.2 L1603.6 262.8 L1604.1 261.4 L1604.6 259.9 L1605.1 258.5 L1605.6 257.1 L1606.1 255.7 L1606.6 254.4 L1607.1 253 L1607.6 251.7 L1608.1 250.5 L1608.6 249.2 L1609.1 248 L1609.6 246.9 L1610.1 245.7 L1610.6 244.5 L1611.1 243.4 L1611.6 242.2 L1612.1 241.1 L1612.6 240 L1613.1 238.9 L1613.6 237.9 L1614.1 236.8 L1614.6 235.8 L1615.1 234.8 L1615.6 233.9 L1616.1 233 L1616.6 232.2 L1617.1 231.4 L1617.6 230.6 L1618.1 229.9 L1618.6 229.2 L1619.1 228.6 L1619.6 228 L1620.1 227.4 L1620.6 226.8 L1621.1 226.3 L1621.6 225.8 L1622.1 225.4 L1622.6 225 L1623.1 224.6 L1623.6 224.3 L1624.1 224 L1624.6 223.7 L1625.1 223.5 L1625.6 223.3 L1626.1 223.1 L1626.6 222.9 L1627.1 222.8 L1627.6 222.6 L1628.1 222.5 L1628.6 222.4 L1629.1 222.4 L1629.6 222.4 L1630.1 222.4 L1630.6 222.5 L1631.1 222.5 L1631.6 222.7 L1632.1 222.8 L1632.6 223 L1633.1 223.2 L1633.6 223.4 L1634.1 223.6 L1634.6 223.8 L1635.1 224.1 L1635.6 224.3 L1636.1 224.6 L1636.6 224.9 L1637.1 225.3 L1637.6 225.6 L1638.1 226 L1638.6 226.4 L1639.1 226.8 L1639.6 227.2 L1640.1 227.6 L1640.6 228.1 L1641.1 228.6 L1641.6 229.1 L1642.1 229.6 L1642.6 230.2 L1643.1 230.8 L1643.6 231.5 L1644.1 232.1 L1644.6 232.8 L1645.1 233.5 L1645.6 234.2 L1646.1 235 L1646.6 235.7 L1647.1 236.5 L1647.6 237.2 L1648.1 238 L1648.6 238.7 L1649.1 239.5 L1649.6 240.2 L1650.1 241 L1650.6 241.7 L1651.1 242.5 L1651.6 243.2 L1652.1 244 L1652.6 244.8 L1653.1 245.6 L1653.6 246.4 L1654.1 247.2 L1654.6 248 L1655.1 248.8 L1655.6 249.5 L1656.1 250.3 L1656.6 251.1 L1657.1 251.8 L1657.6 252.5 L1658.1 253.2 L1658.6 253.8 L1659.1 254.5 L1659.6 255.1 L1660.1 255.7 L1660.6 256.3 L1661.1 256.9 L1661.6 257.5 L1662.1 258.1 L1662.6 258.6 L1663.1 259.2 L1663.6 259.7 L1664.1 260.3 L1664.6 260.8 L1665.1 261.3 L1665.6 261.8 L1666.1 262.3 L1666.6 262.8 L1667.1 263.2 L1667.6 263.7 L1668.1 264.1 L1668.6 264.5 L1669.1 264.9 L1669.6 265.3 L1670.1 265.7 L1670.6 266 L1671.1 266.3 L1671.6 266.6 L1672.1 267 L1672.6 267.3 L1673.1 267.5 L1673.6 267.8 L1674.1 268.1 L1674.6 268.4 L1675.1 268.6 L1675.6 268.9 L1676.1 269.1 L1676.6 269.3 L1677.1 269.6 L1677.6 269.8 L1678.1 270 L1678.6 270.3 L1679.1 270.5 L1679.6 270.7 L1680.1 270.9 L1680.6 271.1 L1681.1 271.3 L1681.6 271.6 L1682.1 271.8 L1682.6 272 L1683.1 272.2 L1683.6 272.4 L1684.1 272.6 L1684.6 272.9 L1685.1 273.1 L1685.6 273.3 L1686.1 273.5 L1686.6 273.6 L1687.1 273.8 L1687.6 274 L1688.1 274.1 L1688.6 274.2 L1689.1 274.3 L1689.7 274.4 L1690.2 274.5 L1690.7 274.6 L1691.2 274.7 L1691.7 274.8 L1692.2 274.9 L1692.7 275 L1693.2 275 L1693.7 275 L1694.2 275.1 L1694.7 275.1 L1695.2 275.1 L1695.7 275 L1696.2 275 L1696.7 274.9 L1697.2 274.9 L1697.7 274.8 L1698.2 274.7 L1698.7 274.6 L1699.2 274.5 L1699.7 274.4 L1700.2 274.3 L1700.7 274.2 L1701.2 274.1 L1701.7 273.9 L1702.2 273.8 L1702.7 273.6 L1703.2 273.4 L1703.7 273.2 L1704.2 273 L1704.7 272.8 L1705.2 272.6 L1705.7 272.4 L1706.2 272.2 L1706.7 272 L1707.2 271.7 L1707.7 271.5 L1708.2 271.2 L1708.7 271 L1709.2 270.7 L1709.7 270.5 L1710.2 270.2 L1710.7 270 L1711.2 269.7 L1711.7 269.5 L1712.2 269.2 L1712.7 269 L1713.2 268.8 L1713.7 268.6 L1714.2 268.4 L1714.7 268.2 L1715.2 268.1 L1715.7 267.9 L1716.2 267.8 L1716.7 267.7 L1717.2 267.6 L1717.7 267.5 L1718.2 267.4 L1718.7 267.3 L1719.2 267.2 L1719.7 267.1 L1720.2 267 L1720.7 266.9 L1721.2 266.9 L1721.7 266.8 L1722.2 266.7 L1722.7 266.7 L1723.2 266.6 L1723.7 266.5 L1724.2 266.5 L1724.7 266.4 L1725.2 266.3 L1725.7 266.3 L1726.2 266.2 L1726.7 266.2 L1727.2 266.1 L1727.7 266.1 L1728.2 266 L1728.7 265.9 L1729.2 265.9 L1729.7 265.8 L1730.2 265.8 L1730.7 265.7 L1731.2 265.6 L1731.7 265.6 L1732.2 265.5 L1732.7 265.4 L1733.2 265.4 L1733.7 265.3 L1734.2 265.2 L1734.7 265.1 L1735.2 265.1 L1735.7 265 L1736.2 264.9 L1736.7 264.8 L1737.2 264.7 L1737.7 264.6 L1738.2 264.4 L1738.7 264.3 L1739.2 264.2 L1739.7 264 L1740.2 263.9 L1740.7 263.7 L1741.2 263.5 L1741.7 263.4 L1742.2 263.2 L1742.7 263 L1743.2 262.8 L1743.7 262.7 L1744.2 262.5 L1744.7 262.3 L1745.2 262.1 L1745.7 261.9 L1746.2 261.8 L1746.7 261.6 L1747.2 261.4 L1747.7 261.2 L1748.2 261.1 L1748.7 260.9 L1749.2 260.8 L1749.7 260.6 L1750.2 260.5 L1750.7 260.3 L1751.2 260.2 L1751.7 260.1 L1752.2 260 L1752.7 259.9 L1753.2 259.8 L1753.7 259.7 L1754.2 259.7 L1754.7 259.6 L1755.2 259.6 L1755.7 259.5 L1756.2 259.5 L1756.7 259.5 L1757.2 259.5 L1757.7 259.4 L1758.2 259.4 L1758.7 259.4 L1759.2 259.4 L1759.7 259.3 L1760.2 259.3 L1760.7 259.3 L1761.2 259.3 L1761.7 259.3 L1762.2 259.2 L1762.7 259.2 L1763.2 259.2 L1763.7 259.2 L1764.2 259.2 L1764.7 259.2 L1765.2 259.2 L1765.7 259.1 L1766.2 259.1 L1766.7 259.1 L1767.2 259.1 L1767.7 259.1 L1768.2 259.1 L1768.7 259.1 L1769.2 259.1 L1769.7 259 L1770.2 259 L1770.7 259 L1771.2 259 L1771.7 259 L1772.2 259 L1772.7 258.9 L1773.2 258.9 L1773.7 258.9 L1774.2 258.9 L1774.7 258.9 L1775.2 258.8 L1775.7 258.8 L1776.2 258.8 L1776.7 258.7 L1777.2 258.7 L1777.7 258.7 L1778.2 258.6 L1778.7 258.6 L1779.2 258.5 L1779.7 258.5 L1780.2 258.4 L1780.7 258.4 L1781.2 258.3 L1781.7 258.2 L1782.2 258.1 L1782.7 258 L1783.2 258 L1783.7 257.9 L1784.2 257.8 L1784.7 257.7 L1785.2 257.6 L1785.7 257.5 L1786.2 257.4 L1786.7 257.3 L1787.2 257.2 L1787.7 257.1 L1788.2 257 L1788.7 256.9 L1789.2 256.8 L1789.7 256.7 L1790.2 256.6 L1790.7 256.5 L1791.2 256.4 L1791.7 256.4 L1792.2 256.3 L1792.7 256.2 L1793.2 256.1 L1793.7 256 L1794.2 255.9 L1794.7 255.8 L1795.2 255.7 L1795.7 255.6 L1796.2 255.5 L1796.7 255.4 L1797.2 255.3 L1797.7 255.2 L1798.2 255.2 L1798.7 255.1 L1799.2 255.1 L1799.7 255 L1800.2 255 L1800.7 255 L1801.2 255 L1801.7 255 L1802.2 255.1 L1802.7 255.1 L1803.2 255.1 L1803.7 255.2 L1804.2 255.2 L1804.7 255.3 L1805.2 255.3 L1805.7 255.4 L1806.2 255.4 L1806.7 255.5 L1807.2 255.5 L1807.7 255.6 L1808.2 255.6 L1808.7 255.7 L1809.2 255.7 L1809.7 255.8 L1810.2 255.8 L1810.7 255.8 L1811.2 255.9 L1811.7 255.9 L1812.2 256 L1812.7 256 L1813.2 256.1 L1813.7 256.1 L1814.2 256.2 L1814.7 256.2 L1815.2 256.3 L1815.7 256.3 L1816.2 256.4" fill="none" stroke="#8a1512" stroke-width="3.6" stroke-linejoin="round" stroke-linecap="round"/>
<path d="M1308.5 643.8 L1309 644 L1309.5 644.1 L1310 644.3 L1310.5 644.5 L1311 644.7 L1311.5 644.9 L1312 645 L1312.5 645.2 L1313 645.3 L1313.5 645.4 L1314 645.4 L1314.5 645.4 L1315 645.3 L1315.5 645.3 L1316 645.1 L1316.5 645 L1317 644.8 L1317.5 644.7 L1318 644.5 L1318.5 644.3 L1319 644 L1319.5 643.8 L1320 643.5 L1320.5 643.3 L1321 643 L1321.5 642.8 L1322 642.5 L1322.5 642.3 L1323 642.1 L1323.5 641.8 L1324 641.6 L1324.5 641.4 L1325 641.2 L1325.5 641.1 L1326 640.9 L1326.5 640.8 L1327 640.7 L1327.5 640.6 L1328 640.6 L1328.5 640.6 L1329 640.6 L1329.5 640.6 L1330 640.7 L1330.5 640.8 L1331 640.9 L1331.5 641 L1332 641.2 L1332.5 641.4 L1333 641.6 L1333.5 641.8 L1334 642 L1334.5 642.2 L1335 642.5 L1335.5 642.7 L1336 643 L1336.5 643.2 L1337 643.5 L1337.5 643.8 L1338 644 L1338.5 644.3 L1339 644.5 L1339.5 644.8 L1340 645 L1340.5 645.3 L1341 645.5 L1341.5 645.7 L1342 645.9 L1342.5 646.1 L1343 646.3 L1343.5 646.4 L1344 646.5 L1344.5 646.7 L1345 646.7 L1345.5 646.8 L1346 646.8 L1346.5 646.8 L1347 646.8 L1347.5 646.7 L1348 646.6 L1348.5 646.5 L1349 646.3 L1349.5 646.1 L1350 645.9 L1350.5 645.7 L1351 645.4 L1351.5 645.1 L1352 644.8 L1352.5 644.5 L1353 644.2 L1353.5 643.8 L1354 643.5 L1354.5 643.1 L1355 642.8 L1355.5 642.4 L1356 642 L1356.5 641.7 L1357 641.3 L1357.5 641 L1358 640.6 L1358.5 640.3 L1359 640 L1359.5 639.7 L1360 639.4 L1360.5 639.1 L1361 638.9 L1361.5 638.7 L1362 638.5 L1362.5 638.4 L1363 638.2 L1363.5 638.1 L1364 638.1 L1364.5 638.1 L1365 638.1 L1365.5 638.1 L1366 638.2 L1366.5 638.3 L1367 638.5 L1367.5 638.6 L1368 638.8 L1368.5 639 L1369 639.3 L1369.5 639.5 L1370 639.8 L1370.5 640.1 L1371 640.4 L1371.5 640.7 L1372 641 L1372.5 641.3 L1373 641.7 L1373.5 642 L1374 642.3 L1374.5 642.7 L1375 643 L1375.5 643.3 L1376 643.7 L1376.5 644 L1377 644.3 L1377.5 644.6 L1378 644.9 L1378.5 645.2 L1379 645.4 L1379.5 645.6 L1380 645.9 L1380.5 646 L1381 646.2 L1381.5 646.4 L1382 646.5 L1382.5 646.6 L1383 646.6 L1383.5 646.6 L1384 646.6 L1384.5 646.6 L1385 646.5 L1385.5 646.4 L1386 646.3 L1386.5 646.2 L1387 646 L1387.5 645.9 L1388 645.7 L1388.5 645.5 L1389 645.2 L1389.5 645 L1390 644.7 L1390.5 644.5 L1391 644.2 L1391.5 644 L1392 643.7 L1392.5 643.4 L1393 643.1 L1393.5 642.9 L1394 642.6 L1394.5 642.3 L1395 642.1 L1395.5 641.8 L1396 641.6 L1396.5 641.4 L1397 641.1 L1397.5 640.9 L1398 640.7 L1398.5 640.6 L1399 640.4 L1399.5 640.3 L1400 640.2 L1400.5 640.1 L1401 640.1 L1401.5 640.1 L1402 640 L1402.5 640.1 L1403 640.1 L1403.5 640.2 L1404 640.2 L1404.5 640.3 L1405 640.4 L1405.5 640.6 L1406 640.7 L1406.5 640.8 L1407 641 L1407.5 641.2 L1408 641.3 L1408.5 641.5 L1409 641.7 L1409.5 641.9 L1410 642.1 L1410.5 642.3 L1411 642.6 L1411.5 642.8 L1412 643 L1412.5 643.2 L1413 643.4 L1413.5 643.6 L1414 643.9 L1414.5 644.1 L1415 644.3 L1415.5 644.5 L1416 644.7 L1416.5 644.9 L1417 645.1 L1417.5 645.2 L1418 645.4 L1418.5 645.5 L1419 645.7 L1419.5 645.8 L1420 645.9 L1420.5 646 L1421 646.1 L1421.5 646.2 L1422 646.2 L1422.5 646.2 L1423 646.2 L1423.5 646.2 L1424 646.1 L1424.5 646.1 L1425 645.9 L1425.5 645.8 L1426 645.6 L1426.5 645.4 L1427 645.1 L1427.5 644.9 L1428 644.6 L1428.5 644.3 L1429 644 L1429.5 643.7 L1430 643.4 L1430.5 643.1 L1431 642.7 L1431.5 642.3 L1432 641.9 L1432.5 641.4 L1433 640.9 L1433.5 640.4 L1434 639.8 L1434.5 639.3 L1435 638.7 L1435.6 638 L1436.1 637.4 L1436.6 636.7 L1437.1 636 L1437.6 635.2 L1438.1 634.4 L1438.6 633.6 L1439.1 632.8 L1439.6 632 L1440.1 631.1 L1440.6 630.2 L1441.1 629.2 L1441.6 628.2 L1442.1 627.2 L1442.6 626.1 L1443.1 624.9 L1443.6 623.7 L1444.1 622.5 L1444.6 621.1 L1445.1 619.6 L1445.6 618.1 L1446.1 616.5 L1446.6 614.7 L1447.1 612.9 L1447.6 611 L1448.1 609 L1448.6 607 L1449.1 604.9 L1449.6 602.8 L1450.1 600.6 L1450.6 598.5 L1451.1 596.3 L1451.6 594.1 L1452.1 592 L1452.6 589.8 L1453.1 587.7 L1453.6 585.5 L1454.1 583.4 L1454.6 581.2 L1455.1 579 L1455.6 576.7 L1456.1 574.5 L1456.6 572.3 L1457.1 570.1 L1457.6 567.9 L1458.1 565.7 L1458.6 563.6 L1459.1 561.5 L1459.6 559.4 L1460.1 557.4 L1460.6 555.4 L1461.1 553.3 L1461.6 551.3 L1462.1 549.3 L1462.6 547.4 L1463.1 545.4 L1463.6 543.6 L1464.1 541.9 L1464.6 540.2 L1465.1 538.7 L1465.6 537.3 L1466.1 536.1 L1466.6 534.9 L1467.1 533.9 L1467.6 532.9 L1468.1 532.1 L1468.6 531.3 L1469.1 530.6 L1469.6 529.9 L1470.1 529.3 L1470.6 528.8 L1471.1 528.4 L1471.6 527.9 L1472.1 527.6 L1472.6 527.3 L1473.1 527.1 L1473.6 527.1 L1474.1 527.1 L1474.6 527.3 L1475.1 527.6 L1475.6 528 L1476.1 528.5 L1476.6 529.1 L1477.1 529.8 L1477.6 530.6 L1478.1 531.4 L1478.6 532.4 L1479.1 533.4 L1479.6 534.6 L1480.1 535.7 L1480.6 536.9 L1481.1 538.2 L1481.6 539.5 L1482.1 540.9 L1482.6 542.2 L1483.1 543.7 L1483.6 545.1 L1484.1 546.6 L1484.6 548.1 L1485.1 549.6 L1485.6 551.2 L1486.1 552.8 L1486.6 554.4 L1487.1 556.1 L1487.6 557.9 L1488.1 559.8 L1488.6 561.7 L1489.1 563.8 L1489.6 566.1 L1490.1 568.5 L1490.6 571 L1491.1 573.6 L1491.6 576.3 L1492.1 579 L1492.6 581.7 L1493.1 584.5 L1493.6 587.2 L1494.1 589.8 L1494.6 592.3 L1495.1 594.8 L1495.6 597.3 L1496.1 599.7 L1496.6 602.1 L1497.1 604.4 L1497.6 606.8 L1498.1 609 L1498.6 611.2 L1499.1 613.3 L1499.6 615.3 L1500.1 617.2 L1500.6 619 L1501.1 620.8 L1501.6 622.4 L1502.1 623.9 L1502.6 625.4 L1503.1 626.9 L1503.6 628.3 L1504.1 629.6 L1504.6 630.9 L1505.1 632.1 L1505.6 633.2 L1506.1 634.3 L1506.6 635.3 L1507.1 636.2 L1507.6 637.1 L1508.1 638 L1508.6 638.8 L1509.1 639.6 L1509.6 640.3 L1510.1 640.9 L1510.6 641.5 L1511.1 642 L1511.6 642.5 L1512.1 642.9 L1512.6 643.2 L1513.1 643.5 L1513.6 643.8 L1514.1 644.1 L1514.6 644.4 L1515.1 644.6 L1515.6 644.7 L1516.1 644.8 L1516.6 644.9 L1517.1 644.9 L1517.6 644.8 L1518.1 644.7 L1518.6 644.6 L1519.1 644.4 L1519.6 644.2 L1520.1 644 L1520.6 643.7 L1521.1 643.5 L1521.6 643.2 L1522.1 642.9 L1522.6 642.6 L1523.1 642.3 L1523.6 642 L1524.1 641.6 L1524.6 641.2 L1525.1 640.9 L1525.6 640.5 L1526.1 640.1 L1526.6 639.8 L1527.1 639.5 L1527.6 639.2 L1528.1 638.8 L1528.6 638.6 L1529.1 638.3 L1529.6 638 L1530.1 637.7 L1530.6 637.4 L1531.1 637.1 L1531.6 636.9 L1532.1 636.6 L1532.6 636.3 L1533.1 636.1 L1533.6 635.8 L1534.1 635.6 L1534.6 635.4 L1535.1 635.1 L1535.6 634.9 L1536.1 634.7 L1536.6 634.4 L1537.1 634.2 L1537.6 634 L1538.1 633.8 L1538.6 633.6 L1539.1 633.5 L1539.6 633.3 L1540.1 633.1 L1540.6 633 L1541.1 632.8 L1541.6 632.7 L1542.1 632.5 L1542.6 632.4 L1543.1 632.3 L1543.6 632.1 L1544.1 632 L1544.6 631.9 L1545.1 631.7 L1545.6 631.6 L1546.1 631.5 L1546.6 631.4 L1547.1 631.2 L1547.6 631.1 L1548.1 630.9 L1548.6 630.8 L1549.1 630.7 L1549.6 630.5 L1550.1 630.3 L1550.6 630.2 L1551.1 630 L1551.6 629.8 L1552.1 629.6 L1552.6 629.4 L1553.1 629.2 L1553.6 629 L1554.1 628.7 L1554.6 628.5 L1555.1 628.2 L1555.6 627.9 L1556.1 627.7 L1556.6 627.4 L1557.1 627.1 L1557.6 626.8 L1558.1 626.5 L1558.6 626.1 L1559.1 625.8 L1559.6 625.5 L1560.1 625.1 L1560.6 624.8 L1561.1 624.4 L1561.6 624 L1562.1 623.7 L1562.6 623.3 L1563.1 622.9 L1563.6 622.5 L1564.1 622.1 L1564.6 621.7 L1565.1 621.3 L1565.6 620.8 L1566.1 620.4 L1566.6 619.9 L1567.1 619.5 L1567.6 619 L1568.1 618.5 L1568.6 618 L1569.1 617.5 L1569.6 616.9 L1570.1 616.4 L1570.6 615.8 L1571.1 615.2 L1571.6 614.6 L1572.1 614 L1572.6 613.4 L1573.1 612.8 L1573.6 612.1 L1574.1 611.5 L1574.6 610.8 L1575.1 610.2 L1575.6 609.5 L1576.1 608.8 L1576.6 608.1 L1577.1 607.4 L1577.6 606.7 L1578.1 606 L1578.6 605.2 L1579.1 604.5 L1579.6 603.8 L1580.1 603 L1580.6 602.3 L1581.1 601.5 L1581.6 600.7 L1582.1 599.9 L1582.6 599.1 L1583.1 598.3 L1583.6 597.5 L1584.1 596.6 L1584.6 595.8 L1585.1 594.9 L1585.6 594 L1586.1 593.1 L1586.6 592.2 L1587.1 591.2 L1587.6 590.3 L1588.1 589.3 L1588.6 588.3 L1589.1 587.3 L1589.6 586.2 L1590.1 585.2 L1590.6 584.1 L1591.1 583 L1591.6 581.8 L1592.1 580.6 L1592.6 579.4 L1593.1 578.1 L1593.6 576.8 L1594.1 575.4 L1594.6 574.1 L1595.1 572.6 L1595.6 571.2 L1596.1 569.8 L1596.6 568.3 L1597.1 566.9 L1597.6 565.4 L1598.1 564 L1598.6 562.5 L1599.1 561.1 L1599.6 559.7 L1600.1 558.3 L1600.6 556.9 L1601.1 555.4 L1601.6 554 L1602.1 552.6 L1602.6 551.2 L1603.1 549.7 L1603.6 548.3 L1604.1 546.9 L1604.6 545.4 L1605.1 544 L1605.6 542.6 L1606.1 541.2 L1606.6 539.9 L1607.1 538.5 L1607.6 537.2 L1608.1 536 L1608.6 534.7 L1609.1 533.5 L1609.6 532.4 L1610.1 531.2 L1610.6 530 L1611.1 528.9 L1611.6 527.7 L1612.1 526.6 L1612.6 525.5 L1613.1 524.4 L1613.6 523.4 L1614.1 522.3 L1614.6 521.3 L1615.1 520.3 L1615.6 519.4 L1616.1 518.5 L1616.6 517.7 L1617.1 516.9 L1617.6 516.1 L1618.1 515.4 L1618.6 514.7 L1619.1 514.1 L1619.6 513.5 L1620.1 512.9 L1620.6 512.3 L1621.1 511.8 L1621.6 511.3 L1622.1 510.9 L1622.6 510.5 L1623.1 510.1 L1623.6 509.8 L1624.1 509.5 L1624.6 509.2 L1625.1 509 L1625.6 508.8 L1626.1 508.6 L1626.6 508.4 L1627.1 508.3 L1627.6 508.1 L1628.1 508 L1628.6 507.9 L1629.1 507.9 L1629.6 507.9 L1630.1 507.9 L1630.6 508 L1631.1 508 L1631.6 508.2 L1632.1 508.3 L1632.6 508.5 L1633.1 508.7 L1633.6 508.9 L1634.1 509.1 L1634.6 509.3 L1635.1 509.6 L1635.6 509.8 L1636.1 510.1 L1636.6 510.4 L1637.1 510.8 L1637.6 511.1 L1638.1 511.5 L1638.6 511.9 L1639.1 512.3 L1639.6 512.7 L1640.1 513.1 L1640.6 513.6 L1641.1 514.1 L1641.6 514.6 L1642.1 515.1 L1642.6 515.7 L1643.1 516.3 L1643.6 517 L1644.1 517.6 L1644.6 518.3 L1645.1 519 L1645.6 519.7 L1646.1 520.5 L1646.6 521.2 L1647.1 522 L1647.6 522.7 L1648.1 523.5 L1648.6 524.2 L1649.1 525 L1649.6 525.7 L1650.1 526.5 L1650.6 527.2 L1651.1 528 L1651.6 528.7 L1652.1 529.5 L1652.6 530.3 L1653.1 531.1 L1653.6 531.9 L1654.1 532.7 L1654.6 533.5 L1655.1 534.3 L1655.6 535 L1656.1 535.8 L1656.6 536.6 L1657.1 537.3 L1657.6 538 L1658.1 538.7 L1658.6 539.3 L1659.1 540 L1659.6 540.6 L1660.1 541.2 L1660.6 541.8 L1661.1 542.4 L1661.6 543 L1662.1 543.6 L1662.6 544.1 L1663.1 544.7 L1663.6 545.2 L1664.1 545.8 L1664.6 546.3 L1665.1 546.8 L1665.6 547.3 L1666.1 547.8 L1666.6 548.3 L1667.1 548.7 L1667.6 549.2 L1668.1 549.6 L1668.6 550 L1669.1 550.4 L1669.6 550.8 L1670.1 551.2 L1670.6 551.5 L1671.1 551.8 L1671.6 552.1 L1672.1 552.5 L1672.6 552.8 L1673.1 553 L1673.6 553.3 L1674.1 553.6 L1674.6 553.9 L1675.1 554.1 L1675.6 554.4 L1676.1 554.6 L1676.6 554.8 L1677.1 555.1 L1677.6 555.3 L1678.1 555.5 L1678.6 555.8 L1679.1 556 L1679.6 556.2 L1680.1 556.4 L1680.6 556.6 L1681.1 556.8 L1681.6 557.1 L1682.1 557.3 L1682.6 557.5 L1683.1 557.7 L1683.6 557.9 L1684.1 558.1 L1684.6 558.4 L1685.1 558.6 L1685.6 558.8 L1686.1 559 L1686.6 559.1 L1687.1 559.3 L1687.6 559.5 L1688.1 559.6 L1688.6 559.7 L1689.1 559.8 L1689.7 559.9 L1690.2 560 L1690.7 560.1 L1691.2 560.2 L1691.7 560.3 L1692.2 560.4 L1692.7 560.5 L1693.2 560.5 L1693.7 560.5 L1694.2 560.6 L1694.7 560.6 L1695.2 560.6 L1695.7 560.5 L1696.2 560.5 L1696.7 560.4 L1697.2 560.4 L1697.7 560.3 L1698.2 560.2 L1698.7 560.1 L1699.2 560 L1699.7 559.9 L1700.2 559.8 L1700.7 559.7 L1701.2 559.6 L1701.7 559.4 L1702.2 559.3 L1702.7 559.1 L1703.2 558.9 L1703.7 558.7 L1704.2 558.5 L1704.7 558.3 L1705.2 558.1 L1705.7 557.9 L1706.2 557.7 L1706.7 557.5 L1707.2 557.2 L1707.7 557 L1708.2 556.7 L1708.7 556.5 L1709.2 556.2 L1709.7 556 L1710.2 555.7 L1710.7 555.5 L1711.2 555.2 L1711.7 555 L1712.2 554.7 L1712.7 554.5 L1713.2 554.3 L1713.7 554.1 L1714.2 553.9 L1714.7 553.7 L1715.2 553.6 L1715.7 553.4 L1716.2 553.3 L1716.7 553.2 L1717.2 553.1 L1717.7 553 L1718.2 552.9 L1718.7 552.8 L1719.2 552.7 L1719.7 552.6 L1720.2 552.5 L1720.7 552.4 L1721.2 552.4 L1721.7 552.3 L1722.2 552.2 L1722.7 552.2 L1723.2 552.1 L1723.7 552 L1724.2 552 L1724.7 551.9 L1725.2 551.8 L1725.7 551.8 L1726.2 551.7 L1726.7 551.7 L1727.2 551.6 L1727.7 551.6 L1728.2 551.5 L1728.7 551.4 L1729.2 551.4 L1729.7 551.3 L1730.2 551.3 L1730.7 551.2 L1731.2 551.1 L1731.7 551.1 L1732.2 551 L1732.7 550.9 L1733.2 550.9 L1733.7 550.8 L1734.2 550.7 L1734.7 550.6 L1735.2 550.6 L1735.7 550.5 L1736.2 550.4 L1736.7 550.3 L1737.2 550.2 L1737.7 550.1 L1738.2 549.9 L1738.7 549.8 L1739.2 549.7 L1739.7 549.5 L1740.2 549.4 L1740.7 549.2 L1741.2 549 L1741.7 548.9 L1742.2 548.7 L1742.7 548.5 L1743.2 548.3 L1743.7 548.2 L1744.2 548 L1744.7 547.8 L1745.2 547.6 L1745.7 547.4 L1746.2 547.3 L1746.7 547.1 L1747.2 546.9 L1747.7 546.7 L1748.2 546.6 L1748.7 546.4 L1749.2 546.3 L1749.7 546.1 L1750.2 546 L1750.7 545.8 L1751.2 545.7 L1751.7 545.6 L1752.2 545.5 L1752.7 545.4 L1753.2 545.3 L1753.7 545.2 L1754.2 545.2 L1754.7 545.1 L1755.2 545.1 L1755.7 545 L1756.2 545 L1756.7 545 L1757.2 545 L1757.7 544.9 L1758.2 544.9 L1758.7 544.9 L1759.2 544.9 L1759.7 544.8 L1760.2 544.8 L1760.7 544.8 L1761.2 544.8 L1761.7 544.8 L1762.2 544.7 L1762.7 544.7 L1763.2 544.7 L1763.7 544.7 L1764.2 544.7 L1764.7 544.7 L1765.2 544.7 L1765.7 544.6 L1766.2 544.6 L1766.7 544.6 L1767.2 544.6 L1767.7 544.6 L1768.2 544.6 L1768.7 544.6 L1769.2 544.6 L1769.7 544.5 L1770.2 544.5 L1770.7 544.5 L1771.2 544.5 L1771.7 544.5 L1772.2 544.5 L1772.7 544.4 L1773.2 544.4 L1773.7 544.4 L1774.2 544.4 L1774.7 544.4 L1775.2 544.3 L1775.7 544.3 L1776.2 544.3 L1776.7 544.2 L1777.2 544.2 L1777.7 544.2 L1778.2 544.1 L1778.7 544.1 L1779.2 544 L1779.7 544 L1780.2 543.9 L1780.7 543.9 L1781.2 543.8 L1781.7 543.7 L1782.2 543.6 L1782.7 543.5 L1783.2 543.5 L1783.7 543.4 L1784.2 543.3 L1784.7 543.2 L1785.2 543.1 L1785.7 543 L1786.2 542.9 L1786.7 542.8 L1787.2 542.7 L1787.7 542.6 L1788.2 542.5 L1788.7 542.4 L1789.2 542.3 L1789.7 542.2 L1790.2 542.1 L1790.7 542 L1791.2 541.9 L1791.7 541.9 L1792.2 541.8 L1792.7 541.7 L1793.2 541.6 L1793.7 541.5 L1794.2 541.4 L1794.7 541.3 L1795.2 541.2 L1795.7 541.1 L1796.2 541 L1796.7 540.9 L1797.2 540.8 L1797.7 540.7 L1798.2 540.7 L1798.7 540.6 L1799.2 540.6 L1799.7 540.5 L1800.2 540.5 L1800.7 540.5 L1801.2 540.5 L1801.7 540.5 L1802.2 540.6 L1802.7 540.6 L1803.2 540.6 L1803.7 540.7 L1804.2 540.7 L1804.7 540.8 L1805.2 540.8 L1805.7 540.9 L1806.2 540.9 L1806.7 541 L1807.2 541 L1807.7 541.1 L1808.2 541.1 L1808.7 541.2 L1809.2 541.2 L1809.7 541.3 L1810.2 541.3 L1810.7 541.3 L1811.2 541.4 L1811.7 541.4 L1812.2 541.5 L1812.7 541.5 L1813.2 541.6 L1813.7 541.6 L1814.2 541.7 L1814.7 541.7 L1815.2 541.8 L1815.7 541.8 L1816.2 541.9" fill="none" stroke="#8a1512" stroke-width="3.6" stroke-linejoin="round" stroke-linecap="round"/>
<text transform="translate(0 725.6) scale(1 1.04)" x="1308.6" y="0" font-size="27.3" text-anchor="middle">1</text>
<text transform="translate(0 725.6) scale(1 1.04)" x="1435.6" y="0" font-size="27.3" text-anchor="middle">2</text>
<text transform="translate(0 725.6) scale(1 1.04)" x="1562.6" y="0" font-size="27.3" text-anchor="middle">3</text>
<text transform="translate(0 725.6) scale(1 1.04)" x="1689.6" y="0" font-size="27.3" text-anchor="middle">4</text>
<text transform="translate(0 725.6) scale(1 1.04)" x="1816.6" y="0" font-size="27.3" text-anchor="middle">5</text>
<text transform="translate(0 651) scale(1 1.04)" x="1295.1" y="0" font-size="27.3" text-anchor="end">0</text>
<text transform="translate(0 508.1) scale(1 1.04)" x="1295.1" y="0" font-size="27.3" text-anchor="end">3</text>
<text transform="translate(0 365.1) scale(1 1.04)" x="1295.1" y="0" font-size="27.3" text-anchor="end">6</text>
<text transform="translate(0 222.2) scale(1 1.04)" x="1295.1" y="0" font-size="27.3" text-anchor="end">9</text>
<text transform="translate(0 79.3) scale(1 1.04)" x="1295.1" y="0" font-size="27.3" text-anchor="end">12</text>
<text transform="translate(0 90) scale(1 1.04)" x="1364.5" y="0" font-size="40" font-weight="bold" fill="#000">c</text>
<text transform="translate(0 773.4) scale(1 1.04)" x="1535" y="0" font-size="31.2">r (Å)</text>
<text transform="translate(1257.7 597.3) rotate(-90) scale(1 1.04)" font-size="31.2">X-ray total correlation function T<tspan font-size="19" dy="9.13">x</tspan><tspan dy="-9.13">(r)</tspan></text>
<text transform="translate(0 82.7) scale(1 1.04)" y="0" font-size="27" font-weight="bold" letter-spacing="0.5" style="fill:#8a1512"><tspan x="1566.2">g-(HgS)</tspan><tspan x="1667.5" dy="10.96" font-size="15.5" letter-spacing="0.3">0.5</tspan><tspan x="1689.8" dy="-10.96">(GeS</tspan><tspan x="1755.3" dy="10.96" font-size="15.5">2</tspan><tspan x="1764.4" dy="-10.96">)</tspan><tspan x="1774.4" dy="10.96" font-size="15.5" letter-spacing="0.3">0.5</tspan></text>
<text transform="translate(0 305.6) scale(1 1.04)" x="1399" y="0" font-size="20.7" font-weight="bold" letter-spacing="0.25" style="fill:#0b7a36">Ge-S</text>
<text transform="translate(0 265.8) scale(1 1.04)" x="1495" y="0" font-size="20.7" font-weight="bold" letter-spacing="0.25" style="fill:#6f4bab">Hg-S</text>
<text transform="translate(0 589.4) scale(1 1.04)" x="1399" y="0" font-size="20.7" font-weight="bold" letter-spacing="0.25" style="fill:#0b7a36">Ge-S</text>
<text transform="translate(0 555.3) scale(1 1.04)" x="1491.3" y="0" font-size="20.7" font-weight="bold" letter-spacing="0.25" style="fill:#c85bb0">Hg<tspan font-size="12.5" dy="9.23" dx="0.3">2F</tspan><tspan dy="-9.23" dx="0.6">-S</tspan></text>
<text transform="translate(0 590.2) scale(1 1.04)" x="1502.3" y="0" font-size="20.7" font-weight="bold" letter-spacing="0.25" style="fill:#85228a">Hg<tspan font-size="12.5" dy="9.62" dx="0.3">4F</tspan><tspan dy="-9.62" dx="0.6">-S</tspan></text>
</g>
</svg></body></html>
